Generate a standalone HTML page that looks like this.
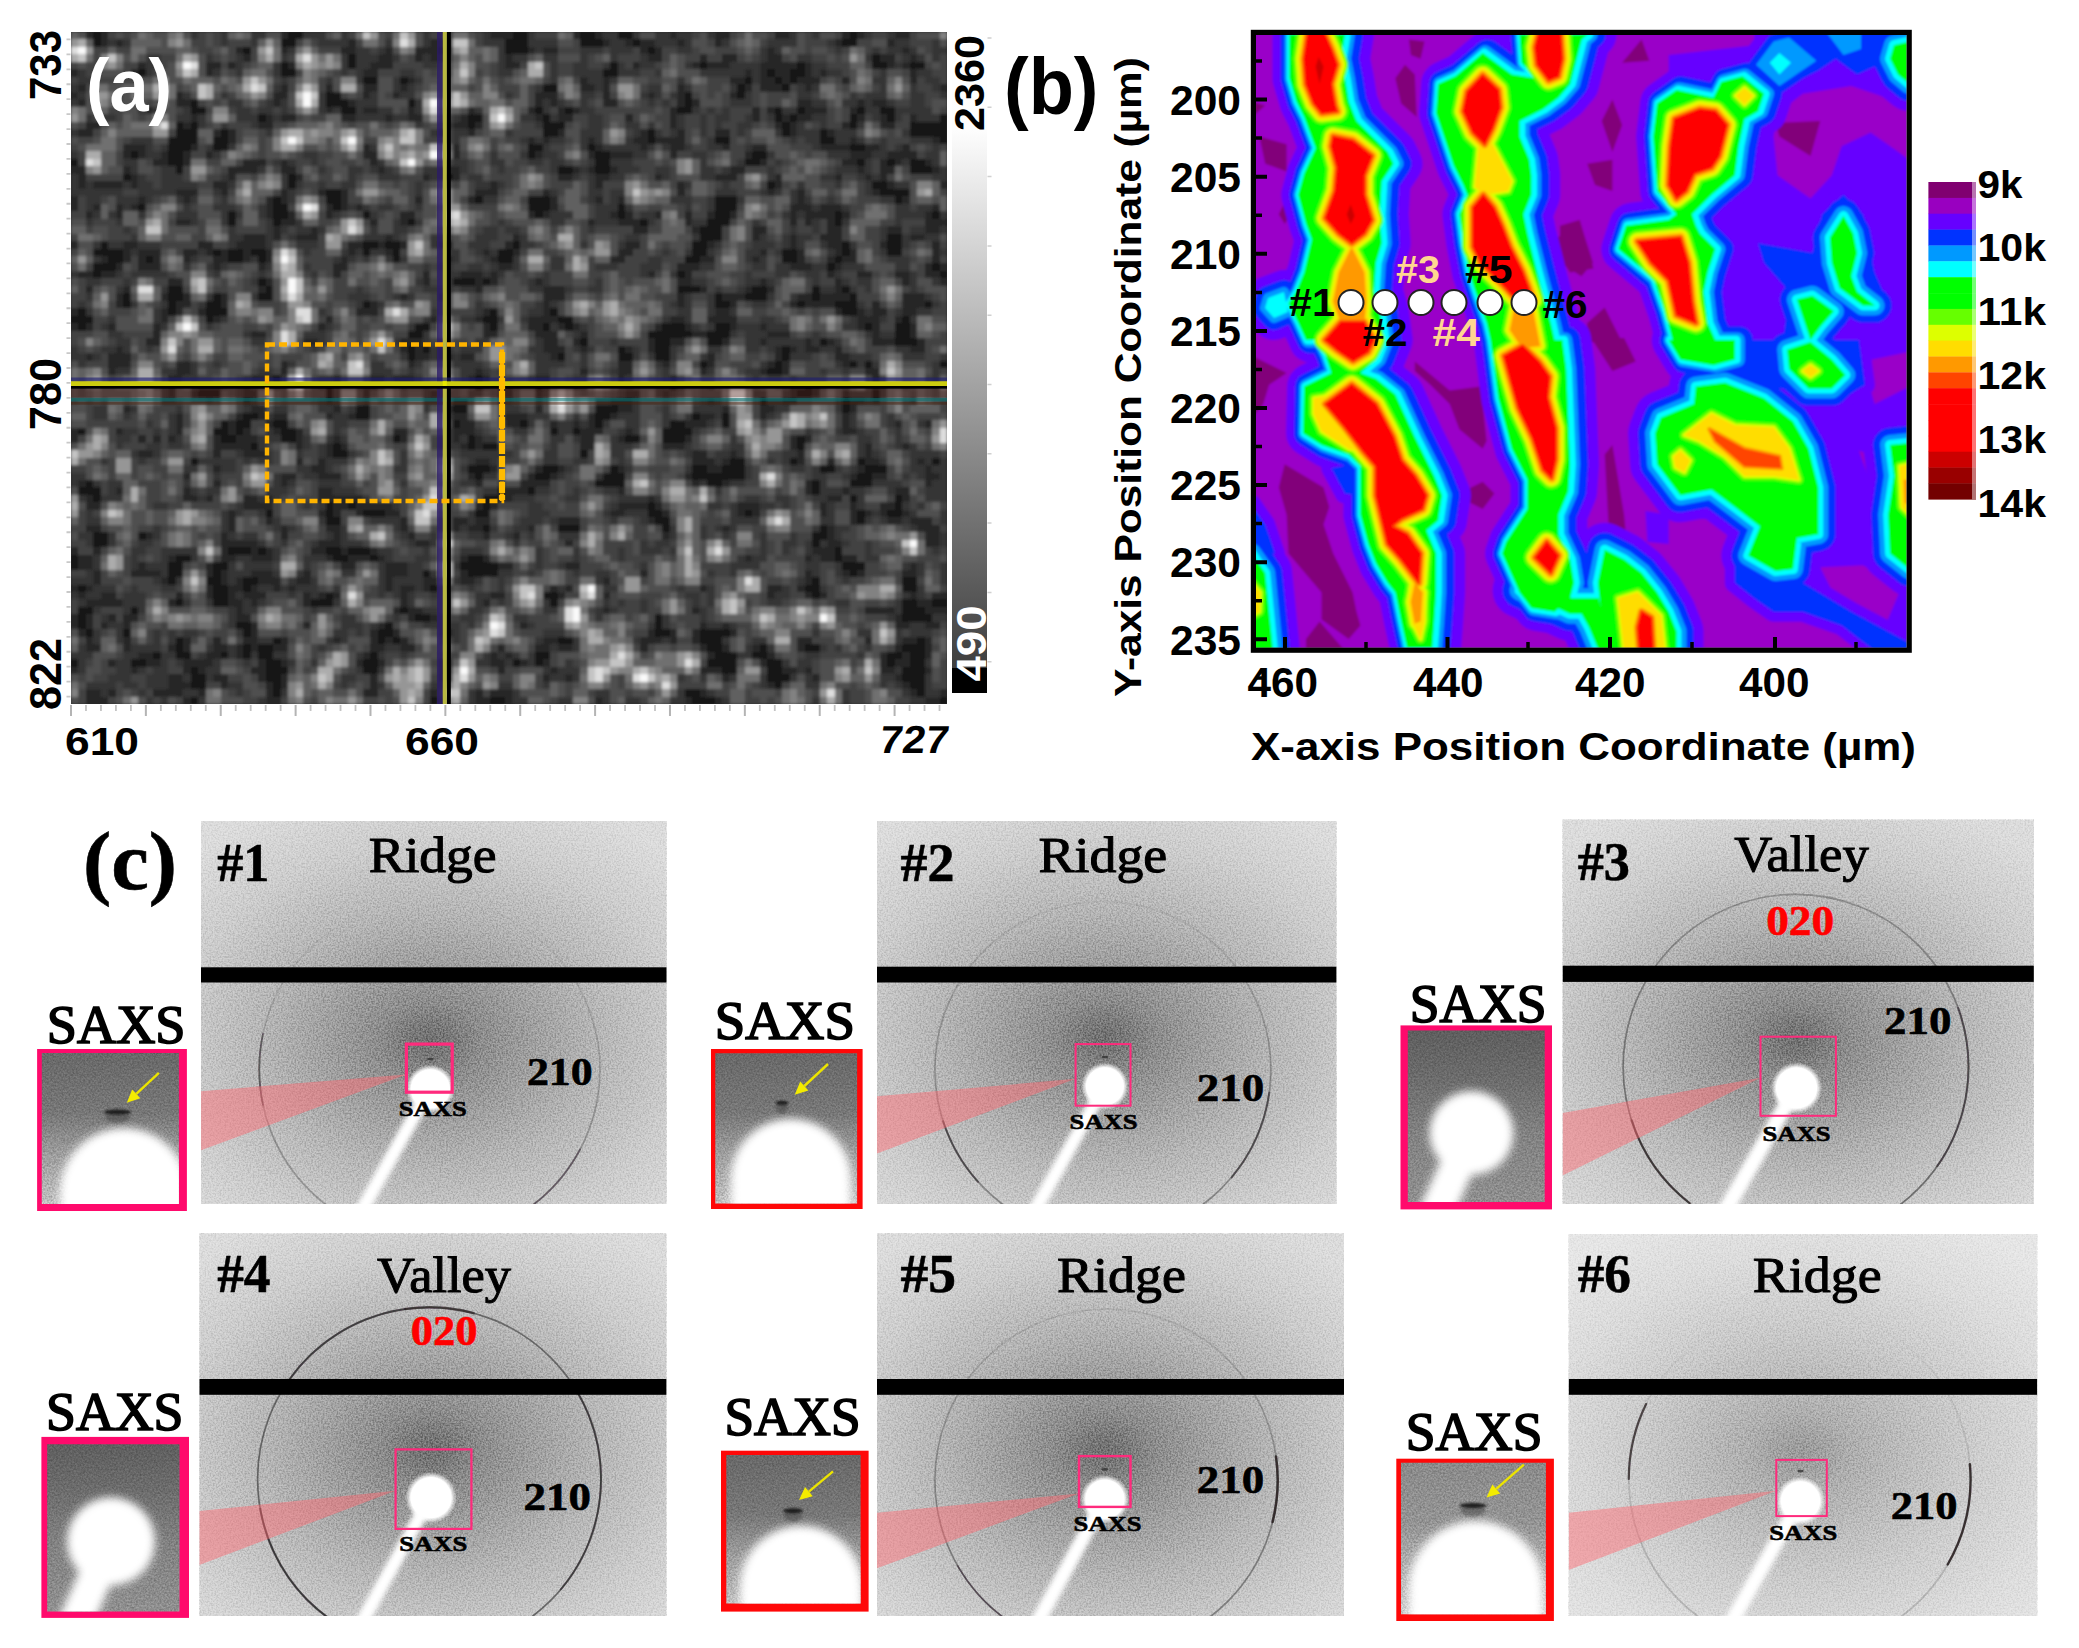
<!DOCTYPE html>
<html><head><meta charset="utf-8"><title>Figure</title>
<style>html,body{margin:0;padding:0;background:#fff;width:2079px;height:1648px}svg{display:block}</style>
</head><body>
<svg width="2079" height="1648" viewBox="0 0 2079 1648">
<defs>
<filter id="bl05" x="-20%" y="-20%" width="140%" height="140%"><feGaussianBlur stdDeviation="0.6"/></filter>
<filter id="bl1" x="-50%" y="-50%" width="200%" height="200%"><feGaussianBlur stdDeviation="1"/></filter>
<filter id="bl2" x="-50%" y="-50%" width="200%" height="200%"><feGaussianBlur stdDeviation="1.6"/></filter>
<filter id="bl3" x="-50%" y="-50%" width="200%" height="200%"><feGaussianBlur stdDeviation="2.6"/></filter>
<filter id="bl4" x="-50%" y="-50%" width="200%" height="200%"><feGaussianBlur stdDeviation="4"/></filter>
<filter id="bl6" x="-50%" y="-50%" width="200%" height="200%"><feGaussianBlur stdDeviation="6"/></filter>
<filter id="grain2" x="0" y="0" width="100%" height="100%" color-interpolation-filters="sRGB"><feTurbulence type="fractalNoise" baseFrequency="0.6" numOctaves="2" seed="3"/><feColorMatrix type="matrix" values="2.2 0 0 0 -0.6  2.2 0 0 0 -0.6  2.2 0 0 0 -0.6  0 0 0 0 1"/></filter>
<filter id="grain" x="0" y="0" width="100%" height="100%"><feTurbulence type="fractalNoise" baseFrequency="0.55" numOctaves="2" seed="7"/><feColorMatrix type="matrix" values="0 0 0 0 0  0 0 0 0 0  0 0 0 0 0  1.6 0 0 0 -0.45"/></filter>
<clipPath id="cpa"><rect x="71" y="32" width="876" height="672"/></clipPath>
<filter id="bla" x="-2%" y="-2%" width="104%" height="104%"><feGaussianBlur stdDeviation="0.23"/></filter>
<linearGradient id="cba" x1="0" y1="0" x2="0" y2="1"><stop offset="0" stop-color="#fff"/><stop offset="0.15" stop-color="#fdfdfd"/><stop offset="0.962" stop-color="#3e3e3e"/><stop offset="0.963" stop-color="#000"/><stop offset="1" stop-color="#000"/></linearGradient>
<clipPath id="cpb"><rect x="1256" y="34.6" width="650.6" height="613.2"/></clipPath>
<filter id="blb" x="-5%" y="-5%" width="110%" height="110%"><feGaussianBlur stdDeviation="0.9"/></filter>
<clipPath id="cp1"><rect x="201" y="820.9" width="465.7" height="383.2"/></clipPath>
<radialGradient id="hg1" gradientUnits="userSpaceOnUse" cx="430.3" cy="1040.9" r="260" gradientTransform="translate(430.3 1040.9) scale(1.3 1) translate(-430.3 -1040.9)"><stop offset="0" stop-color="#707070"/><stop offset="0.06" stop-color="#797979"/><stop offset="0.15" stop-color="#8d8d8d"/><stop offset="0.3" stop-color="#a0a0a0"/><stop offset="0.5" stop-color="#b7b7b7"/><stop offset="0.75" stop-color="#cdcdcd"/><stop offset="1" stop-color="#dcdcdc"/></radialGradient>
<radialGradient id="bg1" gradientUnits="userSpaceOnUse" cx="430.3" cy="1088.9" r="24.6"><stop offset="0" stop-color="#fff"/><stop offset="0.78" stop-color="#fff"/><stop offset="1" stop-color="#fff" stop-opacity="0"/></radialGradient>
<linearGradient id="rg1" gradientUnits="userSpaceOnUse" x1="0" y1="899" x2="0" y2="1137.5"><stop offset="0" stop-color="#333" stop-opacity="0.0"/><stop offset="0.45" stop-color="#333" stop-opacity="0.175"/><stop offset="1" stop-color="#333" stop-opacity="0.35"/></linearGradient>
<clipPath id="ci1"><rect x="41.8" y="1053" width="137.1" height="151"/></clipPath>
<linearGradient id="ig1" x1="0" y1="0" x2="0" y2="1"><stop offset="0" stop-color="#747474"/><stop offset="0.4" stop-color="#868686"/><stop offset="0.65" stop-color="#b0b0b0"/><stop offset="1" stop-color="#dcdcdc"/></linearGradient>
<clipPath id="cp2"><rect x="877" y="820.9" width="459.6" height="383.2"/></clipPath>
<radialGradient id="hg2" gradientUnits="userSpaceOnUse" cx="1104.9" cy="1038.2" r="260" gradientTransform="translate(1104.9 1038.2) scale(1.3 1) translate(-1104.9 -1038.2)"><stop offset="0" stop-color="#707070"/><stop offset="0.06" stop-color="#797979"/><stop offset="0.15" stop-color="#8d8d8d"/><stop offset="0.3" stop-color="#a0a0a0"/><stop offset="0.5" stop-color="#b7b7b7"/><stop offset="0.75" stop-color="#cdcdcd"/><stop offset="1" stop-color="#dcdcdc"/></radialGradient>
<radialGradient id="bg2" gradientUnits="userSpaceOnUse" cx="1104.9" cy="1086.2" r="23.8"><stop offset="0" stop-color="#fff"/><stop offset="0.78" stop-color="#fff"/><stop offset="1" stop-color="#fff" stop-opacity="0"/></radialGradient>
<linearGradient id="rg2" gradientUnits="userSpaceOnUse" x1="0" y1="901.3" x2="0" y2="1136.6"><stop offset="0" stop-color="#333" stop-opacity="0.08"/><stop offset="0.45" stop-color="#333" stop-opacity="0.265"/><stop offset="1" stop-color="#333" stop-opacity="0.45"/></linearGradient>
<clipPath id="ci2"><rect x="715.3" y="1053.3" width="141.8" height="150.2"/></clipPath>
<linearGradient id="ig2" x1="0" y1="0" x2="0" y2="1"><stop offset="0" stop-color="#747474"/><stop offset="0.4" stop-color="#868686"/><stop offset="0.65" stop-color="#b0b0b0"/><stop offset="1" stop-color="#dcdcdc"/></linearGradient>
<clipPath id="cp3"><rect x="1562.5" y="819.5" width="471.4" height="384.5"/></clipPath>
<radialGradient id="hg3" gradientUnits="userSpaceOnUse" cx="1796.5" cy="1039.9" r="260" gradientTransform="translate(1796.5 1039.9) scale(1.3 1) translate(-1796.5 -1039.9)"><stop offset="0" stop-color="#707070"/><stop offset="0.06" stop-color="#797979"/><stop offset="0.15" stop-color="#8d8d8d"/><stop offset="0.3" stop-color="#a0a0a0"/><stop offset="0.5" stop-color="#b7b7b7"/><stop offset="0.75" stop-color="#cdcdcd"/><stop offset="1" stop-color="#dcdcdc"/></radialGradient>
<radialGradient id="bg3" gradientUnits="userSpaceOnUse" cx="1796.5" cy="1087.9" r="25.8"><stop offset="0" stop-color="#fff"/><stop offset="0.78" stop-color="#fff"/><stop offset="1" stop-color="#fff" stop-opacity="0"/></radialGradient>
<linearGradient id="rg3" gradientUnits="userSpaceOnUse" x1="0" y1="894.3" x2="0" y2="1136.1"><stop offset="0" stop-color="#333" stop-opacity="0.35"/><stop offset="0.45" stop-color="#333" stop-opacity="0.475"/><stop offset="1" stop-color="#333" stop-opacity="0.6"/></linearGradient>
<clipPath id="ci3"><rect x="1407.8" y="1030.4" width="136.9" height="171.7"/></clipPath>
<linearGradient id="ig3" x1="0" y1="0" x2="0" y2="1"><stop offset="0" stop-color="#686868"/><stop offset="0.3" stop-color="#7a7a7a"/><stop offset="0.6" stop-color="#929292"/><stop offset="1" stop-color="#a2a2a2"/></linearGradient>
<clipPath id="cp4"><rect x="199.3" y="1233.3" width="467.3" height="382.8"/></clipPath>
<radialGradient id="hg4" gradientUnits="userSpaceOnUse" cx="431" cy="1449.6" r="260" gradientTransform="translate(431 1449.6) scale(1.3 1) translate(-431 -1449.6)"><stop offset="0" stop-color="#707070"/><stop offset="0.06" stop-color="#797979"/><stop offset="0.15" stop-color="#8d8d8d"/><stop offset="0.3" stop-color="#a0a0a0"/><stop offset="0.5" stop-color="#b7b7b7"/><stop offset="0.75" stop-color="#cdcdcd"/><stop offset="1" stop-color="#dcdcdc"/></radialGradient>
<radialGradient id="bg4" gradientUnits="userSpaceOnUse" cx="431" cy="1497.6" r="25.8"><stop offset="0" stop-color="#fff"/><stop offset="0.78" stop-color="#fff"/><stop offset="1" stop-color="#fff" stop-opacity="0"/></radialGradient>
<linearGradient id="rg4" gradientUnits="userSpaceOnUse" x1="0" y1="1307.3" x2="0" y2="1547.7"><stop offset="0" stop-color="#333" stop-opacity="0.6"/><stop offset="0.45" stop-color="#333" stop-opacity="0.625"/><stop offset="1" stop-color="#333" stop-opacity="0.65"/></linearGradient>
<clipPath id="ci4"><rect x="47.2" y="1444.2" width="132.3" height="167.2"/></clipPath>
<linearGradient id="ig4" x1="0" y1="0" x2="0" y2="1"><stop offset="0" stop-color="#686868"/><stop offset="0.3" stop-color="#7a7a7a"/><stop offset="0.6" stop-color="#929292"/><stop offset="1" stop-color="#a2a2a2"/></linearGradient>
<clipPath id="cp5"><rect x="877" y="1233.3" width="467" height="382.8"/></clipPath>
<radialGradient id="hg5" gradientUnits="userSpaceOnUse" cx="1104.9" cy="1451.2" r="260" gradientTransform="translate(1104.9 1451.2) scale(1.3 1) translate(-1104.9 -1451.2)"><stop offset="0" stop-color="#707070"/><stop offset="0.06" stop-color="#797979"/><stop offset="0.15" stop-color="#8d8d8d"/><stop offset="0.3" stop-color="#a0a0a0"/><stop offset="0.5" stop-color="#b7b7b7"/><stop offset="0.75" stop-color="#cdcdcd"/><stop offset="1" stop-color="#dcdcdc"/></radialGradient>
<radialGradient id="bg5" gradientUnits="userSpaceOnUse" cx="1104.9" cy="1499.2" r="24.6"><stop offset="0" stop-color="#fff"/><stop offset="0.78" stop-color="#fff"/><stop offset="1" stop-color="#fff" stop-opacity="0"/></radialGradient>
<linearGradient id="rg5" gradientUnits="userSpaceOnUse" x1="0" y1="1309" x2="0" y2="1548.9"><stop offset="0" stop-color="#333" stop-opacity="0.12"/><stop offset="0.45" stop-color="#333" stop-opacity="0.31"/><stop offset="1" stop-color="#333" stop-opacity="0.5"/></linearGradient>
<clipPath id="ci5"><rect x="726.3" y="1455" width="134.3" height="148.6"/></clipPath>
<linearGradient id="ig5" x1="0" y1="0" x2="0" y2="1"><stop offset="0" stop-color="#747474"/><stop offset="0.4" stop-color="#868686"/><stop offset="0.65" stop-color="#b0b0b0"/><stop offset="1" stop-color="#dcdcdc"/></linearGradient>
<clipPath id="cp6"><rect x="1568.6" y="1234.3" width="468.7" height="381.8"/></clipPath>
<radialGradient id="hg6" gradientUnits="userSpaceOnUse" cx="1800.5" cy="1452.9" r="260" gradientTransform="translate(1800.5 1452.9) scale(1.3 1) translate(-1800.5 -1452.9)"><stop offset="0" stop-color="#707070"/><stop offset="0.06" stop-color="#797979"/><stop offset="0.15" stop-color="#8d8d8d"/><stop offset="0.3" stop-color="#a0a0a0"/><stop offset="0.5" stop-color="#b7b7b7"/><stop offset="0.75" stop-color="#cdcdcd"/><stop offset="1" stop-color="#dcdcdc"/></radialGradient>
<radialGradient id="bg6" gradientUnits="userSpaceOnUse" cx="1800.5" cy="1500.9" r="24.6"><stop offset="0" stop-color="#fff"/><stop offset="0.78" stop-color="#fff"/><stop offset="1" stop-color="#fff" stop-opacity="0"/></radialGradient>
<linearGradient id="rg6" gradientUnits="userSpaceOnUse" x1="0" y1="1308.2" x2="0" y2="1547.4"><stop offset="0" stop-color="#333" stop-opacity="0.0"/><stop offset="0.45" stop-color="#333" stop-opacity="0.11"/><stop offset="1" stop-color="#333" stop-opacity="0.22"/></linearGradient>
<clipPath id="ci6"><rect x="1401" y="1462.7" width="144.9" height="151.6"/></clipPath>
<linearGradient id="ig6" x1="0" y1="0" x2="0" y2="1"><stop offset="0" stop-color="#9a9a9a"/><stop offset="0.4" stop-color="#a6a6a6"/><stop offset="0.65" stop-color="#c4c4c4"/><stop offset="1" stop-color="#e6e6e6"/></linearGradient></defs>
<rect width="2079" height="1648" fill="#fff"/>
<g clip-path="url(#cpa)"><g transform="translate(71 32) scale(7.4872 7.4667)" filter="url(#bla)" shape-rendering="crispEdges">
<rect x="-1" y="-1" width="119" height="92" fill="rgb(38,38,38)"/>
<path fill="rgb(24,24,24)" d="M3 0h1v1h-1zM29 0h2v1h-2zM59 0h2v1h-2zM68 0h2v1h-2zM73 0h2v1h-2zM104 0h1v1h-1zM3 1h1v1h-1zM28 1h2v1h-2zM58 1h3v1h-3zM68 1h3v1h-3zM75 1h1v1h-1zM103 1h2v1h-2zM23 2h1v1h-1zM49 2h1v1h-1zM58 2h3v1h-3zM77 2h1v1h-1zM37 3h1v1h-1zM107 3h1v1h-1zM28 4h1v1h-1zM37 4h1v1h-1zM72 4h1v1h-1zM84 4h1v1h-1zM97 4h1v1h-1zM107 4h2v1h-2zM112 4h2v1h-2zM9 5h1v1h-1zM28 5h2v1h-2zM71 5h2v1h-2zM93 5h1v1h-1zM96 5h2v1h-2zM39 6h2v1h-2zM44 6h1v1h-1zM90 6h1v1h-1zM94 6h1v1h-1zM96 6h1v1h-1zM63 7h2v1h-2zM89 7h1v1h-1zM95 7h1v1h-1zM34 8h2v1h-2zM82 8h1v1h-1zM89 8h1v1h-1zM16 9h1v1h-1zM34 9h3v1h-3zM45 9h1v1h-1zM82 9h1v1h-1zM16 10h2v1h-2zM36 10h2v1h-2zM62 10h1v1h-1zM66 10h1v1h-1zM81 10h2v1h-2zM94 10h1v1h-1zM97 10h1v1h-1zM105 10h1v1h-1zM108 10h2v1h-2zM25 11h1v1h-1zM53 11h2v1h-2zM63 11h1v1h-1zM94 11h1v1h-1zM96 11h1v1h-1zM104 11h1v1h-1zM109 11h1v1h-1zM116 11h1v1h-1zM14 12h1v1h-1zM16 12h1v1h-1zM53 12h1v1h-1zM63 12h3v1h-3zM95 12h1v1h-1zM104 12h1v1h-1zM112 12h5v1h-5zM14 13h3v1h-3zM20 13h1v1h-1zM63 13h2v1h-2zM77 13h1v1h-1zM95 13h1v1h-1zM100 13h1v1h-1zM112 13h5v1h-5zM13 14h4v1h-4zM19 14h2v1h-2zM77 14h1v1h-1zM86 14h2v1h-2zM100 14h2v1h-2zM116 14h1v1h-1zM13 15h3v1h-3zM19 15h2v1h-2zM61 15h2v1h-2zM69 15h1v1h-1zM104 15h2v1h-2zM8 16h1v1h-1zM13 16h2v1h-2zM61 16h1v1h-1zM70 16h2v1h-2zM91 16h2v1h-2zM0 17h1v1h-1zM13 17h2v1h-2zM70 17h2v1h-2zM90 17h2v1h-2zM105 17h1v1h-1zM109 17h1v1h-1zM112 17h2v1h-2zM14 18h1v1h-1zM65 18h2v1h-2zM70 18h2v1h-2zM112 18h3v1h-3zM7 19h1v1h-1zM29 19h1v1h-1zM50 19h1v1h-1zM29 20h1v1h-1zM93 20h1v1h-1zM107 20h2v1h-2zM34 21h2v1h-2zM108 21h4v1h-4zM27 22h1v1h-1zM34 22h2v1h-2zM54 22h1v1h-1zM61 22h3v1h-3zM86 22h3v1h-3zM110 22h1v1h-1zM9 23h1v1h-1zM27 23h2v1h-2zM35 23h1v1h-1zM61 23h3v1h-3zM73 23h1v1h-1zM86 23h3v1h-3zM21 24h1v1h-1zM27 24h2v1h-2zM39 24h1v1h-1zM62 24h1v1h-1zM73 24h1v1h-1zM86 24h2v1h-2zM102 24h1v1h-1zM115 24h1v1h-1zM21 25h1v1h-1zM27 25h1v1h-1zM45 25h1v1h-1zM76 25h1v1h-1zM85 25h3v1h-3zM102 25h1v1h-1zM84 26h3v1h-3zM84 27h3v1h-3zM109 27h2v1h-2zM4 28h1v1h-1zM39 28h2v1h-2zM42 28h2v1h-2zM59 28h1v1h-1zM83 28h2v1h-2zM103 28h1v1h-1zM109 28h2v1h-2zM3 29h4v1h-4zM19 29h1v1h-1zM21 29h2v1h-2zM24 29h2v1h-2zM39 29h1v1h-1zM43 29h1v1h-1zM57 29h2v1h-2zM83 29h2v1h-2zM95 29h2v1h-2zM103 29h1v1h-1zM109 29h2v1h-2zM5 30h2v1h-2zM10 30h1v1h-1zM21 30h2v1h-2zM25 30h1v1h-1zM43 30h1v1h-1zM57 30h2v1h-2zM82 30h2v1h-2zM95 30h2v1h-2zM102 30h1v1h-1zM3 31h3v1h-3zM101 31h1v1h-1zM115 31h1v1h-1zM3 32h1v1h-1zM81 32h1v1h-1zM116 32h1v1h-1zM25 33h1v1h-1zM51 33h3v1h-3zM55 33h1v1h-1zM13 34h2v1h-2zM26 34h1v1h-1zM81 34h3v1h-3zM91 34h2v1h-2zM99 34h1v1h-1zM103 34h1v1h-1zM7 35h1v1h-1zM13 35h2v1h-2zM19 35h1v1h-1zM25 35h2v1h-2zM86 35h1v1h-1zM90 35h3v1h-3zM99 35h1v1h-1zM104 35h1v1h-1zM7 36h1v1h-1zM13 36h1v1h-1zM18 36h2v1h-2zM39 36h1v1h-1zM86 36h2v1h-2zM97 36h1v1h-1zM102 36h3v1h-3zM114 36h1v1h-1zM1 37h1v1h-1zM13 37h1v1h-1zM18 37h3v1h-3zM56 37h1v1h-1zM64 37h1v1h-1zM103 37h2v1h-2zM0 38h3v1h-3zM18 38h1v1h-1zM55 38h2v1h-2zM65 38h2v1h-2zM111 38h1v1h-1zM1 39h1v1h-1zM46 39h2v1h-2zM56 39h1v1h-1zM63 39h1v1h-1zM66 39h1v1h-1zM79 39h3v1h-3zM86 39h2v1h-2zM106 39h1v1h-1zM110 39h2v1h-2zM45 40h2v1h-2zM77 40h6v1h-6zM85 40h3v1h-3zM110 40h2v1h-2zM68 41h1v1h-1zM78 41h2v1h-2zM85 41h2v1h-2zM100 41h1v1h-1zM110 41h3v1h-3zM45 42h1v1h-1zM47 42h1v1h-1zM73 42h1v1h-1zM78 42h2v1h-2zM95 42h1v1h-1zM45 43h1v1h-1zM65 43h1v1h-1zM73 43h2v1h-2zM78 43h2v1h-2zM95 43h1v1h-1zM84 44h1v1h-1zM94 44h1v1h-1zM104 44h1v1h-1zM106 44h1v1h-1zM116 44h1v1h-1zM93 45h2v1h-2zM27 46h1v1h-1zM54 46h1v1h-1zM34 47h1v1h-1zM54 47h1v1h-1zM62 47h1v1h-1zM80 47h1v1h-1zM98 47h1v1h-1zM17 48h3v1h-3zM34 48h1v1h-1zM97 48h2v1h-2zM107 48h1v1h-1zM92 49h1v1h-1zM103 49h1v1h-1zM38 50h2v1h-2zM51 50h2v1h-2zM70 50h3v1h-3zM103 50h1v1h-1zM23 51h2v1h-2zM38 51h2v1h-2zM70 51h2v1h-2zM83 51h1v1h-1zM87 51h1v1h-1zM20 52h1v1h-1zM22 52h2v1h-2zM27 52h2v1h-2zM51 52h1v1h-1zM60 52h1v1h-1zM70 52h1v1h-1zM80 52h2v1h-2zM87 52h1v1h-1zM1 53h1v1h-1zM19 53h2v1h-2zM22 53h1v1h-1zM28 53h2v1h-2zM64 53h1v1h-1zM67 53h1v1h-1zM79 53h4v1h-4zM20 54h2v1h-2zM28 54h2v1h-2zM43 54h1v1h-1zM53 54h1v1h-1zM74 54h2v1h-2zM79 54h3v1h-3zM97 54h1v1h-1zM24 55h1v1h-1zM35 55h1v1h-1zM53 55h1v1h-1zM55 55h2v1h-2zM97 55h1v1h-1zM35 56h2v1h-2zM68 56h1v1h-1zM16 57h1v1h-1zM88 57h2v1h-2zM96 57h1v1h-1zM105 57h1v1h-1zM115 57h1v1h-1zM53 58h3v1h-3zM63 58h2v1h-2zM72 58h1v1h-1zM83 58h2v1h-2zM87 58h3v1h-3zM100 58h2v1h-2zM106 58h3v1h-3zM54 59h1v1h-1zM62 59h2v1h-2zM71 59h3v1h-3zM83 59h7v1h-7zM105 59h2v1h-2zM2 60h1v1h-1zM70 60h4v1h-4zM85 60h2v1h-2zM99 60h1v1h-1zM104 60h3v1h-3zM1 61h3v1h-3zM57 61h1v1h-1zM61 61h1v1h-1zM99 61h1v1h-1zM3 62h1v1h-1zM55 62h2v1h-2zM104 62h1v1h-1zM110 62h1v1h-1zM34 63h1v1h-1zM37 63h1v1h-1zM55 63h1v1h-1zM77 63h1v1h-1zM110 63h1v1h-1zM26 64h1v1h-1zM34 64h1v1h-1zM39 64h3v1h-3zM54 64h2v1h-2zM77 64h2v1h-2zM90 64h1v1h-1zM105 64h1v1h-1zM109 64h2v1h-2zM34 65h2v1h-2zM78 65h2v1h-2zM105 65h1v1h-1zM55 66h1v1h-1zM65 66h3v1h-3zM79 66h1v1h-1zM100 66h1v1h-1zM3 67h2v1h-2zM9 67h1v1h-1zM99 67h2v1h-2zM3 68h2v1h-2zM99 68h1v1h-1zM21 69h3v1h-3zM25 69h1v1h-1zM34 69h2v1h-2zM37 69h3v1h-3zM102 69h1v1h-1zM0 70h1v1h-1zM14 70h2v1h-2zM35 70h2v1h-2zM40 70h1v1h-1zM53 70h2v1h-2zM102 70h1v1h-1zM0 71h1v1h-1zM13 71h2v1h-2zM19 71h2v1h-2zM52 71h5v1h-5zM103 71h3v1h-3zM13 72h2v1h-2zM19 72h1v1h-1zM47 72h1v1h-1zM53 72h4v1h-4zM104 72h1v1h-1zM13 73h1v1h-1zM18 73h2v1h-2zM23 73h2v1h-2zM99 73h1v1h-1zM111 73h2v1h-2zM1 74h1v1h-1zM19 74h2v1h-2zM23 74h1v1h-1zM48 74h1v1h-1zM98 74h2v1h-2zM111 74h2v1h-2zM19 75h2v1h-2zM34 75h1v1h-1zM63 75h2v1h-2zM99 75h1v1h-1zM14 76h1v1h-1zM19 76h2v1h-2zM32 76h3v1h-3zM64 76h1v1h-1zM111 76h2v1h-2zM115 76h2v1h-2zM1 77h2v1h-2zM8 77h1v1h-1zM44 77h1v1h-1zM111 77h3v1h-3zM1 78h1v1h-1zM46 78h2v1h-2zM78 78h1v1h-1zM111 78h4v1h-4zM1 79h1v1h-1zM22 79h2v1h-2zM42 79h1v1h-1zM78 79h1v1h-1zM2 80h1v1h-1zM7 80h1v1h-1zM23 80h1v1h-1zM41 80h2v1h-2zM78 80h2v1h-2zM84 80h4v1h-4zM14 81h1v1h-1zM27 81h1v1h-1zM41 81h1v1h-1zM43 81h1v1h-1zM65 81h2v1h-2zM84 81h3v1h-3zM113 81h1v1h-1zM14 82h1v1h-1zM23 82h1v1h-1zM25 82h2v1h-2zM85 82h2v1h-2zM92 82h1v1h-1zM98 82h2v1h-2zM111 82h3v1h-3zM11 83h1v1h-1zM14 83h2v1h-2zM20 83h1v1h-1zM23 83h1v1h-1zM25 83h2v1h-2zM40 83h1v1h-1zM62 83h2v1h-2zM86 83h3v1h-3zM91 83h2v1h-2zM109 83h2v1h-2zM112 83h2v1h-2zM0 84h1v1h-1zM8 84h2v1h-2zM26 84h2v1h-2zM39 84h2v1h-2zM59 84h1v1h-1zM62 84h1v1h-1zM85 84h4v1h-4zM93 84h2v1h-2zM109 84h1v1h-1zM112 84h2v1h-2zM16 85h1v1h-1zM26 85h3v1h-3zM39 85h2v1h-2zM87 85h2v1h-2zM93 85h2v1h-2zM111 85h3v1h-3zM16 86h2v1h-2zM26 86h2v1h-2zM93 86h3v1h-3zM111 86h3v1h-3zM16 87h2v1h-2zM27 87h1v1h-1zM94 87h1v1h-1zM112 87h2v1h-2zM27 88h1v1h-1zM82 88h2v1h-2zM113 88h1v1h-1zM16 89h1v1h-1zM48 89h1v1h-1zM56 89h2v1h-2zM83 89h3v1h-3zM116 89h1v1h-1z"/>
<path fill="rgb(52,52,52)" d="M16 0h1v1h-1zM20 0h1v1h-1zM24 0h2v1h-2zM31 0h3v1h-3zM36 0h1v1h-1zM47 0h1v1h-1zM55 0h1v1h-1zM61 0h1v1h-1zM71 0h2v1h-2zM75 0h1v1h-1zM78 0h2v1h-2zM81 0h2v1h-2zM85 0h1v1h-1zM96 0h1v1h-1zM99 0h1v1h-1zM106 0h1v1h-1zM109 0h1v1h-1zM5 1h1v1h-1zM7 1h1v1h-1zM20 1h1v1h-1zM24 1h1v1h-1zM33 1h4v1h-4zM42 1h1v1h-1zM47 1h1v1h-1zM55 1h3v1h-3zM61 1h4v1h-4zM72 1h2v1h-2zM78 1h3v1h-3zM82 1h1v1h-1zM87 1h1v1h-1zM93 1h4v1h-4zM101 1h1v1h-1zM110 1h2v1h-2zM115 1h1v1h-1zM29 2h1v1h-1zM38 2h2v1h-2zM41 2h1v1h-1zM50 2h1v1h-1zM57 2h1v1h-1zM62 2h1v1h-1zM68 2h3v1h-3zM72 2h3v1h-3zM81 2h2v1h-2zM92 2h1v1h-1zM94 2h1v1h-1zM102 2h1v1h-1zM107 2h1v1h-1zM109 2h2v1h-2zM112 2h1v1h-1zM115 2h2v1h-2zM10 3h2v1h-2zM18 3h1v1h-1zM22 3h1v1h-1zM28 3h1v1h-1zM36 3h1v1h-1zM38 3h3v1h-3zM43 3h1v1h-1zM47 3h1v1h-1zM57 3h1v1h-1zM59 3h2v1h-2zM63 3h2v1h-2zM68 3h1v1h-1zM72 3h1v1h-1zM76 3h1v1h-1zM92 3h1v1h-1zM97 3h2v1h-2zM106 3h1v1h-1zM111 3h1v1h-1zM113 3h1v1h-1zM115 3h1v1h-1zM10 4h2v1h-2zM22 4h1v1h-1zM27 4h1v1h-1zM36 4h1v1h-1zM38 4h2v1h-2zM47 4h2v1h-2zM57 4h1v1h-1zM64 4h1v1h-1zM67 4h2v1h-2zM71 4h1v1h-1zM73 4h1v1h-1zM76 4h2v1h-2zM82 4h1v1h-1zM88 4h4v1h-4zM99 4h2v1h-2zM110 4h1v1h-1zM1 5h1v1h-1zM3 5h1v1h-1zM10 5h1v1h-1zM19 5h1v1h-1zM22 5h1v1h-1zM27 5h1v1h-1zM36 5h1v1h-1zM38 5h1v1h-1zM44 5h2v1h-2zM57 5h2v1h-2zM64 5h1v1h-1zM67 5h4v1h-4zM73 5h3v1h-3zM78 5h1v1h-1zM84 5h6v1h-6zM91 5h1v1h-1zM99 5h1v1h-1zM101 5h2v1h-2zM108 5h1v1h-1zM113 5h2v1h-2zM1 6h2v1h-2zM28 6h1v1h-1zM34 6h1v1h-1zM38 6h1v1h-1zM43 6h1v1h-1zM46 6h1v1h-1zM64 6h1v1h-1zM69 6h2v1h-2zM72 6h1v1h-1zM81 6h1v1h-1zM91 6h1v1h-1zM107 6h2v1h-2zM114 6h2v1h-2zM0 7h1v1h-1zM27 7h1v1h-1zM43 7h1v1h-1zM45 7h1v1h-1zM62 7h1v1h-1zM70 7h1v1h-1zM77 7h2v1h-2zM82 7h1v1h-1zM88 7h1v1h-1zM97 7h1v1h-1zM99 7h1v1h-1zM108 7h1v1h-1zM112 7h1v1h-1zM115 7h1v1h-1zM1 8h1v1h-1zM15 8h1v1h-1zM20 8h1v1h-1zM33 8h1v1h-1zM40 8h1v1h-1zM44 8h2v1h-2zM58 8h1v1h-1zM68 8h2v1h-2zM76 8h1v1h-1zM78 8h1v1h-1zM80 8h1v1h-1zM90 8h1v1h-1zM97 8h2v1h-2zM104 8h1v1h-1zM106 8h3v1h-3zM112 8h2v1h-2zM116 8h1v1h-1zM0 9h1v1h-1zM21 9h2v1h-2zM26 9h1v1h-1zM28 9h1v1h-1zM33 9h1v1h-1zM38 9h3v1h-3zM46 9h1v1h-1zM63 9h1v1h-1zM65 9h1v1h-1zM68 9h1v1h-1zM77 9h1v1h-1zM79 9h1v1h-1zM88 9h3v1h-3zM99 9h2v1h-2zM103 9h2v1h-2zM106 9h1v1h-1zM109 9h1v1h-1zM112 9h2v1h-2zM9 10h1v1h-1zM11 10h1v1h-1zM15 10h1v1h-1zM22 10h2v1h-2zM25 10h2v1h-2zM28 10h1v1h-1zM33 10h1v1h-1zM35 10h1v1h-1zM38 10h1v1h-1zM41 10h2v1h-2zM46 10h1v1h-1zM54 10h1v1h-1zM63 10h1v1h-1zM68 10h2v1h-2zM83 10h1v1h-1zM85 10h1v1h-1zM87 10h1v1h-1zM95 10h2v1h-2zM106 10h2v1h-2zM110 10h5v1h-5zM2 11h1v1h-1zM4 11h2v1h-2zM14 11h2v1h-2zM17 11h1v1h-1zM22 11h3v1h-3zM27 11h1v1h-1zM38 11h4v1h-4zM43 11h2v1h-2zM51 11h1v1h-1zM60 11h2v1h-2zM64 11h1v1h-1zM69 11h2v1h-2zM81 11h1v1h-1zM84 11h1v1h-1zM86 11h2v1h-2zM90 11h1v1h-1zM93 11h1v1h-1zM99 11h2v1h-2zM107 11h1v1h-1zM110 11h1v1h-1zM113 11h3v1h-3zM17 12h1v1h-1zM20 12h1v1h-1zM24 12h1v1h-1zM46 12h1v1h-1zM50 12h1v1h-1zM62 12h1v1h-1zM69 12h2v1h-2zM74 12h2v1h-2zM77 12h1v1h-1zM81 12h1v1h-1zM84 12h1v1h-1zM86 12h1v1h-1zM89 12h2v1h-2zM97 12h1v1h-1zM100 12h1v1h-1zM105 12h1v1h-1zM0 13h1v1h-1zM26 13h1v1h-1zM48 13h1v1h-1zM51 13h2v1h-2zM58 13h1v1h-1zM68 13h3v1h-3zM75 13h1v1h-1zM78 13h1v1h-1zM80 13h1v1h-1zM84 13h1v1h-1zM89 13h1v1h-1zM94 13h1v1h-1zM97 13h3v1h-3zM102 13h3v1h-3zM111 13h1v1h-1zM8 14h3v1h-3zM51 14h1v1h-1zM60 14h1v1h-1zM62 14h1v1h-1zM64 14h2v1h-2zM68 14h1v1h-1zM70 14h1v1h-1zM74 14h1v1h-1zM85 14h1v1h-1zM96 14h1v1h-1zM98 14h2v1h-2zM102 14h2v1h-2zM105 14h1v1h-1zM108 14h1v1h-1zM112 14h3v1h-3zM10 15h1v1h-1zM12 15h1v1h-1zM18 15h1v1h-1zM21 15h1v1h-1zM40 15h1v1h-1zM63 15h1v1h-1zM68 15h1v1h-1zM71 15h5v1h-5zM77 15h1v1h-1zM79 15h1v1h-1zM82 15h1v1h-1zM85 15h2v1h-2zM90 15h1v1h-1zM99 15h1v1h-1zM108 15h1v1h-1zM110 15h1v1h-1zM115 15h1v1h-1zM0 16h1v1h-1zM10 16h2v1h-2zM19 16h1v1h-1zM31 16h2v1h-2zM56 16h1v1h-1zM60 16h1v1h-1zM63 16h2v1h-2zM75 16h2v1h-2zM83 16h2v1h-2zM93 16h1v1h-1zM101 16h3v1h-3zM107 16h2v1h-2zM114 16h2v1h-2zM7 17h2v1h-2zM27 17h1v1h-1zM29 17h1v1h-1zM32 17h1v1h-1zM41 17h1v1h-1zM51 17h2v1h-2zM56 17h2v1h-2zM61 17h2v1h-2zM64 17h2v1h-2zM69 17h1v1h-1zM72 17h3v1h-3zM84 17h1v1h-1zM89 17h1v1h-1zM94 17h1v1h-1zM106 17h1v1h-1zM111 17h1v1h-1zM115 17h1v1h-1zM8 18h1v1h-1zM12 18h2v1h-2zM25 18h1v1h-1zM33 18h1v1h-1zM37 18h2v1h-2zM40 18h1v1h-1zM42 18h1v1h-1zM47 18h3v1h-3zM52 18h1v1h-1zM57 18h1v1h-1zM64 18h1v1h-1zM68 18h1v1h-1zM73 18h3v1h-3zM78 18h2v1h-2zM84 18h2v1h-2zM87 18h1v1h-1zM93 18h1v1h-1zM102 18h3v1h-3zM106 18h1v1h-1zM116 18h1v1h-1zM0 19h1v1h-1zM9 19h1v1h-1zM12 19h3v1h-3zM20 19h1v1h-1zM28 19h1v1h-1zM37 19h1v1h-1zM41 19h3v1h-3zM48 19h2v1h-2zM53 19h2v1h-2zM67 19h1v1h-1zM69 19h1v1h-1zM72 19h2v1h-2zM79 19h1v1h-1zM84 19h2v1h-2zM93 19h1v1h-1zM100 19h2v1h-2zM105 19h1v1h-1zM107 19h1v1h-1zM115 19h2v1h-2zM0 20h1v1h-1zM2 20h1v1h-1zM7 20h1v1h-1zM9 20h2v1h-2zM12 20h5v1h-5zM21 20h1v1h-1zM28 20h1v1h-1zM30 20h1v1h-1zM33 20h1v1h-1zM36 20h2v1h-2zM46 20h1v1h-1zM54 20h2v1h-2zM57 20h1v1h-1zM69 20h1v1h-1zM82 20h1v1h-1zM87 20h1v1h-1zM97 20h1v1h-1zM102 20h1v1h-1zM106 20h1v1h-1zM110 20h2v1h-2zM0 21h7v1h-7zM9 21h5v1h-5zM19 21h1v1h-1zM29 21h1v1h-1zM46 21h1v1h-1zM64 21h1v1h-1zM69 21h2v1h-2zM72 21h2v1h-2zM86 21h3v1h-3zM92 21h1v1h-1zM94 21h1v1h-1zM96 21h1v1h-1zM106 21h1v1h-1zM2 22h2v1h-2zM6 22h3v1h-3zM10 22h1v1h-1zM14 22h1v1h-1zM16 22h1v1h-1zM20 22h1v1h-1zM29 22h1v1h-1zM55 22h2v1h-2zM69 22h1v1h-1zM72 22h1v1h-1zM80 22h3v1h-3zM85 22h1v1h-1zM89 22h1v1h-1zM96 22h1v1h-1zM98 22h1v1h-1zM101 22h1v1h-1zM108 22h2v1h-2zM2 23h1v1h-1zM7 23h1v1h-1zM15 23h1v1h-1zM19 23h3v1h-3zM25 23h1v1h-1zM37 23h1v1h-1zM39 23h1v1h-1zM41 23h2v1h-2zM46 23h1v1h-1zM70 23h3v1h-3zM74 23h1v1h-1zM82 23h1v1h-1zM85 23h1v1h-1zM99 23h1v1h-1zM103 23h1v1h-1zM110 23h2v1h-2zM113 23h2v1h-2zM3 24h1v1h-1zM5 24h1v1h-1zM9 24h1v1h-1zM14 24h3v1h-3zM20 24h1v1h-1zM22 24h1v1h-1zM25 24h1v1h-1zM35 24h1v1h-1zM40 24h1v1h-1zM64 24h3v1h-3zM70 24h2v1h-2zM76 24h2v1h-2zM95 24h1v1h-1zM97 24h1v1h-1zM110 24h4v1h-4zM116 24h1v1h-1zM2 25h1v1h-1zM6 25h1v1h-1zM16 25h1v1h-1zM20 25h1v1h-1zM26 25h1v1h-1zM30 25h1v1h-1zM43 25h1v1h-1zM46 25h1v1h-1zM57 25h1v1h-1zM64 25h2v1h-2zM70 25h3v1h-3zM77 25h1v1h-1zM83 25h2v1h-2zM91 25h1v1h-1zM99 25h1v1h-1zM103 25h1v1h-1zM110 25h1v1h-1zM7 26h1v1h-1zM21 26h1v1h-1zM26 26h1v1h-1zM28 26h1v1h-1zM30 26h2v1h-2zM33 26h1v1h-1zM40 26h1v1h-1zM43 26h2v1h-2zM55 26h2v1h-2zM58 26h2v1h-2zM69 26h1v1h-1zM96 26h1v1h-1zM99 26h1v1h-1zM108 26h1v1h-1zM112 26h2v1h-2zM116 26h1v1h-1zM8 27h1v1h-1zM21 27h2v1h-2zM26 27h1v1h-1zM29 27h1v1h-1zM39 27h3v1h-3zM43 27h1v1h-1zM48 27h2v1h-2zM54 27h3v1h-3zM60 27h1v1h-1zM74 27h2v1h-2zM83 27h1v1h-1zM92 27h1v1h-1zM95 27h1v1h-1zM97 27h2v1h-2zM108 27h1v1h-1zM111 27h1v1h-1zM114 27h2v1h-2zM3 28h1v1h-1zM5 28h2v1h-2zM9 28h3v1h-3zM21 28h1v1h-1zM26 28h1v1h-1zM30 28h3v1h-3zM48 28h1v1h-1zM53 28h3v1h-3zM60 28h2v1h-2zM68 28h1v1h-1zM73 28h1v1h-1zM86 28h1v1h-1zM91 28h3v1h-3zM95 28h1v1h-1zM97 28h1v1h-1zM100 28h1v1h-1zM104 28h1v1h-1zM111 28h1v1h-1zM8 29h1v1h-1zM17 29h1v1h-1zM31 29h1v1h-1zM36 29h1v1h-1zM38 29h1v1h-1zM40 29h2v1h-2zM50 29h2v1h-2zM54 29h1v1h-1zM56 29h1v1h-1zM79 29h1v1h-1zM82 29h1v1h-1zM85 29h1v1h-1zM90 29h2v1h-2zM94 29h1v1h-1zM101 29h1v1h-1zM108 29h1v1h-1zM116 29h1v1h-1zM3 30h1v1h-1zM16 30h1v1h-1zM24 30h1v1h-1zM35 30h1v1h-1zM37 30h1v1h-1zM39 30h1v1h-1zM42 30h1v1h-1zM44 30h1v1h-1zM51 30h1v1h-1zM55 30h1v1h-1zM59 30h1v1h-1zM64 30h2v1h-2zM77 30h2v1h-2zM90 30h1v1h-1zM92 30h1v1h-1zM109 30h3v1h-3zM15 31h1v1h-1zM18 31h1v1h-1zM20 31h1v1h-1zM26 31h1v1h-1zM31 31h1v1h-1zM47 31h1v1h-1zM49 31h2v1h-2zM53 31h2v1h-2zM56 31h1v1h-1zM59 31h1v1h-1zM64 31h2v1h-2zM70 31h3v1h-3zM76 31h3v1h-3zM84 31h2v1h-2zM91 31h2v1h-2zM94 31h2v1h-2zM99 31h2v1h-2zM103 31h3v1h-3zM110 31h2v1h-2zM0 32h1v1h-1zM6 32h1v1h-1zM8 32h5v1h-5zM19 32h1v1h-1zM25 32h1v1h-1zM32 32h1v1h-1zM50 32h2v1h-2zM55 32h1v1h-1zM57 32h1v1h-1zM63 32h1v1h-1zM76 32h1v1h-1zM80 32h1v1h-1zM90 32h1v1h-1zM94 32h2v1h-2zM98 32h2v1h-2zM102 32h1v1h-1zM112 32h1v1h-1zM2 33h2v1h-2zM7 33h1v1h-1zM24 33h1v1h-1zM46 33h1v1h-1zM50 33h1v1h-1zM61 33h1v1h-1zM63 33h1v1h-1zM70 33h1v1h-1zM83 33h2v1h-2zM90 33h2v1h-2zM93 33h1v1h-1zM99 33h1v1h-1zM103 33h1v1h-1zM105 33h2v1h-2zM112 33h1v1h-1zM115 33h1v1h-1zM6 34h1v1h-1zM12 34h1v1h-1zM38 34h1v1h-1zM47 34h4v1h-4zM52 34h2v1h-2zM61 34h2v1h-2zM66 34h1v1h-1zM69 34h2v1h-2zM86 34h1v1h-1zM89 34h1v1h-1zM100 34h2v1h-2zM104 34h1v1h-1zM106 34h1v1h-1zM112 34h1v1h-1zM2 35h1v1h-1zM18 35h1v1h-1zM24 35h1v1h-1zM37 35h3v1h-3zM43 35h1v1h-1zM45 35h1v1h-1zM82 35h1v1h-1zM85 35h1v1h-1zM93 35h1v1h-1zM96 35h1v1h-1zM114 35h1v1h-1zM1 36h1v1h-1zM8 36h1v1h-1zM12 36h1v1h-1zM17 36h1v1h-1zM38 36h1v1h-1zM41 36h1v1h-1zM54 36h1v1h-1zM62 36h1v1h-1zM64 36h1v1h-1zM80 36h1v1h-1zM82 36h1v1h-1zM85 36h1v1h-1zM91 36h2v1h-2zM105 36h1v1h-1zM115 36h1v1h-1zM2 37h1v1h-1zM11 37h1v1h-1zM33 37h1v1h-1zM48 37h1v1h-1zM54 37h1v1h-1zM61 37h2v1h-2zM81 37h2v1h-2zM85 37h1v1h-1zM88 37h1v1h-1zM106 37h1v1h-1zM110 37h1v1h-1zM113 37h2v1h-2zM5 38h1v1h-1zM11 38h1v1h-1zM20 38h1v1h-1zM47 38h1v1h-1zM52 38h2v1h-2zM57 38h1v1h-1zM60 38h1v1h-1zM79 38h1v1h-1zM82 38h1v1h-1zM92 38h2v1h-2zM104 38h1v1h-1zM108 38h1v1h-1zM112 38h1v1h-1zM4 39h1v1h-1zM12 39h1v1h-1zM18 39h1v1h-1zM34 39h1v1h-1zM45 39h1v1h-1zM64 39h1v1h-1zM68 39h1v1h-1zM83 39h1v1h-1zM85 39h1v1h-1zM89 39h3v1h-3zM93 39h3v1h-3zM103 39h2v1h-2zM5 40h2v1h-2zM23 40h1v1h-1zM31 40h3v1h-3zM47 40h1v1h-1zM67 40h1v1h-1zM88 40h1v1h-1zM90 40h3v1h-3zM99 40h1v1h-1zM106 40h1v1h-1zM108 40h2v1h-2zM6 41h2v1h-2zM24 41h2v1h-2zM33 41h1v1h-1zM43 41h1v1h-1zM47 41h1v1h-1zM54 41h2v1h-2zM62 41h1v1h-1zM72 41h1v1h-1zM90 41h2v1h-2zM93 41h5v1h-5zM99 41h1v1h-1zM102 41h1v1h-1zM0 42h1v1h-1zM4 42h2v1h-2zM7 42h1v1h-1zM10 42h1v1h-1zM32 42h1v1h-1zM48 42h1v1h-1zM50 42h1v1h-1zM52 42h3v1h-3zM61 42h2v1h-2zM67 42h1v1h-1zM69 42h1v1h-1zM75 42h1v1h-1zM80 42h1v1h-1zM85 42h2v1h-2zM90 42h2v1h-2zM93 42h1v1h-1zM97 42h1v1h-1zM100 42h2v1h-2zM110 42h2v1h-2zM0 43h2v1h-2zM3 43h1v1h-1zM44 43h1v1h-1zM48 43h1v1h-1zM51 43h1v1h-1zM62 43h2v1h-2zM68 43h1v1h-1zM75 43h1v1h-1zM77 43h1v1h-1zM80 43h1v1h-1zM84 43h1v1h-1zM96 43h3v1h-3zM104 43h3v1h-3zM111 43h3v1h-3zM116 43h1v1h-1zM1 44h1v1h-1zM16 44h1v1h-1zM19 44h1v1h-1zM29 44h1v1h-1zM40 44h2v1h-2zM46 44h1v1h-1zM51 44h4v1h-4zM62 44h4v1h-4zM68 44h1v1h-1zM78 44h1v1h-1zM92 44h1v1h-1zM102 44h1v1h-1zM105 44h1v1h-1zM107 44h1v1h-1zM115 44h1v1h-1zM6 45h2v1h-2zM12 45h2v1h-2zM16 45h1v1h-1zM25 45h2v1h-2zM40 45h3v1h-3zM45 45h1v1h-1zM52 45h2v1h-2zM55 45h1v1h-1zM57 45h1v1h-1zM62 45h2v1h-2zM72 45h1v1h-1zM79 45h1v1h-1zM85 45h1v1h-1zM90 45h2v1h-2zM100 45h1v1h-1zM103 45h1v1h-1zM115 45h1v1h-1zM15 46h2v1h-2zM23 46h1v1h-1zM28 46h1v1h-1zM33 46h2v1h-2zM42 46h1v1h-1zM46 46h1v1h-1zM52 46h1v1h-1zM61 46h1v1h-1zM67 46h2v1h-2zM74 46h1v1h-1zM79 46h1v1h-1zM91 46h1v1h-1zM93 46h2v1h-2zM96 46h1v1h-1zM115 46h1v1h-1zM12 47h1v1h-1zM16 47h1v1h-1zM20 47h1v1h-1zM22 47h1v1h-1zM24 47h1v1h-1zM27 47h1v1h-1zM33 47h1v1h-1zM35 47h1v1h-1zM38 47h1v1h-1zM44 47h1v1h-1zM47 47h1v1h-1zM49 47h1v1h-1zM55 47h1v1h-1zM59 47h1v1h-1zM68 47h1v1h-1zM74 47h1v1h-1zM78 47h2v1h-2zM81 47h1v1h-1zM85 47h1v1h-1zM108 47h1v1h-1zM12 48h1v1h-1zM22 48h1v1h-1zM35 48h1v1h-1zM47 48h1v1h-1zM49 48h1v1h-1zM53 48h2v1h-2zM63 48h1v1h-1zM73 48h1v1h-1zM78 48h1v1h-1zM80 48h1v1h-1zM91 48h2v1h-2zM95 48h1v1h-1zM104 48h3v1h-3zM108 48h1v1h-1zM12 49h2v1h-2zM18 49h1v1h-1zM24 49h1v1h-1zM33 49h1v1h-1zM35 49h1v1h-1zM39 49h1v1h-1zM47 49h2v1h-2zM57 49h2v1h-2zM62 49h1v1h-1zM70 49h2v1h-2zM75 49h1v1h-1zM84 49h1v1h-1zM86 49h1v1h-1zM93 49h2v1h-2zM102 49h1v1h-1zM106 49h1v1h-1zM112 49h1v1h-1zM3 50h2v1h-2zM8 50h1v1h-1zM14 50h1v1h-1zM23 50h1v1h-1zM27 50h2v1h-2zM33 50h2v1h-2zM37 50h1v1h-1zM47 50h1v1h-1zM58 50h2v1h-2zM75 50h1v1h-1zM79 50h1v1h-1zM83 50h4v1h-4zM94 50h2v1h-2zM102 50h1v1h-1zM3 51h2v1h-2zM7 51h1v1h-1zM13 51h1v1h-1zM26 51h1v1h-1zM35 51h2v1h-2zM50 51h1v1h-1zM61 51h3v1h-3zM67 51h1v1h-1zM73 51h3v1h-3zM79 51h1v1h-1zM82 51h1v1h-1zM86 51h1v1h-1zM93 51h1v1h-1zM104 51h1v1h-1zM109 51h1v1h-1zM10 52h1v1h-1zM13 52h1v1h-1zM35 52h2v1h-2zM61 52h1v1h-1zM65 52h2v1h-2zM68 52h1v1h-1zM71 52h1v1h-1zM74 52h2v1h-2zM79 52h1v1h-1zM85 52h1v1h-1zM104 52h1v1h-1zM109 52h1v1h-1zM113 52h1v1h-1zM7 53h2v1h-2zM11 53h1v1h-1zM13 53h1v1h-1zM26 53h1v1h-1zM35 53h1v1h-1zM50 53h1v1h-1zM54 53h1v1h-1zM59 53h2v1h-2zM65 53h2v1h-2zM73 53h1v1h-1zM75 53h1v1h-1zM83 53h1v1h-1zM98 53h1v1h-1zM102 53h1v1h-1zM105 53h1v1h-1zM110 53h1v1h-1zM6 54h2v1h-2zM14 54h1v1h-1zM25 54h3v1h-3zM31 54h1v1h-1zM34 54h1v1h-1zM36 54h1v1h-1zM49 54h2v1h-2zM52 54h1v1h-1zM55 54h2v1h-2zM64 54h2v1h-2zM67 54h1v1h-1zM72 54h1v1h-1zM88 54h1v1h-1zM105 54h2v1h-2zM110 54h1v1h-1zM6 55h1v1h-1zM10 55h2v1h-2zM13 55h2v1h-2zM25 55h1v1h-1zM31 55h1v1h-1zM33 55h1v1h-1zM49 55h3v1h-3zM64 55h1v1h-1zM72 55h3v1h-3zM82 55h1v1h-1zM88 55h2v1h-2zM105 55h1v1h-1zM110 55h1v1h-1zM112 55h1v1h-1zM8 56h1v1h-1zM11 56h1v1h-1zM22 56h1v1h-1zM26 56h1v1h-1zM30 56h1v1h-1zM33 56h1v1h-1zM37 56h1v1h-1zM44 56h1v1h-1zM52 56h7v1h-7zM63 56h2v1h-2zM72 56h2v1h-2zM82 56h1v1h-1zM86 56h2v1h-2zM89 56h1v1h-1zM95 56h2v1h-2zM105 56h1v1h-1zM107 56h1v1h-1zM112 56h4v1h-4zM4 57h1v1h-1zM9 57h1v1h-1zM17 57h5v1h-5zM23 57h1v1h-1zM25 57h2v1h-2zM34 57h3v1h-3zM44 57h1v1h-1zM53 57h1v1h-1zM56 57h1v1h-1zM63 57h2v1h-2zM67 57h2v1h-2zM73 57h1v1h-1zM86 57h1v1h-1zM93 57h1v1h-1zM95 57h1v1h-1zM108 57h1v1h-1zM112 57h1v1h-1zM114 57h1v1h-1zM116 57h1v1h-1zM15 58h2v1h-2zM20 58h2v1h-2zM30 58h2v1h-2zM34 58h1v1h-1zM43 58h2v1h-2zM52 58h1v1h-1zM66 58h1v1h-1zM74 58h1v1h-1zM82 58h1v1h-1zM90 58h1v1h-1zM96 58h2v1h-2zM99 58h1v1h-1zM102 58h1v1h-1zM104 58h1v1h-1zM112 58h2v1h-2zM115 58h2v1h-2zM0 59h2v1h-2zM19 59h1v1h-1zM27 59h1v1h-1zM31 59h2v1h-2zM55 59h2v1h-2zM65 59h1v1h-1zM70 59h1v1h-1zM90 59h1v1h-1zM99 59h2v1h-2zM103 59h1v1h-1zM111 59h1v1h-1zM113 59h1v1h-1zM116 59h1v1h-1zM0 60h1v1h-1zM3 60h1v1h-1zM5 60h2v1h-2zM15 60h1v1h-1zM27 60h1v1h-1zM29 60h1v1h-1zM33 60h3v1h-3zM44 60h1v1h-1zM52 60h2v1h-2zM57 60h1v1h-1zM84 60h1v1h-1zM88 60h2v1h-2zM100 60h1v1h-1zM107 60h4v1h-4zM115 60h2v1h-2zM5 61h1v1h-1zM16 61h1v1h-1zM18 61h2v1h-2zM26 61h3v1h-3zM35 61h3v1h-3zM55 61h2v1h-2zM62 61h2v1h-2zM67 61h1v1h-1zM71 61h2v1h-2zM86 61h1v1h-1zM100 61h3v1h-3zM104 61h2v1h-2zM109 61h1v1h-1zM114 61h3v1h-3zM1 62h1v1h-1zM4 62h3v1h-3zM17 62h1v1h-1zM25 62h1v1h-1zM27 62h1v1h-1zM39 62h1v1h-1zM59 62h3v1h-3zM66 62h2v1h-2zM73 62h4v1h-4zM78 62h1v1h-1zM90 62h2v1h-2zM94 62h2v1h-2zM99 62h2v1h-2zM105 62h1v1h-1zM114 62h3v1h-3zM11 63h2v1h-2zM22 63h1v1h-1zM31 63h1v1h-1zM33 63h1v1h-1zM43 63h1v1h-1zM61 63h2v1h-2zM72 63h1v1h-1zM85 63h2v1h-2zM88 63h1v1h-1zM92 63h2v1h-2zM95 63h1v1h-1zM101 63h1v1h-1zM105 63h1v1h-1zM111 63h1v1h-1zM113 63h1v1h-1zM2 64h1v1h-1zM20 64h1v1h-1zM22 64h1v1h-1zM25 64h1v1h-1zM53 64h1v1h-1zM61 64h3v1h-3zM71 64h1v1h-1zM74 64h3v1h-3zM88 64h1v1h-1zM101 64h1v1h-1zM107 64h1v1h-1zM112 64h1v1h-1zM116 64h1v1h-1zM2 65h2v1h-2zM20 65h1v1h-1zM27 65h1v1h-1zM33 65h1v1h-1zM40 65h4v1h-4zM53 65h1v1h-1zM60 65h3v1h-3zM64 65h1v1h-1zM72 65h1v1h-1zM76 65h1v1h-1zM88 65h4v1h-4zM100 65h2v1h-2zM106 65h1v1h-1zM108 65h1v1h-1zM111 65h1v1h-1zM116 65h1v1h-1zM11 66h1v1h-1zM20 66h1v1h-1zM27 66h1v1h-1zM29 66h1v1h-1zM36 66h1v1h-1zM43 66h1v1h-1zM52 66h1v1h-1zM56 66h1v1h-1zM59 66h2v1h-2zM80 66h1v1h-1zM84 66h1v1h-1zM86 66h1v1h-1zM88 66h1v1h-1zM99 66h1v1h-1zM102 66h2v1h-2zM112 66h1v1h-1zM1 67h2v1h-2zM5 67h1v1h-1zM11 67h1v1h-1zM21 67h1v1h-1zM23 67h2v1h-2zM34 67h1v1h-1zM36 67h1v1h-1zM44 67h1v1h-1zM48 67h1v1h-1zM53 67h2v1h-2zM58 67h1v1h-1zM61 67h1v1h-1zM65 67h3v1h-3zM80 67h1v1h-1zM84 67h1v1h-1zM87 67h1v1h-1zM92 67h1v1h-1zM96 67h1v1h-1zM102 67h1v1h-1zM116 67h1v1h-1zM2 68h1v1h-1zM5 68h1v1h-1zM9 68h2v1h-2zM25 68h1v1h-1zM28 68h1v1h-1zM32 68h1v1h-1zM36 68h3v1h-3zM45 68h1v1h-1zM48 68h1v1h-1zM59 68h1v1h-1zM76 68h1v1h-1zM78 68h2v1h-2zM92 68h1v1h-1zM95 68h2v1h-2zM98 68h1v1h-1zM100 68h1v1h-1zM103 68h1v1h-1zM106 68h1v1h-1zM116 68h1v1h-1zM8 69h2v1h-2zM12 69h5v1h-5zM27 69h1v1h-1zM41 69h2v1h-2zM47 69h1v1h-1zM52 69h3v1h-3zM62 69h1v1h-1zM67 69h1v1h-1zM73 69h1v1h-1zM76 69h3v1h-3zM80 69h1v1h-1zM92 69h1v1h-1zM95 69h1v1h-1zM98 69h1v1h-1zM106 69h1v1h-1zM115 69h1v1h-1zM3 70h1v1h-1zM8 70h1v1h-1zM12 70h1v1h-1zM16 70h1v1h-1zM22 70h2v1h-2zM27 70h1v1h-1zM31 70h3v1h-3zM42 70h1v1h-1zM46 70h2v1h-2zM62 70h1v1h-1zM67 70h1v1h-1zM73 70h1v1h-1zM89 70h1v1h-1zM91 70h2v1h-2zM99 70h1v1h-1zM106 70h2v1h-2zM3 71h1v1h-1zM8 71h1v1h-1zM10 71h3v1h-3zM21 71h1v1h-1zM23 71h4v1h-4zM31 71h1v1h-1zM41 71h1v1h-1zM45 71h2v1h-2zM51 71h1v1h-1zM62 71h1v1h-1zM65 71h1v1h-1zM76 71h1v1h-1zM88 71h4v1h-4zM98 71h2v1h-2zM102 71h1v1h-1zM111 71h1v1h-1zM113 71h1v1h-1zM116 71h1v1h-1zM2 72h1v1h-1zM12 72h1v1h-1zM21 72h3v1h-3zM27 72h1v1h-1zM30 72h1v1h-1zM36 72h2v1h-2zM41 72h1v1h-1zM45 72h2v1h-2zM48 72h1v1h-1zM57 72h2v1h-2zM61 72h1v1h-1zM67 72h1v1h-1zM70 72h2v1h-2zM85 72h1v1h-1zM88 72h1v1h-1zM99 72h1v1h-1zM102 72h1v1h-1zM113 72h1v1h-1zM116 72h1v1h-1zM0 73h3v1h-3zM11 73h1v1h-1zM14 73h1v1h-1zM21 73h1v1h-1zM29 73h1v1h-1zM32 73h1v1h-1zM41 73h1v1h-1zM43 73h4v1h-4zM51 73h1v1h-1zM54 73h1v1h-1zM57 73h1v1h-1zM70 73h1v1h-1zM97 73h1v1h-1zM103 73h1v1h-1zM116 73h1v1h-1zM3 74h3v1h-3zM8 74h1v1h-1zM12 74h2v1h-2zM25 74h2v1h-2zM28 74h1v1h-1zM30 74h3v1h-3zM35 74h1v1h-1zM41 74h1v1h-1zM43 74h1v1h-1zM46 74h1v1h-1zM53 74h1v1h-1zM57 74h1v1h-1zM65 74h1v1h-1zM71 74h2v1h-2zM81 74h1v1h-1zM85 74h1v1h-1zM95 74h1v1h-1zM100 74h1v1h-1zM113 74h1v1h-1zM0 75h1v1h-1zM2 75h2v1h-2zM7 75h3v1h-3zM22 75h1v1h-1zM29 75h1v1h-1zM32 75h1v1h-1zM41 75h1v1h-1zM43 75h1v1h-1zM45 75h1v1h-1zM48 75h1v1h-1zM54 75h2v1h-2zM82 75h2v1h-2zM85 75h1v1h-1zM94 75h2v1h-2zM111 75h1v1h-1zM113 75h1v1h-1zM1 76h1v1h-1zM7 76h3v1h-3zM15 76h1v1h-1zM18 76h1v1h-1zM23 76h1v1h-1zM25 76h1v1h-1zM35 76h1v1h-1zM45 76h1v1h-1zM54 76h1v1h-1zM57 76h1v1h-1zM63 76h1v1h-1zM71 76h1v1h-1zM73 76h1v1h-1zM76 76h1v1h-1zM83 76h1v1h-1zM85 76h1v1h-1zM93 76h2v1h-2zM102 76h2v1h-2zM110 76h1v1h-1zM3 77h1v1h-1zM7 77h1v1h-1zM9 77h1v1h-1zM21 77h1v1h-1zM23 77h2v1h-2zM32 77h1v1h-1zM47 77h2v1h-2zM53 77h2v1h-2zM63 77h2v1h-2zM70 77h1v1h-1zM72 77h1v1h-1zM76 77h1v1h-1zM84 77h1v1h-1zM110 77h1v1h-1zM4 78h1v1h-1zM21 78h1v1h-1zM36 78h2v1h-2zM43 78h1v1h-1zM49 78h1v1h-1zM52 78h2v1h-2zM59 78h2v1h-2zM70 78h1v1h-1zM79 78h1v1h-1zM84 78h1v1h-1zM109 78h1v1h-1zM115 78h2v1h-2zM5 79h2v1h-2zM21 79h1v1h-1zM36 79h3v1h-3zM40 79h1v1h-1zM47 79h5v1h-5zM53 79h1v1h-1zM61 79h1v1h-1zM77 79h1v1h-1zM79 79h1v1h-1zM85 79h2v1h-2zM88 79h1v1h-1zM112 79h2v1h-2zM3 80h1v1h-1zM6 80h1v1h-1zM11 80h1v1h-1zM13 80h1v1h-1zM15 80h2v1h-2zM22 80h1v1h-1zM35 80h2v1h-2zM38 80h1v1h-1zM49 80h1v1h-1zM51 80h1v1h-1zM63 80h3v1h-3zM99 80h1v1h-1zM105 80h2v1h-2zM110 80h1v1h-1zM112 80h3v1h-3zM3 81h1v1h-1zM6 81h1v1h-1zM11 81h1v1h-1zM13 81h1v1h-1zM25 81h2v1h-2zM34 81h1v1h-1zM36 81h1v1h-1zM51 81h1v1h-1zM62 81h1v1h-1zM67 81h1v1h-1zM75 81h1v1h-1zM79 81h1v1h-1zM87 81h1v1h-1zM91 81h2v1h-2zM110 81h1v1h-1zM1 82h1v1h-1zM8 82h4v1h-4zM18 82h1v1h-1zM21 82h1v1h-1zM33 82h1v1h-1zM42 82h2v1h-2zM64 82h1v1h-1zM67 82h1v1h-1zM90 82h1v1h-1zM93 82h1v1h-1zM100 82h1v1h-1zM102 82h1v1h-1zM106 82h1v1h-1zM0 83h3v1h-3zM7 83h2v1h-2zM12 83h2v1h-2zM17 83h1v1h-1zM21 83h1v1h-1zM24 83h1v1h-1zM27 83h2v1h-2zM38 83h1v1h-1zM41 83h1v1h-1zM44 83h1v1h-1zM55 83h1v1h-1zM57 83h1v1h-1zM59 83h1v1h-1zM61 83h1v1h-1zM89 83h2v1h-2zM98 83h2v1h-2zM105 83h1v1h-1zM1 84h1v1h-1zM6 84h2v1h-2zM12 84h1v1h-1zM14 84h1v1h-1zM19 84h1v1h-1zM23 84h1v1h-1zM29 84h1v1h-1zM32 84h1v1h-1zM50 84h1v1h-1zM54 84h2v1h-2zM58 84h1v1h-1zM61 84h1v1h-1zM66 84h1v1h-1zM95 84h1v1h-1zM97 84h2v1h-2zM114 84h1v1h-1zM1 85h1v1h-1zM6 85h2v1h-2zM9 85h1v1h-1zM11 85h2v1h-2zM18 85h2v1h-2zM38 85h1v1h-1zM41 85h1v1h-1zM63 85h1v1h-1zM65 85h3v1h-3zM97 85h1v1h-1zM110 85h1v1h-1zM5 86h3v1h-3zM10 86h3v1h-3zM15 86h1v1h-1zM18 86h1v1h-1zM36 86h2v1h-2zM64 86h2v1h-2zM67 86h1v1h-1zM81 86h1v1h-1zM84 86h1v1h-1zM88 86h1v1h-1zM92 86h1v1h-1zM96 86h1v1h-1zM98 86h1v1h-1zM108 86h2v1h-2zM114 86h1v1h-1zM2 87h4v1h-4zM7 87h2v1h-2zM10 87h3v1h-3zM21 87h2v1h-2zM36 87h1v1h-1zM41 87h1v1h-1zM48 87h2v1h-2zM57 87h2v1h-2zM63 87h1v1h-1zM92 87h1v1h-1zM98 87h2v1h-2zM108 87h1v1h-1zM110 87h1v1h-1zM114 87h1v1h-1zM4 88h1v1h-1zM9 88h1v1h-1zM15 88h2v1h-2zM22 88h1v1h-1zM28 88h1v1h-1zM53 88h1v1h-1zM59 88h1v1h-1zM70 88h2v1h-2zM81 88h1v1h-1zM85 88h1v1h-1zM103 88h1v1h-1zM111 88h1v1h-1zM114 88h2v1h-2zM10 89h1v1h-1zM12 89h1v1h-1zM17 89h1v1h-1zM25 89h1v1h-1zM49 89h1v1h-1zM53 89h1v1h-1zM59 89h2v1h-2zM65 89h2v1h-2zM71 89h1v1h-1zM74 89h2v1h-2zM80 89h2v1h-2zM87 89h1v1h-1zM99 89h1v1h-1zM103 89h1v1h-1zM112 89h2v1h-2z"/>
<path fill="rgb(66,66,66)" d="M5 0h1v1h-1zM7 0h1v1h-1zM17 0h1v1h-1zM19 0h1v1h-1zM37 0h1v1h-1zM42 0h1v1h-1zM48 0h3v1h-3zM54 0h1v1h-1zM62 0h3v1h-3zM83 0h1v1h-1zM88 0h1v1h-1zM93 0h1v1h-1zM98 0h1v1h-1zM102 0h1v1h-1zM107 0h2v1h-2zM112 0h1v1h-1zM16 1h2v1h-2zM19 1h1v1h-1zM21 1h3v1h-3zM30 1h1v1h-1zM32 1h1v1h-1zM38 1h1v1h-1zM50 1h1v1h-1zM54 1h1v1h-1zM67 1h1v1h-1zM85 1h1v1h-1zM92 1h1v1h-1zM98 1h3v1h-3zM105 1h2v1h-2zM112 1h3v1h-3zM3 2h2v1h-2zM6 2h2v1h-2zM17 2h2v1h-2zM21 2h1v1h-1zM24 2h1v1h-1zM33 2h3v1h-3zM40 2h1v1h-1zM65 2h3v1h-3zM71 2h1v1h-1zM75 2h1v1h-1zM79 2h2v1h-2zM83 2h1v1h-1zM86 2h3v1h-3zM98 2h1v1h-1zM101 2h1v1h-1zM103 2h1v1h-1zM106 2h1v1h-1zM108 2h1v1h-1zM114 2h1v1h-1zM3 3h1v1h-1zM12 3h2v1h-2zM19 3h1v1h-1zM21 3h1v1h-1zM24 3h1v1h-1zM29 3h1v1h-1zM45 3h1v1h-1zM50 3h1v1h-1zM69 3h1v1h-1zM73 3h3v1h-3zM79 3h1v1h-1zM82 3h2v1h-2zM85 3h2v1h-2zM89 3h1v1h-1zM91 3h1v1h-1zM95 3h1v1h-1zM99 3h2v1h-2zM102 3h1v1h-1zM110 3h1v1h-1zM116 3h1v1h-1zM0 4h1v1h-1zM2 4h2v1h-2zM7 4h2v1h-2zM12 4h1v1h-1zM20 4h1v1h-1zM23 4h1v1h-1zM43 4h4v1h-4zM49 4h1v1h-1zM56 4h1v1h-1zM60 4h1v1h-1zM65 4h2v1h-2zM69 4h2v1h-2zM74 4h1v1h-1zM78 4h1v1h-1zM101 4h3v1h-3zM106 4h1v1h-1zM114 4h1v1h-1zM116 4h1v1h-1zM2 5h1v1h-1zM7 5h1v1h-1zM11 5h1v1h-1zM21 5h1v1h-1zM30 5h1v1h-1zM35 5h1v1h-1zM37 5h1v1h-1zM41 5h3v1h-3zM46 5h1v1h-1zM48 5h1v1h-1zM54 5h1v1h-1zM56 5h1v1h-1zM65 5h2v1h-2zM76 5h2v1h-2zM103 5h1v1h-1zM107 5h1v1h-1zM111 5h1v1h-1zM115 5h2v1h-2zM0 6h1v1h-1zM3 6h3v1h-3zM7 6h2v1h-2zM27 6h1v1h-1zM29 6h1v1h-1zM33 6h1v1h-1zM57 6h1v1h-1zM63 6h1v1h-1zM67 6h1v1h-1zM77 6h2v1h-2zM85 6h3v1h-3zM100 6h1v1h-1zM102 6h1v1h-1zM113 6h1v1h-1zM116 6h1v1h-1zM2 7h1v1h-1zM14 7h1v1h-1zM29 7h1v1h-1zM33 7h1v1h-1zM46 7h1v1h-1zM53 7h1v1h-1zM57 7h3v1h-3zM61 7h1v1h-1zM76 7h1v1h-1zM85 7h2v1h-2zM91 7h1v1h-1zM96 7h1v1h-1zM103 7h1v1h-1zM107 7h1v1h-1zM113 7h2v1h-2zM6 8h1v1h-1zM21 8h1v1h-1zM36 8h1v1h-1zM38 8h1v1h-1zM42 8h1v1h-1zM59 8h1v1h-1zM61 8h1v1h-1zM70 8h1v1h-1zM72 8h1v1h-1zM83 8h1v1h-1zM85 8h1v1h-1zM87 8h1v1h-1zM91 8h1v1h-1zM93 8h3v1h-3zM99 8h1v1h-1zM105 8h1v1h-1zM114 8h2v1h-2zM6 9h1v1h-1zM10 9h1v1h-1zM17 9h1v1h-1zM19 9h1v1h-1zM25 9h1v1h-1zM61 9h1v1h-1zM66 9h1v1h-1zM69 9h1v1h-1zM76 9h1v1h-1zM78 9h1v1h-1zM80 9h1v1h-1zM87 9h1v1h-1zM91 9h1v1h-1zM93 9h2v1h-2zM110 9h2v1h-2zM114 9h1v1h-1zM5 10h2v1h-2zM14 10h1v1h-1zM18 10h1v1h-1zM21 10h1v1h-1zM24 10h1v1h-1zM27 10h1v1h-1zM29 10h1v1h-1zM44 10h1v1h-1zM64 10h1v1h-1zM70 10h8v1h-8zM79 10h1v1h-1zM84 10h1v1h-1zM86 10h1v1h-1zM88 10h3v1h-3zM92 10h1v1h-1zM101 10h1v1h-1zM103 10h1v1h-1zM116 10h1v1h-1zM3 11h1v1h-1zM6 11h1v1h-1zM9 11h1v1h-1zM30 11h1v1h-1zM32 11h2v1h-2zM50 11h1v1h-1zM67 11h2v1h-2zM71 11h1v1h-1zM75 11h1v1h-1zM78 11h2v1h-2zM82 11h2v1h-2zM85 11h1v1h-1zM88 11h2v1h-2zM92 11h1v1h-1zM101 11h1v1h-1zM103 11h1v1h-1zM106 11h1v1h-1zM111 11h1v1h-1zM1 12h1v1h-1zM18 12h1v1h-1zM21 12h3v1h-3zM27 12h2v1h-2zM37 12h1v1h-1zM42 12h1v1h-1zM47 12h1v1h-1zM49 12h1v1h-1zM60 12h2v1h-2zM66 12h1v1h-1zM68 12h1v1h-1zM71 12h1v1h-1zM79 12h1v1h-1zM82 12h2v1h-2zM85 12h1v1h-1zM87 12h2v1h-2zM91 12h1v1h-1zM93 12h1v1h-1zM99 12h1v1h-1zM101 12h2v1h-2zM110 12h2v1h-2zM3 13h1v1h-1zM13 13h1v1h-1zM22 13h1v1h-1zM25 13h1v1h-1zM50 13h1v1h-1zM54 13h1v1h-1zM59 13h4v1h-4zM74 13h1v1h-1zM79 13h1v1h-1zM82 13h1v1h-1zM85 13h1v1h-1zM88 13h1v1h-1zM90 13h1v1h-1zM109 13h1v1h-1zM1 14h2v1h-2zM7 14h1v1h-1zM22 14h1v1h-1zM25 14h1v1h-1zM39 14h2v1h-2zM47 14h4v1h-4zM56 14h1v1h-1zM58 14h2v1h-2zM66 14h1v1h-1zM82 14h1v1h-1zM84 14h1v1h-1zM88 14h1v1h-1zM90 14h1v1h-1zM95 14h1v1h-1zM97 14h1v1h-1zM107 14h1v1h-1zM109 14h3v1h-3zM0 15h1v1h-1zM11 15h1v1h-1zM17 15h1v1h-1zM25 15h1v1h-1zM56 15h1v1h-1zM60 15h1v1h-1zM64 15h2v1h-2zM83 15h2v1h-2zM88 15h2v1h-2zM96 15h3v1h-3zM109 15h1v1h-1zM112 15h1v1h-1zM114 15h1v1h-1zM116 15h1v1h-1zM1 16h1v1h-1zM6 16h1v1h-1zM16 16h2v1h-2zM25 16h1v1h-1zM30 16h1v1h-1zM33 16h2v1h-2zM52 16h1v1h-1zM65 16h1v1h-1zM81 16h2v1h-2zM85 16h1v1h-1zM88 16h2v1h-2zM98 16h1v1h-1zM113 16h1v1h-1zM1 17h1v1h-1zM6 17h1v1h-1zM10 17h1v1h-1zM18 17h2v1h-2zM22 17h1v1h-1zM26 17h1v1h-1zM30 17h2v1h-2zM33 17h1v1h-1zM36 17h2v1h-2zM39 17h1v1h-1zM50 17h1v1h-1zM53 17h1v1h-1zM59 17h2v1h-2zM63 17h1v1h-1zM66 17h1v1h-1zM68 17h1v1h-1zM75 17h3v1h-3zM79 17h1v1h-1zM88 17h1v1h-1zM93 17h1v1h-1zM95 17h1v1h-1zM102 17h1v1h-1zM107 17h1v1h-1zM11 18h1v1h-1zM15 18h1v1h-1zM20 18h1v1h-1zM27 18h1v1h-1zM30 18h1v1h-1zM34 18h1v1h-1zM39 18h1v1h-1zM43 18h1v1h-1zM53 18h1v1h-1zM56 18h1v1h-1zM58 18h2v1h-2zM62 18h2v1h-2zM76 18h2v1h-2zM80 18h1v1h-1zM86 18h1v1h-1zM90 18h3v1h-3zM94 18h1v1h-1zM101 18h1v1h-1zM107 18h1v1h-1zM111 18h1v1h-1zM2 19h5v1h-5zM10 19h2v1h-2zM15 19h1v1h-1zM18 19h2v1h-2zM24 19h1v1h-1zM33 19h2v1h-2zM38 19h1v1h-1zM44 19h3v1h-3zM52 19h1v1h-1zM56 19h3v1h-3zM64 19h1v1h-1zM68 19h1v1h-1zM77 19h1v1h-1zM80 19h1v1h-1zM89 19h1v1h-1zM103 19h2v1h-2zM109 19h1v1h-1zM112 19h3v1h-3zM11 20h1v1h-1zM17 20h2v1h-2zM31 20h2v1h-2zM34 20h2v1h-2zM43 20h1v1h-1zM45 20h1v1h-1zM47 20h1v1h-1zM51 20h1v1h-1zM53 20h1v1h-1zM58 20h1v1h-1zM64 20h3v1h-3zM71 20h3v1h-3zM80 20h1v1h-1zM86 20h1v1h-1zM88 20h2v1h-2zM92 20h1v1h-1zM95 20h1v1h-1zM100 20h2v1h-2zM105 20h1v1h-1zM7 21h2v1h-2zM21 21h1v1h-1zM27 21h1v1h-1zM30 21h1v1h-1zM32 21h1v1h-1zM37 21h1v1h-1zM45 21h1v1h-1zM53 21h1v1h-1zM57 21h1v1h-1zM61 21h2v1h-2zM65 21h1v1h-1zM71 21h1v1h-1zM82 21h1v1h-1zM89 21h3v1h-3zM98 21h1v1h-1zM101 21h1v1h-1zM105 21h1v1h-1zM116 21h1v1h-1zM1 22h1v1h-1zM4 22h1v1h-1zM11 22h1v1h-1zM19 22h1v1h-1zM33 22h1v1h-1zM37 22h2v1h-2zM42 22h1v1h-1zM45 22h1v1h-1zM52 22h1v1h-1zM60 22h1v1h-1zM68 22h1v1h-1zM71 22h1v1h-1zM83 22h2v1h-2zM100 22h1v1h-1zM102 22h1v1h-1zM105 22h3v1h-3zM1 23h1v1h-1zM16 23h1v1h-1zM22 23h1v1h-1zM29 23h1v1h-1zM40 23h1v1h-1zM43 23h1v1h-1zM45 23h1v1h-1zM53 23h4v1h-4zM65 23h1v1h-1zM69 23h1v1h-1zM77 23h2v1h-2zM81 23h1v1h-1zM84 23h1v1h-1zM89 23h1v1h-1zM104 23h2v1h-2zM112 23h1v1h-1zM0 24h2v1h-2zM33 24h1v1h-1zM36 24h1v1h-1zM38 24h1v1h-1zM41 24h1v1h-1zM43 24h1v1h-1zM46 24h1v1h-1zM56 24h1v1h-1zM69 24h1v1h-1zM75 24h1v1h-1zM81 24h1v1h-1zM83 24h2v1h-2zM93 24h1v1h-1zM104 24h1v1h-1zM3 25h3v1h-3zM13 25h1v1h-1zM17 25h1v1h-1zM22 25h1v1h-1zM25 25h1v1h-1zM33 25h2v1h-2zM39 25h1v1h-1zM56 25h1v1h-1zM58 25h1v1h-1zM68 25h1v1h-1zM78 25h1v1h-1zM88 25h1v1h-1zM92 25h1v1h-1zM95 25h1v1h-1zM97 25h1v1h-1zM100 25h1v1h-1zM108 25h2v1h-2zM111 25h3v1h-3zM2 26h1v1h-1zM5 26h2v1h-2zM8 26h1v1h-1zM17 26h1v1h-1zM22 26h4v1h-4zM29 26h1v1h-1zM45 26h1v1h-1zM54 26h1v1h-1zM57 26h1v1h-1zM60 26h1v1h-1zM64 26h1v1h-1zM68 26h1v1h-1zM70 26h5v1h-5zM77 26h2v1h-2zM82 26h1v1h-1zM87 26h1v1h-1zM95 26h1v1h-1zM97 26h2v1h-2zM100 26h1v1h-1zM103 26h1v1h-1zM106 26h2v1h-2zM111 26h1v1h-1zM0 27h1v1h-1zM5 27h3v1h-3zM16 27h2v1h-2zM28 27h1v1h-1zM33 27h1v1h-1zM44 27h1v1h-1zM50 27h1v1h-1zM57 27h2v1h-2zM68 27h1v1h-1zM73 27h1v1h-1zM76 27h1v1h-1zM87 27h1v1h-1zM93 27h1v1h-1zM99 27h1v1h-1zM103 27h1v1h-1zM106 27h2v1h-2zM12 28h5v1h-5zM19 28h2v1h-2zM33 28h1v1h-1zM36 28h1v1h-1zM56 28h2v1h-2zM62 28h1v1h-1zM76 28h1v1h-1zM79 28h1v1h-1zM82 28h1v1h-1zM90 28h1v1h-1zM94 28h1v1h-1zM107 28h1v1h-1zM112 28h1v1h-1zM114 28h1v1h-1zM116 28h1v1h-1zM0 29h1v1h-1zM14 29h1v1h-1zM32 29h2v1h-2zM44 29h1v1h-1zM49 29h1v1h-1zM53 29h1v1h-1zM60 29h1v1h-1zM63 29h2v1h-2zM75 29h2v1h-2zM78 29h1v1h-1zM80 29h1v1h-1zM86 29h1v1h-1zM93 29h1v1h-1zM107 29h1v1h-1zM111 29h1v1h-1zM8 30h1v1h-1zM17 30h2v1h-2zM31 30h4v1h-4zM38 30h1v1h-1zM49 30h1v1h-1zM54 30h1v1h-1zM69 30h1v1h-1zM74 30h3v1h-3zM79 30h3v1h-3zM94 30h1v1h-1zM98 30h1v1h-1zM100 30h1v1h-1zM108 30h1v1h-1zM112 30h1v1h-1zM114 30h1v1h-1zM116 30h1v1h-1zM2 31h1v1h-1zM8 31h1v1h-1zM21 31h2v1h-2zM32 31h3v1h-3zM45 31h2v1h-2zM48 31h1v1h-1zM51 31h2v1h-2zM55 31h1v1h-1zM69 31h1v1h-1zM73 31h3v1h-3zM80 31h1v1h-1zM90 31h1v1h-1zM113 31h1v1h-1zM7 32h1v1h-1zM13 32h1v1h-1zM18 32h1v1h-1zM24 32h1v1h-1zM26 32h1v1h-1zM31 32h1v1h-1zM34 32h1v1h-1zM36 32h1v1h-1zM46 32h1v1h-1zM49 32h1v1h-1zM59 32h2v1h-2zM62 32h1v1h-1zM64 32h3v1h-3zM69 32h2v1h-2zM73 32h3v1h-3zM78 32h1v1h-1zM83 32h2v1h-2zM88 32h2v1h-2zM91 32h3v1h-3zM97 32h1v1h-1zM100 32h1v1h-1zM103 32h2v1h-2zM107 32h1v1h-1zM109 32h1v1h-1zM113 32h1v1h-1zM1 33h1v1h-1zM4 33h3v1h-3zM8 33h1v1h-1zM11 33h2v1h-2zM20 33h1v1h-1zM23 33h1v1h-1zM32 33h1v1h-1zM35 33h2v1h-2zM42 33h1v1h-1zM48 33h2v1h-2zM57 33h1v1h-1zM60 33h1v1h-1zM64 33h3v1h-3zM69 33h1v1h-1zM74 33h1v1h-1zM85 33h1v1h-1zM89 33h1v1h-1zM94 33h1v1h-1zM98 33h1v1h-1zM100 33h2v1h-2zM104 33h1v1h-1zM110 33h1v1h-1zM1 34h1v1h-1zM15 34h1v1h-1zM19 34h2v1h-2zM23 34h2v1h-2zM35 34h3v1h-3zM39 34h1v1h-1zM42 34h1v1h-1zM45 34h2v1h-2zM51 34h1v1h-1zM67 34h2v1h-2zM85 34h1v1h-1zM87 34h2v1h-2zM98 34h1v1h-1zM105 34h1v1h-1zM111 34h1v1h-1zM113 34h1v1h-1zM0 35h2v1h-2zM35 35h2v1h-2zM40 35h1v1h-1zM42 35h1v1h-1zM48 35h1v1h-1zM54 35h1v1h-1zM66 35h1v1h-1zM70 35h1v1h-1zM78 35h3v1h-3zM83 35h2v1h-2zM105 35h3v1h-3zM115 35h1v1h-1zM0 36h1v1h-1zM2 36h1v1h-1zM5 36h1v1h-1zM11 36h1v1h-1zM16 36h1v1h-1zM25 36h3v1h-3zM34 36h1v1h-1zM37 36h1v1h-1zM48 36h2v1h-2zM55 36h1v1h-1zM60 36h2v1h-2zM65 36h1v1h-1zM79 36h1v1h-1zM90 36h1v1h-1zM93 36h1v1h-1zM95 36h1v1h-1zM106 36h1v1h-1zM108 36h1v1h-1zM116 36h1v1h-1zM5 37h3v1h-3zM16 37h1v1h-1zM27 37h1v1h-1zM34 37h1v1h-1zM41 37h1v1h-1zM49 37h5v1h-5zM60 37h1v1h-1zM65 37h1v1h-1zM79 37h2v1h-2zM91 37h2v1h-2zM97 37h1v1h-1zM99 37h1v1h-1zM109 37h1v1h-1zM115 37h2v1h-2zM3 38h2v1h-2zM13 38h1v1h-1zM17 38h1v1h-1zM33 38h1v1h-1zM38 38h1v1h-1zM40 38h1v1h-1zM67 38h1v1h-1zM69 38h1v1h-1zM89 38h3v1h-3zM94 38h1v1h-1zM103 38h1v1h-1zM109 38h1v1h-1zM3 39h1v1h-1zM19 39h1v1h-1zM23 39h2v1h-2zM26 39h1v1h-1zM32 39h1v1h-1zM35 39h1v1h-1zM38 39h2v1h-2zM42 39h1v1h-1zM48 39h1v1h-1zM53 39h1v1h-1zM57 39h1v1h-1zM60 39h1v1h-1zM69 39h1v1h-1zM77 39h1v1h-1zM84 39h1v1h-1zM108 39h2v1h-2zM0 40h3v1h-3zM7 40h4v1h-4zM26 40h1v1h-1zM34 40h1v1h-1zM38 40h1v1h-1zM43 40h2v1h-2zM61 40h1v1h-1zM66 40h1v1h-1zM69 40h1v1h-1zM76 40h1v1h-1zM89 40h1v1h-1zM96 40h1v1h-1zM98 40h1v1h-1zM100 40h1v1h-1zM116 40h1v1h-1zM0 41h1v1h-1zM5 41h1v1h-1zM9 41h1v1h-1zM34 41h1v1h-1zM38 41h1v1h-1zM48 41h1v1h-1zM51 41h2v1h-2zM65 41h1v1h-1zM69 41h3v1h-3zM73 41h4v1h-4zM106 41h1v1h-1zM114 41h3v1h-3zM1 42h1v1h-1zM3 42h1v1h-1zM9 42h1v1h-1zM11 42h1v1h-1zM25 42h1v1h-1zM31 42h1v1h-1zM33 42h1v1h-1zM43 42h1v1h-1zM51 42h1v1h-1zM66 42h1v1h-1zM71 42h2v1h-2zM76 42h1v1h-1zM81 42h1v1h-1zM92 42h1v1h-1zM103 42h1v1h-1zM106 42h3v1h-3zM114 42h1v1h-1zM4 43h1v1h-1zM8 43h1v1h-1zM15 43h1v1h-1zM19 43h2v1h-2zM26 43h1v1h-1zM28 43h3v1h-3zM36 43h1v1h-1zM40 43h1v1h-1zM61 43h1v1h-1zM66 43h1v1h-1zM86 43h1v1h-1zM90 43h2v1h-2zM93 43h1v1h-1zM99 43h1v1h-1zM101 43h1v1h-1zM107 43h1v1h-1zM114 43h2v1h-2zM2 44h3v1h-3zM12 44h1v1h-1zM18 44h1v1h-1zM20 44h1v1h-1zM25 44h2v1h-2zM55 44h1v1h-1zM66 44h2v1h-2zM72 44h1v1h-1zM80 44h1v1h-1zM83 44h1v1h-1zM88 44h3v1h-3zM98 44h2v1h-2zM114 44h1v1h-1zM18 45h2v1h-2zM24 45h1v1h-1zM27 45h1v1h-1zM44 45h1v1h-1zM46 45h1v1h-1zM56 45h1v1h-1zM64 45h1v1h-1zM67 45h1v1h-1zM69 45h1v1h-1zM71 45h1v1h-1zM78 45h1v1h-1zM89 45h1v1h-1zM98 45h2v1h-2zM101 45h2v1h-2zM104 45h2v1h-2zM116 45h1v1h-1zM5 46h1v1h-1zM12 46h1v1h-1zM17 46h2v1h-2zM22 46h1v1h-1zM32 46h1v1h-1zM36 46h1v1h-1zM39 46h1v1h-1zM56 46h3v1h-3zM64 46h1v1h-1zM66 46h1v1h-1zM72 46h1v1h-1zM78 46h1v1h-1zM81 46h1v1h-1zM84 46h2v1h-2zM90 46h1v1h-1zM92 46h1v1h-1zM95 46h1v1h-1zM97 46h4v1h-4zM106 46h1v1h-1zM108 46h1v1h-1zM114 46h1v1h-1zM1 47h1v1h-1zM21 47h1v1h-1zM25 47h1v1h-1zM28 47h1v1h-1zM32 47h1v1h-1zM41 47h1v1h-1zM45 47h2v1h-2zM48 47h1v1h-1zM51 47h1v1h-1zM53 47h1v1h-1zM56 47h1v1h-1zM60 47h2v1h-2zM64 47h1v1h-1zM66 47h1v1h-1zM73 47h1v1h-1zM75 47h1v1h-1zM84 47h1v1h-1zM91 47h1v1h-1zM95 47h1v1h-1zM100 47h1v1h-1zM103 47h1v1h-1zM106 47h1v1h-1zM111 47h1v1h-1zM115 47h1v1h-1zM1 48h1v1h-1zM21 48h1v1h-1zM28 48h1v1h-1zM32 48h2v1h-2zM38 48h1v1h-1zM40 48h1v1h-1zM44 48h1v1h-1zM50 48h2v1h-2zM56 48h1v1h-1zM59 48h1v1h-1zM68 48h1v1h-1zM72 48h1v1h-1zM81 48h1v1h-1zM84 48h3v1h-3zM112 48h1v1h-1zM115 48h1v1h-1zM0 49h1v1h-1zM2 49h1v1h-1zM4 49h1v1h-1zM14 49h1v1h-1zM16 49h2v1h-2zM19 49h1v1h-1zM22 49h1v1h-1zM28 49h1v1h-1zM32 49h1v1h-1zM38 49h1v1h-1zM49 49h2v1h-2zM53 49h1v1h-1zM59 49h1v1h-1zM79 49h1v1h-1zM83 49h1v1h-1zM91 49h1v1h-1zM97 49h2v1h-2zM108 49h1v1h-1zM111 49h1v1h-1zM116 49h1v1h-1zM2 50h1v1h-1zM11 50h3v1h-3zM22 50h1v1h-1zM36 50h1v1h-1zM40 50h1v1h-1zM57 50h1v1h-1zM60 50h1v1h-1zM78 50h1v1h-1zM91 50h1v1h-1zM108 50h1v1h-1zM116 50h1v1h-1zM2 51h1v1h-1zM8 51h1v1h-1zM10 51h2v1h-2zM15 51h1v1h-1zM21 51h1v1h-1zM40 51h1v1h-1zM57 51h1v1h-1zM80 51h1v1h-1zM91 51h1v1h-1zM94 51h1v1h-1zM102 51h1v1h-1zM108 51h1v1h-1zM113 51h3v1h-3zM2 52h7v1h-7zM11 52h1v1h-1zM15 52h1v1h-1zM19 52h1v1h-1zM24 52h2v1h-2zM29 52h1v1h-1zM37 52h3v1h-3zM50 52h1v1h-1zM54 52h1v1h-1zM63 52h1v1h-1zM86 52h1v1h-1zM92 52h1v1h-1zM102 52h1v1h-1zM108 52h1v1h-1zM5 53h1v1h-1zM9 53h2v1h-2zM12 53h1v1h-1zM24 53h1v1h-1zM31 53h1v1h-1zM36 53h1v1h-1zM55 53h1v1h-1zM71 53h2v1h-2zM84 53h1v1h-1zM87 53h2v1h-2zM99 53h1v1h-1zM106 53h2v1h-2zM109 53h1v1h-1zM114 53h1v1h-1zM1 54h1v1h-1zM5 54h1v1h-1zM8 54h1v1h-1zM10 54h1v1h-1zM12 54h1v1h-1zM42 54h1v1h-1zM48 54h1v1h-1zM60 54h1v1h-1zM76 54h1v1h-1zM83 54h1v1h-1zM102 54h2v1h-2zM107 54h1v1h-1zM111 54h1v1h-1zM7 55h3v1h-3zM12 55h1v1h-1zM15 55h1v1h-1zM26 55h1v1h-1zM29 55h1v1h-1zM32 55h1v1h-1zM43 55h2v1h-2zM48 55h1v1h-1zM57 55h1v1h-1zM59 55h1v1h-1zM63 55h1v1h-1zM67 55h1v1h-1zM75 55h1v1h-1zM83 55h1v1h-1zM87 55h1v1h-1zM107 55h1v1h-1zM109 55h1v1h-1zM114 55h1v1h-1zM16 56h1v1h-1zM18 56h1v1h-1zM20 56h2v1h-2zM27 56h1v1h-1zM31 56h2v1h-2zM38 56h1v1h-1zM51 56h1v1h-1zM59 56h1v1h-1zM67 56h1v1h-1zM69 56h1v1h-1zM79 56h1v1h-1zM81 56h1v1h-1zM85 56h1v1h-1zM93 56h2v1h-2zM108 56h1v1h-1zM111 56h1v1h-1zM116 56h1v1h-1zM5 57h1v1h-1zM8 57h1v1h-1zM10 57h2v1h-2zM15 57h1v1h-1zM22 57h1v1h-1zM24 57h1v1h-1zM27 57h1v1h-1zM32 57h1v1h-1zM52 57h1v1h-1zM57 57h3v1h-3zM65 57h2v1h-2zM69 57h1v1h-1zM72 57h1v1h-1zM74 57h1v1h-1zM82 57h1v1h-1zM90 57h1v1h-1zM94 57h1v1h-1zM0 58h2v1h-2zM5 58h1v1h-1zM8 58h1v1h-1zM11 58h2v1h-2zM18 58h1v1h-1zM22 58h1v1h-1zM35 58h1v1h-1zM61 58h1v1h-1zM67 58h1v1h-1zM71 58h1v1h-1zM77 58h3v1h-3zM91 58h1v1h-1zM95 58h1v1h-1zM98 58h1v1h-1zM103 58h1v1h-1zM109 58h1v1h-1zM111 58h1v1h-1zM5 59h1v1h-1zM8 59h1v1h-1zM12 59h1v1h-1zM20 59h3v1h-3zM30 59h1v1h-1zM36 59h1v1h-1zM43 59h2v1h-2zM52 59h1v1h-1zM60 59h1v1h-1zM66 59h1v1h-1zM74 59h1v1h-1zM78 59h1v1h-1zM81 59h1v1h-1zM91 59h1v1h-1zM98 59h1v1h-1zM101 59h2v1h-2zM109 59h1v1h-1zM112 59h1v1h-1zM4 60h1v1h-1zM9 60h3v1h-3zM20 60h1v1h-1zM22 60h1v1h-1zM32 60h1v1h-1zM36 60h2v1h-2zM39 60h1v1h-1zM51 60h1v1h-1zM64 60h1v1h-1zM66 60h2v1h-2zM69 60h1v1h-1zM82 60h1v1h-1zM90 60h2v1h-2zM103 60h1v1h-1zM111 60h1v1h-1zM4 61h1v1h-1zM10 61h2v1h-2zM17 61h1v1h-1zM23 61h1v1h-1zM29 61h1v1h-1zM32 61h1v1h-1zM38 61h1v1h-1zM44 61h1v1h-1zM51 61h1v1h-1zM54 61h1v1h-1zM64 61h1v1h-1zM66 61h1v1h-1zM68 61h1v1h-1zM70 61h1v1h-1zM94 61h1v1h-1zM106 61h1v1h-1zM113 61h1v1h-1zM10 62h2v1h-2zM14 62h1v1h-1zM19 62h1v1h-1zM28 62h1v1h-1zM30 62h3v1h-3zM43 62h2v1h-2zM54 62h1v1h-1zM62 62h2v1h-2zM65 62h1v1h-1zM72 62h1v1h-1zM86 62h1v1h-1zM89 62h1v1h-1zM92 62h1v1h-1zM96 62h1v1h-1zM98 62h1v1h-1zM103 62h1v1h-1zM109 62h1v1h-1zM112 62h1v1h-1zM10 63h1v1h-1zM13 63h2v1h-2zM16 63h4v1h-4zM21 63h1v1h-1zM27 63h1v1h-1zM30 63h1v1h-1zM32 63h1v1h-1zM44 63h1v1h-1zM50 63h1v1h-1zM57 63h4v1h-4zM63 63h2v1h-2zM66 63h2v1h-2zM71 63h1v1h-1zM79 63h1v1h-1zM87 63h1v1h-1zM94 63h1v1h-1zM96 63h1v1h-1zM99 63h1v1h-1zM102 63h2v1h-2zM106 63h2v1h-2zM112 63h1v1h-1zM116 63h1v1h-1zM1 64h1v1h-1zM3 64h1v1h-1zM23 64h2v1h-2zM27 64h1v1h-1zM36 64h2v1h-2zM44 64h1v1h-1zM50 64h2v1h-2zM60 64h1v1h-1zM64 64h4v1h-4zM85 64h1v1h-1zM92 64h1v1h-1zM1 65h1v1h-1zM25 65h1v1h-1zM36 65h1v1h-1zM39 65h1v1h-1zM49 65h2v1h-2zM56 65h1v1h-1zM59 65h1v1h-1zM63 65h1v1h-1zM68 65h1v1h-1zM71 65h1v1h-1zM75 65h1v1h-1zM80 65h1v1h-1zM84 65h3v1h-3zM107 65h1v1h-1zM115 65h1v1h-1zM0 66h2v1h-2zM4 66h1v1h-1zM9 66h2v1h-2zM12 66h1v1h-1zM26 66h1v1h-1zM30 66h1v1h-1zM33 66h1v1h-1zM45 66h1v1h-1zM48 66h3v1h-3zM58 66h1v1h-1zM64 66h1v1h-1zM68 66h1v1h-1zM75 66h2v1h-2zM78 66h1v1h-1zM85 66h1v1h-1zM91 66h2v1h-2zM104 66h1v1h-1zM111 66h1v1h-1zM116 66h1v1h-1zM17 67h1v1h-1zM19 67h1v1h-1zM22 67h1v1h-1zM27 67h1v1h-1zM29 67h2v1h-2zM33 67h1v1h-1zM43 67h1v1h-1zM46 67h2v1h-2zM51 67h2v1h-2zM56 67h2v1h-2zM60 67h1v1h-1zM75 67h2v1h-2zM85 67h1v1h-1zM88 67h1v1h-1zM91 67h1v1h-1zM97 67h2v1h-2zM103 67h2v1h-2zM0 68h2v1h-2zM8 68h1v1h-1zM11 68h1v1h-1zM19 68h1v1h-1zM27 68h1v1h-1zM31 68h1v1h-1zM39 68h1v1h-1zM44 68h1v1h-1zM54 68h2v1h-2zM61 68h2v1h-2zM65 68h1v1h-1zM67 68h1v1h-1zM71 68h4v1h-4zM77 68h1v1h-1zM80 68h1v1h-1zM88 68h1v1h-1zM93 68h1v1h-1zM97 68h1v1h-1zM104 68h2v1h-2zM107 68h1v1h-1zM1 69h2v1h-2zM4 69h1v1h-1zM10 69h2v1h-2zM31 69h1v1h-1zM43 69h1v1h-1zM45 69h2v1h-2zM55 69h1v1h-1zM63 69h1v1h-1zM71 69h2v1h-2zM74 69h1v1h-1zM79 69h1v1h-1zM90 69h2v1h-2zM93 69h1v1h-1zM96 69h1v1h-1zM103 69h3v1h-3zM107 69h3v1h-3zM114 69h1v1h-1zM116 69h1v1h-1zM7 70h1v1h-1zM9 70h1v1h-1zM11 70h1v1h-1zM19 70h1v1h-1zM43 70h3v1h-3zM48 70h1v1h-1zM51 70h1v1h-1zM63 70h1v1h-1zM65 70h2v1h-2zM68 70h1v1h-1zM72 70h1v1h-1zM74 70h4v1h-4zM80 70h1v1h-1zM94 70h4v1h-4zM105 70h1v1h-1zM113 70h3v1h-3zM7 71h1v1h-1zM15 71h1v1h-1zM17 71h1v1h-1zM27 71h1v1h-1zM32 71h1v1h-1zM35 71h1v1h-1zM47 71h1v1h-1zM59 71h1v1h-1zM61 71h1v1h-1zM63 71h2v1h-2zM68 71h3v1h-3zM75 71h1v1h-1zM84 71h4v1h-4zM97 71h1v1h-1zM100 71h2v1h-2zM106 71h2v1h-2zM115 71h1v1h-1zM0 72h2v1h-2zM4 72h1v1h-1zM7 72h1v1h-1zM32 72h1v1h-1zM51 72h1v1h-1zM59 72h2v1h-2zM62 72h1v1h-1zM66 72h1v1h-1zM68 72h2v1h-2zM72 72h1v1h-1zM86 72h2v1h-2zM92 72h1v1h-1zM97 72h1v1h-1zM100 72h1v1h-1zM106 72h3v1h-3zM110 72h1v1h-1zM4 73h3v1h-3zM8 73h3v1h-3zM56 73h1v1h-1zM58 73h1v1h-1zM66 73h2v1h-2zM72 73h1v1h-1zM76 73h1v1h-1zM84 73h2v1h-2zM93 73h2v1h-2zM96 73h1v1h-1zM100 73h1v1h-1zM102 73h1v1h-1zM104 73h2v1h-2zM110 73h1v1h-1zM113 73h1v1h-1zM7 74h1v1h-1zM9 74h3v1h-3zM14 74h1v1h-1zM33 74h1v1h-1zM40 74h1v1h-1zM49 74h2v1h-2zM52 74h1v1h-1zM54 74h1v1h-1zM56 74h1v1h-1zM63 74h1v1h-1zM80 74h1v1h-1zM82 74h2v1h-2zM96 74h1v1h-1zM101 74h1v1h-1zM116 74h1v1h-1zM6 75h1v1h-1zM10 75h1v1h-1zM12 75h2v1h-2zM15 75h1v1h-1zM26 75h3v1h-3zM30 75h1v1h-1zM39 75h2v1h-2zM42 75h1v1h-1zM46 75h2v1h-2zM49 75h1v1h-1zM58 75h1v1h-1zM66 75h2v1h-2zM72 75h1v1h-1zM76 75h3v1h-3zM81 75h1v1h-1zM84 75h1v1h-1zM92 75h1v1h-1zM96 75h2v1h-2zM101 75h1v1h-1zM114 75h1v1h-1zM0 76h1v1h-1zM26 76h1v1h-1zM30 76h1v1h-1zM48 76h2v1h-2zM56 76h1v1h-1zM58 76h1v1h-1zM65 76h1v1h-1zM72 76h1v1h-1zM74 76h2v1h-2zM77 76h1v1h-1zM82 76h1v1h-1zM84 76h1v1h-1zM90 76h1v1h-1zM92 76h1v1h-1zM95 76h1v1h-1zM99 76h1v1h-1zM101 76h1v1h-1zM106 76h2v1h-2zM109 76h1v1h-1zM0 77h1v1h-1zM4 77h3v1h-3zM19 77h2v1h-2zM31 77h1v1h-1zM33 77h2v1h-2zM36 77h1v1h-1zM49 77h1v1h-1zM55 77h1v1h-1zM69 77h1v1h-1zM73 77h3v1h-3zM77 77h2v1h-2zM82 77h1v1h-1zM85 77h1v1h-1zM102 77h2v1h-2zM105 77h1v1h-1zM3 78h1v1h-1zM6 78h1v1h-1zM9 78h1v1h-1zM31 78h1v1h-1zM35 78h1v1h-1zM42 78h1v1h-1zM44 78h1v1h-1zM50 78h2v1h-2zM54 78h1v1h-1zM61 78h3v1h-3zM74 78h1v1h-1zM77 78h1v1h-1zM81 78h3v1h-3zM85 78h1v1h-1zM106 78h3v1h-3zM3 79h1v1h-1zM12 79h1v1h-1zM20 79h1v1h-1zM39 79h1v1h-1zM43 79h1v1h-1zM45 79h2v1h-2zM52 79h1v1h-1zM59 79h1v1h-1zM62 79h4v1h-4zM80 79h1v1h-1zM82 79h2v1h-2zM89 79h2v1h-2zM99 79h1v1h-1zM105 79h1v1h-1zM116 79h1v1h-1zM4 80h1v1h-1zM10 80h1v1h-1zM12 80h1v1h-1zM14 80h1v1h-1zM17 80h1v1h-1zM19 80h2v1h-2zM28 80h1v1h-1zM37 80h1v1h-1zM39 80h1v1h-1zM52 80h1v1h-1zM60 80h3v1h-3zM75 80h2v1h-2zM90 80h1v1h-1zM111 80h1v1h-1zM115 80h1v1h-1zM1 81h1v1h-1zM8 81h1v1h-1zM10 81h1v1h-1zM16 81h1v1h-1zM18 81h1v1h-1zM20 81h1v1h-1zM22 81h1v1h-1zM29 81h1v1h-1zM45 81h1v1h-1zM49 81h2v1h-2zM52 81h1v1h-1zM81 81h2v1h-2zM90 81h1v1h-1zM99 81h3v1h-3zM12 82h1v1h-1zM32 82h1v1h-1zM34 82h1v1h-1zM37 82h1v1h-1zM39 82h1v1h-1zM46 82h1v1h-1zM52 82h1v1h-1zM56 82h1v1h-1zM61 82h1v1h-1zM75 82h1v1h-1zM77 82h1v1h-1zM80 82h1v1h-1zM83 82h1v1h-1zM101 82h1v1h-1zM105 82h1v1h-1zM109 82h1v1h-1zM115 82h1v1h-1zM6 83h1v1h-1zM16 83h1v1h-1zM32 83h1v1h-1zM42 83h2v1h-2zM45 83h1v1h-1zM49 83h3v1h-3zM64 83h1v1h-1zM76 83h1v1h-1zM94 83h1v1h-1zM97 83h1v1h-1zM100 83h5v1h-5zM2 84h1v1h-1zM4 84h1v1h-1zM13 84h1v1h-1zM22 84h1v1h-1zM24 84h1v1h-1zM42 84h1v1h-1zM48 84h1v1h-1zM64 84h1v1h-1zM67 84h1v1h-1zM84 84h1v1h-1zM99 84h1v1h-1zM104 84h1v1h-1zM116 84h1v1h-1zM4 85h2v1h-2zM10 85h1v1h-1zM13 85h2v1h-2zM23 85h1v1h-1zM29 85h1v1h-1zM31 85h1v1h-1zM37 85h1v1h-1zM50 85h1v1h-1zM56 85h1v1h-1zM58 85h2v1h-2zM92 85h1v1h-1zM99 85h1v1h-1zM116 85h1v1h-1zM1 86h1v1h-1zM3 86h2v1h-2zM8 86h2v1h-2zM21 86h2v1h-2zM24 86h1v1h-1zM38 86h2v1h-2zM48 86h1v1h-1zM57 86h2v1h-2zM62 86h1v1h-1zM73 86h1v1h-1zM82 86h1v1h-1zM116 86h1v1h-1zM6 87h1v1h-1zM9 87h1v1h-1zM18 87h2v1h-2zM25 87h1v1h-1zM35 87h1v1h-1zM37 87h1v1h-1zM39 87h1v1h-1zM62 87h1v1h-1zM66 87h1v1h-1zM73 87h1v1h-1zM81 87h4v1h-4zM87 87h1v1h-1zM91 87h1v1h-1zM95 87h1v1h-1zM104 87h1v1h-1zM109 87h1v1h-1zM115 87h2v1h-2zM1 88h1v1h-1zM6 88h1v1h-1zM8 88h1v1h-1zM10 88h1v1h-1zM21 88h1v1h-1zM23 88h1v1h-1zM41 88h2v1h-2zM47 88h1v1h-1zM49 88h1v1h-1zM55 88h1v1h-1zM66 88h1v1h-1zM69 88h1v1h-1zM74 88h1v1h-1zM77 88h1v1h-1zM86 88h2v1h-2zM90 88h1v1h-1zM94 88h1v1h-1zM99 88h1v1h-1zM104 88h2v1h-2zM1 89h1v1h-1zM5 89h1v1h-1zM11 89h1v1h-1zM14 89h1v1h-1zM23 89h2v1h-2zM28 89h1v1h-1zM32 89h1v1h-1zM39 89h2v1h-2zM42 89h1v1h-1zM47 89h1v1h-1zM64 89h1v1h-1zM76 89h1v1h-1zM90 89h2v1h-2zM93 89h1v1h-1zM104 89h2v1h-2zM110 89h2v1h-2z"/>
<path fill="rgb(80,80,80)" d="M1 0h1v1h-1zM6 0h1v1h-1zM8 0h1v1h-1zM11 0h2v1h-2zM15 0h1v1h-1zM18 0h1v1h-1zM26 0h2v1h-2zM34 0h1v1h-1zM41 0h1v1h-1zM46 0h1v1h-1zM53 0h1v1h-1zM76 0h2v1h-2zM84 0h1v1h-1zM89 0h1v1h-1zM91 0h2v1h-2zM97 0h1v1h-1zM100 0h2v1h-2zM113 0h3v1h-3zM12 1h1v1h-1zM18 1h1v1h-1zM41 1h1v1h-1zM46 1h1v1h-1zM65 1h2v1h-2zM83 1h2v1h-2zM88 1h1v1h-1zM97 1h1v1h-1zM107 1h2v1h-2zM116 1h1v1h-1zM10 2h4v1h-4zM16 2h1v1h-1zM19 2h1v1h-1zM43 2h1v1h-1zM84 2h2v1h-2zM89 2h1v1h-1zM91 2h1v1h-1zM96 2h2v1h-2zM99 2h2v1h-2zM113 2h1v1h-1zM7 3h1v1h-1zM9 3h1v1h-1zM17 3h1v1h-1zM20 3h1v1h-1zM44 3h1v1h-1zM54 3h1v1h-1zM61 3h1v1h-1zM65 3h3v1h-3zM70 3h1v1h-1zM81 3h1v1h-1zM90 3h1v1h-1zM96 3h1v1h-1zM101 3h1v1h-1zM103 3h1v1h-1zM114 3h1v1h-1zM1 4h1v1h-1zM13 4h1v1h-1zM17 4h1v1h-1zM24 4h1v1h-1zM50 4h1v1h-1zM54 4h2v1h-2zM63 4h1v1h-1zM79 4h1v1h-1zM81 4h1v1h-1zM115 4h1v1h-1zM4 5h3v1h-3zM12 5h2v1h-2zM17 5h1v1h-1zM20 5h1v1h-1zM26 5h1v1h-1zM34 5h1v1h-1zM47 5h1v1h-1zM49 5h2v1h-2zM55 5h1v1h-1zM59 5h1v1h-1zM63 5h1v1h-1zM81 5h3v1h-3zM104 5h1v1h-1zM109 5h2v1h-2zM6 6h1v1h-1zM9 6h2v1h-2zM13 6h2v1h-2zM19 6h1v1h-1zM22 6h1v1h-1zM35 6h1v1h-1zM41 6h2v1h-2zM47 6h3v1h-3zM54 6h1v1h-1zM56 6h1v1h-1zM58 6h1v1h-1zM75 6h2v1h-2zM79 6h2v1h-2zM82 6h1v1h-1zM101 6h1v1h-1zM104 6h1v1h-1zM111 6h1v1h-1zM5 7h2v1h-2zM15 7h1v1h-1zM20 7h1v1h-1zM35 7h1v1h-1zM38 7h1v1h-1zM41 7h2v1h-2zM47 7h1v1h-1zM49 7h1v1h-1zM54 7h1v1h-1zM72 7h1v1h-1zM80 7h1v1h-1zM83 7h2v1h-2zM87 7h1v1h-1zM102 7h1v1h-1zM2 8h1v1h-1zM7 8h1v1h-1zM16 8h1v1h-1zM19 8h1v1h-1zM26 8h1v1h-1zM29 8h1v1h-1zM37 8h1v1h-1zM41 8h1v1h-1zM46 8h1v1h-1zM57 8h1v1h-1zM65 8h1v1h-1zM79 8h1v1h-1zM84 8h1v1h-1zM86 8h1v1h-1zM92 8h1v1h-1zM96 8h1v1h-1zM103 8h1v1h-1zM111 8h1v1h-1zM2 9h1v1h-1zM7 9h3v1h-3zM11 9h1v1h-1zM13 9h1v1h-1zM18 9h1v1h-1zM20 9h1v1h-1zM23 9h1v1h-1zM29 9h1v1h-1zM41 9h4v1h-4zM58 9h1v1h-1zM67 9h1v1h-1zM70 9h1v1h-1zM73 9h1v1h-1zM75 9h1v1h-1zM84 9h3v1h-3zM92 9h1v1h-1zM96 9h1v1h-1zM101 9h1v1h-1zM115 9h2v1h-2zM2 10h1v1h-1zM7 10h2v1h-2zM12 10h2v1h-2zM43 10h1v1h-1zM52 10h1v1h-1zM60 10h1v1h-1zM78 10h1v1h-1zM102 10h1v1h-1zM115 10h1v1h-1zM8 11h1v1h-1zM10 11h1v1h-1zM13 11h1v1h-1zM18 11h1v1h-1zM31 11h1v1h-1zM55 11h1v1h-1zM72 11h2v1h-2zM77 11h1v1h-1zM102 11h1v1h-1zM0 12h1v1h-1zM4 12h1v1h-1zM6 12h1v1h-1zM19 12h1v1h-1zM29 12h1v1h-1zM36 12h1v1h-1zM38 12h2v1h-2zM41 12h1v1h-1zM43 12h1v1h-1zM48 12h1v1h-1zM55 12h1v1h-1zM59 12h1v1h-1zM67 12h1v1h-1zM73 12h1v1h-1zM76 12h1v1h-1zM78 12h1v1h-1zM92 12h1v1h-1zM98 12h1v1h-1zM107 12h1v1h-1zM23 13h2v1h-2zM39 13h1v1h-1zM47 13h1v1h-1zM55 13h1v1h-1zM66 13h2v1h-2zM83 13h1v1h-1zM105 13h1v1h-1zM108 13h1v1h-1zM110 13h1v1h-1zM0 14h1v1h-1zM3 14h1v1h-1zM6 14h1v1h-1zM11 14h2v1h-2zM17 14h1v1h-1zM26 14h1v1h-1zM34 14h1v1h-1zM52 14h1v1h-1zM57 14h1v1h-1zM67 14h1v1h-1zM89 14h1v1h-1zM91 14h2v1h-2zM94 14h1v1h-1zM106 14h1v1h-1zM1 15h1v1h-1zM6 15h1v1h-1zM26 15h1v1h-1zM31 15h2v1h-2zM34 15h1v1h-1zM52 15h1v1h-1zM59 15h1v1h-1zM66 15h1v1h-1zM78 15h1v1h-1zM93 15h3v1h-3zM113 15h1v1h-1zM20 16h1v1h-1zM24 16h1v1h-1zM26 16h2v1h-2zM29 16h1v1h-1zM35 16h2v1h-2zM38 16h1v1h-1zM55 16h1v1h-1zM57 16h3v1h-3zM68 16h1v1h-1zM77 16h1v1h-1zM79 16h1v1h-1zM86 16h1v1h-1zM94 16h2v1h-2zM97 16h1v1h-1zM99 16h2v1h-2zM9 17h1v1h-1zM34 17h2v1h-2zM38 17h1v1h-1zM54 17h2v1h-2zM58 17h1v1h-1zM67 17h1v1h-1zM78 17h1v1h-1zM80 17h1v1h-1zM85 17h1v1h-1zM96 17h1v1h-1zM101 17h1v1h-1zM5 18h2v1h-2zM9 18h2v1h-2zM19 18h1v1h-1zM32 18h1v1h-1zM35 18h2v1h-2zM46 18h1v1h-1zM54 18h1v1h-1zM60 18h1v1h-1zM95 18h1v1h-1zM97 18h1v1h-1zM100 18h1v1h-1zM22 19h2v1h-2zM31 19h1v1h-1zM36 19h1v1h-1zM39 19h2v1h-2zM55 19h1v1h-1zM59 19h1v1h-1zM63 19h1v1h-1zM74 19h1v1h-1zM76 19h1v1h-1zM81 19h3v1h-3zM98 19h2v1h-2zM111 19h1v1h-1zM38 20h1v1h-1zM41 20h2v1h-2zM44 20h1v1h-1zM48 20h1v1h-1zM50 20h1v1h-1zM59 20h1v1h-1zM63 20h1v1h-1zM68 20h1v1h-1zM77 20h2v1h-2zM85 20h1v1h-1zM96 20h1v1h-1zM98 20h2v1h-2zM103 20h1v1h-1zM112 20h1v1h-1zM17 21h2v1h-2zM31 21h1v1h-1zM44 21h1v1h-1zM47 21h1v1h-1zM58 21h1v1h-1zM68 21h1v1h-1zM80 21h1v1h-1zM85 21h1v1h-1zM95 21h1v1h-1zM102 21h1v1h-1zM112 21h1v1h-1zM5 22h1v1h-1zM12 22h1v1h-1zM21 22h1v1h-1zM25 22h1v1h-1zM41 22h1v1h-1zM47 22h1v1h-1zM57 22h1v1h-1zM65 22h1v1h-1zM92 22h2v1h-2zM99 22h1v1h-1zM104 22h1v1h-1zM112 22h1v1h-1zM115 22h1v1h-1zM5 23h1v1h-1zM10 23h1v1h-1zM14 23h1v1h-1zM17 23h2v1h-2zM24 23h1v1h-1zM33 23h1v1h-1zM44 23h1v1h-1zM47 23h2v1h-2zM60 23h1v1h-1zM75 23h2v1h-2zM79 23h2v1h-2zM83 23h1v1h-1zM93 23h1v1h-1zM95 23h1v1h-1zM109 23h1v1h-1zM13 24h1v1h-1zM17 24h3v1h-3zM37 24h1v1h-1zM42 24h1v1h-1zM47 24h2v1h-2zM55 24h1v1h-1zM57 24h1v1h-1zM89 24h1v1h-1zM94 24h1v1h-1zM105 24h1v1h-1zM109 24h1v1h-1zM0 25h2v1h-2zM9 25h1v1h-1zM35 25h1v1h-1zM41 25h2v1h-2zM54 25h2v1h-2zM59 25h3v1h-3zM63 25h1v1h-1zM66 25h2v1h-2zM90 25h1v1h-1zM3 26h2v1h-2zM13 26h4v1h-4zM20 26h1v1h-1zM39 26h1v1h-1zM41 26h2v1h-2zM46 26h1v1h-1zM53 26h1v1h-1zM90 26h1v1h-1zM93 26h1v1h-1zM4 27h1v1h-1zM12 27h2v1h-2zM38 27h1v1h-1zM51 27h1v1h-1zM53 27h1v1h-1zM64 27h1v1h-1zM69 27h1v1h-1zM72 27h1v1h-1zM81 27h2v1h-2zM90 27h1v1h-1zM94 27h1v1h-1zM116 27h1v1h-1zM1 28h2v1h-2zM27 28h1v1h-1zM29 28h1v1h-1zM51 28h2v1h-2zM63 28h1v1h-1zM69 28h1v1h-1zM72 28h1v1h-1zM78 28h1v1h-1zM80 28h2v1h-2zM87 28h1v1h-1zM89 28h1v1h-1zM98 28h2v1h-2zM105 28h2v1h-2zM113 28h1v1h-1zM2 29h1v1h-1zM12 29h1v1h-1zM30 29h1v1h-1zM52 29h1v1h-1zM65 29h1v1h-1zM72 29h1v1h-1zM77 29h1v1h-1zM81 29h1v1h-1zM89 29h1v1h-1zM100 29h1v1h-1zM112 29h1v1h-1zM40 30h1v1h-1zM47 30h2v1h-2zM52 30h2v1h-2zM86 30h1v1h-1zM89 30h1v1h-1zM93 30h1v1h-1zM99 30h1v1h-1zM107 30h1v1h-1zM113 30h1v1h-1zM0 31h1v1h-1zM7 31h1v1h-1zM12 31h1v1h-1zM16 31h1v1h-1zM23 31h2v1h-2zM37 31h1v1h-1zM43 31h2v1h-2zM60 31h1v1h-1zM63 31h1v1h-1zM79 31h1v1h-1zM86 31h1v1h-1zM89 31h1v1h-1zM93 31h1v1h-1zM106 31h4v1h-4zM112 31h1v1h-1zM14 32h2v1h-2zM23 32h1v1h-1zM33 32h1v1h-1zM39 32h1v1h-1zM48 32h1v1h-1zM58 32h1v1h-1zM61 32h1v1h-1zM71 32h1v1h-1zM85 32h3v1h-3zM96 32h1v1h-1zM108 32h1v1h-1zM0 33h1v1h-1zM15 33h1v1h-1zM19 33h1v1h-1zM22 33h1v1h-1zM27 33h1v1h-1zM38 33h2v1h-2zM41 33h1v1h-1zM58 33h2v1h-2zM67 33h2v1h-2zM71 33h1v1h-1zM73 33h1v1h-1zM75 33h3v1h-3zM80 33h1v1h-1zM86 33h1v1h-1zM88 33h1v1h-1zM107 33h1v1h-1zM113 33h2v1h-2zM3 34h1v1h-1zM5 34h1v1h-1zM21 34h2v1h-2zM27 34h1v1h-1zM40 34h2v1h-2zM55 34h2v1h-2zM58 34h3v1h-3zM71 34h1v1h-1zM73 34h1v1h-1zM77 34h2v1h-2zM80 34h1v1h-1zM94 34h1v1h-1zM107 34h1v1h-1zM114 34h3v1h-3zM5 35h1v1h-1zM8 35h1v1h-1zM21 35h1v1h-1zM27 35h1v1h-1zM34 35h1v1h-1zM41 35h1v1h-1zM46 35h2v1h-2zM50 35h1v1h-1zM53 35h1v1h-1zM58 35h2v1h-2zM62 35h1v1h-1zM69 35h1v1h-1zM73 35h1v1h-1zM76 35h2v1h-2zM94 35h1v1h-1zM116 35h1v1h-1zM10 36h1v1h-1zM24 36h1v1h-1zM28 36h1v1h-1zM32 36h2v1h-2zM35 36h2v1h-2zM44 36h2v1h-2zM50 36h1v1h-1zM53 36h1v1h-1zM56 36h1v1h-1zM83 36h2v1h-2zM89 36h1v1h-1zM110 36h1v1h-1zM3 37h1v1h-1zM8 37h1v1h-1zM15 37h1v1h-1zM28 37h1v1h-1zM37 37h1v1h-1zM57 37h1v1h-1zM76 37h1v1h-1zM93 37h2v1h-2zM96 37h1v1h-1zM98 37h1v1h-1zM100 37h2v1h-2zM6 38h3v1h-3zM21 38h1v1h-1zM23 38h1v1h-1zM35 38h1v1h-1zM39 38h1v1h-1zM41 38h1v1h-1zM45 38h2v1h-2zM51 38h1v1h-1zM68 38h1v1h-1zM78 38h1v1h-1zM95 38h1v1h-1zM99 38h1v1h-1zM115 38h2v1h-2zM6 39h5v1h-5zM17 39h1v1h-1zM20 39h3v1h-3zM25 39h1v1h-1zM40 39h2v1h-2zM43 39h2v1h-2zM52 39h1v1h-1zM54 39h1v1h-1zM70 39h1v1h-1zM76 39h1v1h-1zM99 39h2v1h-2zM3 40h2v1h-2zM19 40h4v1h-4zM37 40h1v1h-1zM39 40h1v1h-1zM52 40h3v1h-3zM57 40h1v1h-1zM70 40h3v1h-3zM97 40h1v1h-1zM101 40h2v1h-2zM105 40h1v1h-1zM115 40h1v1h-1zM1 41h1v1h-1zM4 41h1v1h-1zM8 41h1v1h-1zM15 41h1v1h-1zM20 41h1v1h-1zM23 41h1v1h-1zM26 41h1v1h-1zM30 41h1v1h-1zM49 41h1v1h-1zM53 41h1v1h-1zM61 41h1v1h-1zM66 41h1v1h-1zM82 41h1v1h-1zM84 41h1v1h-1zM88 41h2v1h-2zM103 41h1v1h-1zM2 42h1v1h-1zM15 42h1v1h-1zM20 42h1v1h-1zM24 42h1v1h-1zM30 42h1v1h-1zM36 42h1v1h-1zM39 42h1v1h-1zM70 42h1v1h-1zM87 42h1v1h-1zM104 42h1v1h-1zM109 42h1v1h-1zM115 42h1v1h-1zM10 43h2v1h-2zM14 43h1v1h-1zM23 43h3v1h-3zM27 43h1v1h-1zM31 43h1v1h-1zM41 43h3v1h-3zM54 43h1v1h-1zM60 43h1v1h-1zM67 43h1v1h-1zM69 43h1v1h-1zM72 43h1v1h-1zM76 43h1v1h-1zM81 43h1v1h-1zM87 43h1v1h-1zM92 43h1v1h-1zM100 43h1v1h-1zM0 44h1v1h-1zM8 44h1v1h-1zM11 44h1v1h-1zM13 44h1v1h-1zM17 44h1v1h-1zM21 44h2v1h-2zM24 44h1v1h-1zM27 44h1v1h-1zM30 44h2v1h-2zM42 44h1v1h-1zM44 44h1v1h-1zM47 44h1v1h-1zM50 44h1v1h-1zM58 44h1v1h-1zM69 44h1v1h-1zM71 44h1v1h-1zM86 44h2v1h-2zM91 44h1v1h-1zM96 44h2v1h-2zM100 44h2v1h-2zM111 44h3v1h-3zM4 45h1v1h-1zM21 45h2v1h-2zM32 45h1v1h-1zM35 45h1v1h-1zM43 45h1v1h-1zM47 45h1v1h-1zM51 45h1v1h-1zM65 45h2v1h-2zM70 45h1v1h-1zM80 45h1v1h-1zM114 45h1v1h-1zM6 46h1v1h-1zM19 46h1v1h-1zM21 46h1v1h-1zM47 46h1v1h-1zM51 46h1v1h-1zM59 46h2v1h-2zM65 46h1v1h-1zM77 46h1v1h-1zM103 46h1v1h-1zM0 47h1v1h-1zM4 47h2v1h-2zM11 47h1v1h-1zM14 47h1v1h-1zM26 47h1v1h-1zM43 47h1v1h-1zM50 47h1v1h-1zM52 47h1v1h-1zM65 47h1v1h-1zM76 47h2v1h-2zM82 47h2v1h-2zM86 47h1v1h-1zM92 47h1v1h-1zM94 47h1v1h-1zM102 47h1v1h-1zM112 47h1v1h-1zM114 47h1v1h-1zM0 48h1v1h-1zM2 48h1v1h-1zM4 48h4v1h-4zM14 48h2v1h-2zM20 48h1v1h-1zM27 48h1v1h-1zM31 48h1v1h-1zM45 48h2v1h-2zM52 48h1v1h-1zM55 48h1v1h-1zM67 48h1v1h-1zM69 48h1v1h-1zM71 48h1v1h-1zM76 48h1v1h-1zM83 48h1v1h-1zM100 48h1v1h-1zM102 48h1v1h-1zM111 48h1v1h-1zM114 48h1v1h-1zM1 49h1v1h-1zM3 49h1v1h-1zM7 49h1v1h-1zM15 49h1v1h-1zM25 49h1v1h-1zM27 49h1v1h-1zM29 49h3v1h-3zM41 49h1v1h-1zM43 49h2v1h-2zM63 49h1v1h-1zM76 49h3v1h-3zM80 49h1v1h-1zM87 49h1v1h-1zM99 49h3v1h-3zM115 49h1v1h-1zM0 50h2v1h-2zM15 50h1v1h-1zM26 50h1v1h-1zM29 50h1v1h-1zM32 50h1v1h-1zM41 50h1v1h-1zM43 50h1v1h-1zM48 50h1v1h-1zM61 50h1v1h-1zM63 50h1v1h-1zM69 50h1v1h-1zM76 50h2v1h-2zM80 50h1v1h-1zM105 50h3v1h-3zM111 50h1v1h-1zM6 51h1v1h-1zM12 51h1v1h-1zM31 51h3v1h-3zM41 51h2v1h-2zM47 51h1v1h-1zM53 51h1v1h-1zM66 51h1v1h-1zM68 51h1v1h-1zM76 51h3v1h-3zM81 51h1v1h-1zM88 51h1v1h-1zM110 51h1v1h-1zM112 51h1v1h-1zM116 51h1v1h-1zM0 52h2v1h-2zM9 52h1v1h-1zM31 52h1v1h-1zM34 52h1v1h-1zM43 52h2v1h-2zM55 52h1v1h-1zM57 52h1v1h-1zM72 52h2v1h-2zM76 52h1v1h-1zM78 52h1v1h-1zM88 52h1v1h-1zM105 52h1v1h-1zM111 52h1v1h-1zM2 53h1v1h-1zM25 53h1v1h-1zM34 53h1v1h-1zM38 53h2v1h-2zM45 53h1v1h-1zM47 53h1v1h-1zM56 53h1v1h-1zM58 53h1v1h-1zM61 53h1v1h-1zM63 53h1v1h-1zM85 53h1v1h-1zM96 53h2v1h-2zM100 53h1v1h-1zM111 53h1v1h-1zM113 53h1v1h-1zM15 54h1v1h-1zM18 54h1v1h-1zM39 54h1v1h-1zM59 54h1v1h-1zM63 54h1v1h-1zM66 54h1v1h-1zM89 54h1v1h-1zM95 54h1v1h-1zM99 54h1v1h-1zM101 54h1v1h-1zM104 54h1v1h-1zM109 54h1v1h-1zM114 54h1v1h-1zM0 55h1v1h-1zM5 55h1v1h-1zM18 55h1v1h-1zM27 55h1v1h-1zM37 55h1v1h-1zM42 55h1v1h-1zM58 55h1v1h-1zM60 55h1v1h-1zM65 55h2v1h-2zM78 55h1v1h-1zM84 55h1v1h-1zM95 55h1v1h-1zM98 55h1v1h-1zM108 55h1v1h-1zM113 55h1v1h-1zM5 56h1v1h-1zM12 56h1v1h-1zM15 56h1v1h-1zM17 56h1v1h-1zM39 56h1v1h-1zM43 56h1v1h-1zM50 56h1v1h-1zM65 56h2v1h-2zM74 56h1v1h-1zM78 56h1v1h-1zM80 56h1v1h-1zM101 56h1v1h-1zM2 57h2v1h-2zM31 57h1v1h-1zM37 57h1v1h-1zM43 57h1v1h-1zM51 57h1v1h-1zM60 57h1v1h-1zM62 57h1v1h-1zM78 57h2v1h-2zM92 57h1v1h-1zM98 57h1v1h-1zM104 57h1v1h-1zM111 57h1v1h-1zM2 58h1v1h-1zM4 58h1v1h-1zM9 58h2v1h-2zM26 58h4v1h-4zM36 58h1v1h-1zM51 58h1v1h-1zM57 58h1v1h-1zM75 58h2v1h-2zM80 58h2v1h-2zM2 59h1v1h-1zM9 59h1v1h-1zM11 59h1v1h-1zM13 59h2v1h-2zM18 59h1v1h-1zM40 59h1v1h-1zM51 59h1v1h-1zM67 59h1v1h-1zM77 59h1v1h-1zM79 59h2v1h-2zM95 59h1v1h-1zM97 59h1v1h-1zM110 59h1v1h-1zM12 60h1v1h-1zM14 60h1v1h-1zM18 60h1v1h-1zM21 60h1v1h-1zM26 60h1v1h-1zM30 60h2v1h-2zM40 60h1v1h-1zM43 60h1v1h-1zM55 60h2v1h-2zM58 60h2v1h-2zM65 60h1v1h-1zM68 60h1v1h-1zM78 60h1v1h-1zM95 60h1v1h-1zM101 60h2v1h-2zM112 60h2v1h-2zM0 61h1v1h-1zM12 61h1v1h-1zM14 61h1v1h-1zM22 61h1v1h-1zM24 61h1v1h-1zM31 61h1v1h-1zM39 61h2v1h-2zM45 61h2v1h-2zM50 61h1v1h-1zM52 61h1v1h-1zM65 61h1v1h-1zM69 61h1v1h-1zM74 61h1v1h-1zM78 61h1v1h-1zM87 61h1v1h-1zM89 61h4v1h-4zM95 61h1v1h-1zM97 61h1v1h-1zM107 61h2v1h-2zM12 62h2v1h-2zM29 62h1v1h-1zM40 62h1v1h-1zM45 62h1v1h-1zM50 62h1v1h-1zM64 62h1v1h-1zM68 62h1v1h-1zM71 62h1v1h-1zM87 62h1v1h-1zM93 62h1v1h-1zM97 62h1v1h-1zM113 62h1v1h-1zM1 63h1v1h-1zM4 63h1v1h-1zM20 63h1v1h-1zM51 63h1v1h-1zM65 63h1v1h-1zM97 63h1v1h-1zM114 63h1v1h-1zM8 64h2v1h-2zM11 64h2v1h-2zM19 64h1v1h-1zM30 64h3v1h-3zM52 64h1v1h-1zM56 64h1v1h-1zM59 64h1v1h-1zM70 64h1v1h-1zM80 64h1v1h-1zM84 64h1v1h-1zM86 64h1v1h-1zM96 64h1v1h-1zM102 64h2v1h-2zM113 64h3v1h-3zM8 65h2v1h-2zM11 65h2v1h-2zM23 65h1v1h-1zM28 65h2v1h-2zM69 65h2v1h-2zM73 65h2v1h-2zM87 65h1v1h-1zM96 65h2v1h-2zM102 65h2v1h-2zM5 66h2v1h-2zM8 66h1v1h-1zM13 66h1v1h-1zM16 66h1v1h-1zM18 66h2v1h-2zM23 66h3v1h-3zM57 66h1v1h-1zM62 66h1v1h-1zM71 66h1v1h-1zM89 66h2v1h-2zM96 66h3v1h-3zM105 66h1v1h-1zM107 66h1v1h-1zM110 66h1v1h-1zM0 67h1v1h-1zM8 67h1v1h-1zM12 67h1v1h-1zM16 67h1v1h-1zM18 67h1v1h-1zM25 67h1v1h-1zM31 67h2v1h-2zM37 67h1v1h-1zM62 67h1v1h-1zM71 67h1v1h-1zM77 67h2v1h-2zM86 67h1v1h-1zM93 67h3v1h-3zM105 67h1v1h-1zM113 67h1v1h-1zM6 68h1v1h-1zM12 68h1v1h-1zM16 68h1v1h-1zM26 68h1v1h-1zM29 68h1v1h-1zM43 68h1v1h-1zM52 68h2v1h-2zM58 68h1v1h-1zM60 68h1v1h-1zM64 68h1v1h-1zM75 68h1v1h-1zM84 68h1v1h-1zM91 68h1v1h-1zM94 68h1v1h-1zM108 68h2v1h-2zM7 69h1v1h-1zM28 69h1v1h-1zM30 69h1v1h-1zM44 69h1v1h-1zM48 69h1v1h-1zM51 69h1v1h-1zM64 69h1v1h-1zM68 69h1v1h-1zM75 69h1v1h-1zM84 69h1v1h-1zM88 69h2v1h-2zM94 69h1v1h-1zM97 69h1v1h-1zM110 69h1v1h-1zM10 70h1v1h-1zM17 70h1v1h-1zM30 70h1v1h-1zM56 70h1v1h-1zM64 70h1v1h-1zM69 70h1v1h-1zM79 70h1v1h-1zM84 70h1v1h-1zM88 70h1v1h-1zM93 70h1v1h-1zM111 70h2v1h-2zM116 70h1v1h-1zM16 71h1v1h-1zM22 71h1v1h-1zM33 71h1v1h-1zM38 71h1v1h-1zM40 71h1v1h-1zM71 71h1v1h-1zM73 71h2v1h-2zM77 71h1v1h-1zM92 71h2v1h-2zM96 71h1v1h-1zM108 71h1v1h-1zM114 71h1v1h-1zM6 72h1v1h-1zM74 72h2v1h-2zM77 72h1v1h-1zM84 72h1v1h-1zM91 72h1v1h-1zM93 72h1v1h-1zM101 72h1v1h-1zM109 72h1v1h-1zM115 72h1v1h-1zM7 73h1v1h-1zM28 73h1v1h-1zM35 73h2v1h-2zM55 73h1v1h-1zM73 73h1v1h-1zM77 73h1v1h-1zM80 73h1v1h-1zM86 73h3v1h-3zM92 73h1v1h-1zM95 73h1v1h-1zM101 73h1v1h-1zM106 73h1v1h-1zM115 73h1v1h-1zM6 74h1v1h-1zM34 74h1v1h-1zM39 74h1v1h-1zM51 74h1v1h-1zM55 74h1v1h-1zM58 74h1v1h-1zM67 74h1v1h-1zM77 74h3v1h-3zM86 74h1v1h-1zM88 74h1v1h-1zM92 74h1v1h-1zM102 74h1v1h-1zM104 74h1v1h-1zM11 75h1v1h-1zM17 75h1v1h-1zM53 75h1v1h-1zM73 75h3v1h-3zM79 75h1v1h-1zM86 75h1v1h-1zM90 75h2v1h-2zM102 75h2v1h-2zM110 75h1v1h-1zM16 76h2v1h-2zM27 76h2v1h-2zM39 76h1v1h-1zM43 76h1v1h-1zM47 76h1v1h-1zM70 76h1v1h-1zM78 76h1v1h-1zM91 76h1v1h-1zM96 76h1v1h-1zM100 76h1v1h-1zM104 76h2v1h-2zM108 76h1v1h-1zM13 77h3v1h-3zM18 77h1v1h-1zM28 77h3v1h-3zM35 77h1v1h-1zM58 77h2v1h-2zM62 77h1v1h-1zM90 77h1v1h-1zM104 77h1v1h-1zM20 78h1v1h-1zM24 78h1v1h-1zM32 78h1v1h-1zM38 78h1v1h-1zM64 78h1v1h-1zM69 78h1v1h-1zM71 78h1v1h-1zM75 78h1v1h-1zM80 78h1v1h-1zM86 78h1v1h-1zM102 78h2v1h-2zM105 78h1v1h-1zM8 79h1v1h-1zM10 79h2v1h-2zM30 79h1v1h-1zM35 79h1v1h-1zM54 79h1v1h-1zM75 79h2v1h-2zM81 79h1v1h-1zM103 79h2v1h-2zM106 79h1v1h-1zM0 80h1v1h-1zM5 80h1v1h-1zM18 80h1v1h-1zM21 80h1v1h-1zM25 80h3v1h-3zM29 80h3v1h-3zM44 80h2v1h-2zM48 80h1v1h-1zM59 80h1v1h-1zM66 80h1v1h-1zM74 80h1v1h-1zM82 80h1v1h-1zM89 80h1v1h-1zM91 80h1v1h-1zM96 80h3v1h-3zM100 80h2v1h-2zM116 80h1v1h-1zM12 81h1v1h-1zM31 81h1v1h-1zM37 81h3v1h-3zM61 81h1v1h-1zM88 81h1v1h-1zM96 81h1v1h-1zM104 81h2v1h-2zM115 81h1v1h-1zM6 82h1v1h-1zM29 82h1v1h-1zM35 82h1v1h-1zM38 82h1v1h-1zM48 82h2v1h-2zM51 82h1v1h-1zM58 82h1v1h-1zM78 82h2v1h-2zM81 82h2v1h-2zM88 82h1v1h-1zM96 82h1v1h-1zM103 82h1v1h-1zM107 82h2v1h-2zM3 83h3v1h-3zM29 83h1v1h-1zM33 83h1v1h-1zM37 83h1v1h-1zM46 83h3v1h-3zM54 83h1v1h-1zM60 83h1v1h-1zM65 83h3v1h-3zM77 83h1v1h-1zM84 83h1v1h-1zM95 83h2v1h-2zM107 83h1v1h-1zM116 83h1v1h-1zM3 84h1v1h-1zM20 84h2v1h-2zM31 84h1v1h-1zM37 84h1v1h-1zM44 84h1v1h-1zM65 84h1v1h-1zM68 84h1v1h-1zM89 84h1v1h-1zM91 84h1v1h-1zM96 84h1v1h-1zM100 84h2v1h-2zM105 84h1v1h-1zM2 85h2v1h-2zM22 85h1v1h-1zM32 85h1v1h-1zM36 85h1v1h-1zM48 85h1v1h-1zM54 85h2v1h-2zM60 85h3v1h-3zM100 85h2v1h-2zM104 85h1v1h-1zM115 85h1v1h-1zM0 86h1v1h-1zM2 86h1v1h-1zM23 86h1v1h-1zM35 86h1v1h-1zM41 86h1v1h-1zM50 86h1v1h-1zM72 86h1v1h-1zM83 86h1v1h-1zM86 86h1v1h-1zM97 86h1v1h-1zM100 86h2v1h-2zM115 86h1v1h-1zM1 87h1v1h-1zM23 87h2v1h-2zM38 87h1v1h-1zM54 87h1v1h-1zM65 87h1v1h-1zM67 87h1v1h-1zM72 87h1v1h-1zM88 87h1v1h-1zM90 87h1v1h-1zM102 87h2v1h-2zM105 87h1v1h-1zM107 87h1v1h-1zM7 88h1v1h-1zM20 88h1v1h-1zM24 88h2v1h-2zM32 88h1v1h-1zM35 88h2v1h-2zM38 88h1v1h-1zM60 88h4v1h-4zM65 88h1v1h-1zM72 88h2v1h-2zM75 88h2v1h-2zM91 88h3v1h-3zM98 88h1v1h-1zM106 88h1v1h-1zM109 88h2v1h-2zM0 89h1v1h-1zM6 89h1v1h-1zM9 89h1v1h-1zM13 89h1v1h-1zM20 89h3v1h-3zM31 89h1v1h-1zM41 89h1v1h-1zM43 89h1v1h-1zM63 89h1v1h-1zM69 89h1v1h-1zM72 89h1v1h-1zM92 89h1v1h-1zM94 89h1v1h-1zM98 89h1v1h-1zM106 89h1v1h-1z"/>
<path fill="rgb(96,96,96)" d="M0 0h1v1h-1zM10 0h1v1h-1zM21 0h1v1h-1zM23 0h1v1h-1zM35 0h1v1h-1zM66 0h1v1h-1zM2 1h1v1h-1zM8 1h4v1h-4zM25 1h1v1h-1zM27 1h1v1h-1zM31 1h1v1h-1zM89 1h1v1h-1zM91 1h1v1h-1zM5 2h1v1h-1zM14 2h2v1h-2zM20 2h1v1h-1zM32 2h1v1h-1zM53 2h2v1h-2zM56 2h1v1h-1zM90 2h1v1h-1zM95 2h1v1h-1zM105 2h1v1h-1zM51 3h1v1h-1zM53 3h1v1h-1zM56 3h1v1h-1zM62 3h1v1h-1zM71 3h1v1h-1zM80 3h1v1h-1zM25 4h2v1h-2zM80 4h1v1h-1zM104 4h2v1h-2zM23 5h1v1h-1zM33 5h1v1h-1zM60 5h1v1h-1zM79 5h1v1h-1zM106 5h1v1h-1zM16 6h3v1h-3zM21 6h1v1h-1zM30 6h1v1h-1zM50 6h1v1h-1zM53 6h1v1h-1zM59 6h1v1h-1zM62 6h1v1h-1zM65 6h1v1h-1zM73 6h2v1h-2zM84 6h1v1h-1zM109 6h1v1h-1zM7 7h2v1h-2zM16 7h1v1h-1zM19 7h1v1h-1zM21 7h1v1h-1zM26 7h1v1h-1zM48 7h1v1h-1zM50 7h3v1h-3zM56 7h1v1h-1zM60 7h1v1h-1zM67 7h1v1h-1zM79 7h1v1h-1zM104 7h1v1h-1zM106 7h1v1h-1zM111 7h1v1h-1zM9 8h2v1h-2zM22 8h1v1h-1zM49 8h1v1h-1zM53 8h2v1h-2zM60 8h1v1h-1zM100 8h1v1h-1zM102 8h1v1h-1zM109 8h1v1h-1zM5 9h1v1h-1zM24 9h1v1h-1zM54 9h2v1h-2zM59 9h2v1h-2zM74 9h1v1h-1zM95 9h1v1h-1zM102 9h1v1h-1zM3 10h2v1h-2zM50 10h2v1h-2zM55 10h1v1h-1zM59 10h1v1h-1zM7 11h1v1h-1zM21 11h1v1h-1zM34 11h2v1h-2zM47 11h1v1h-1zM49 11h1v1h-1zM59 11h1v1h-1zM76 11h1v1h-1zM5 12h1v1h-1zM7 12h1v1h-1zM13 12h1v1h-1zM30 12h3v1h-3zM35 12h1v1h-1zM45 12h1v1h-1zM72 12h1v1h-1zM4 13h1v1h-1zM6 13h5v1h-5zM17 13h2v1h-2zM27 13h1v1h-1zM40 13h3v1h-3zM56 13h2v1h-2zM71 13h1v1h-1zM91 13h3v1h-3zM18 14h1v1h-1zM23 14h2v1h-2zM55 14h1v1h-1zM71 14h1v1h-1zM83 14h1v1h-1zM93 14h1v1h-1zM22 15h1v1h-1zM33 15h1v1h-1zM35 15h1v1h-1zM50 15h1v1h-1zM57 15h1v1h-1zM67 15h1v1h-1zM4 16h2v1h-2zM23 16h1v1h-1zM28 16h1v1h-1zM53 16h1v1h-1zM87 16h1v1h-1zM96 16h1v1h-1zM116 16h1v1h-1zM4 17h2v1h-2zM20 17h2v1h-2zM42 17h1v1h-1zM47 17h1v1h-1zM83 17h1v1h-1zM86 17h1v1h-1zM97 17h1v1h-1zM100 17h1v1h-1zM116 17h1v1h-1zM4 18h1v1h-1zM18 18h1v1h-1zM26 18h1v1h-1zM31 18h1v1h-1zM55 18h1v1h-1zM61 18h1v1h-1zM83 18h1v1h-1zM96 18h1v1h-1zM99 18h1v1h-1zM110 18h1v1h-1zM25 19h1v1h-1zM32 19h1v1h-1zM35 19h1v1h-1zM75 19h1v1h-1zM92 19h1v1h-1zM95 19h3v1h-3zM22 20h1v1h-1zM24 20h1v1h-1zM52 20h1v1h-1zM67 20h1v1h-1zM79 20h1v1h-1zM83 20h2v1h-2zM90 20h1v1h-1zM104 20h1v1h-1zM115 20h1v1h-1zM24 21h3v1h-3zM42 21h2v1h-2zM51 21h2v1h-2zM59 21h2v1h-2zM66 21h2v1h-2zM83 21h2v1h-2zM99 21h2v1h-2zM115 21h1v1h-1zM13 22h1v1h-1zM17 22h2v1h-2zM24 22h1v1h-1zM40 22h1v1h-1zM43 22h2v1h-2zM51 22h1v1h-1zM58 22h2v1h-2zM66 22h2v1h-2zM74 22h1v1h-1zM78 22h2v1h-2zM90 22h2v1h-2zM94 22h2v1h-2zM103 22h1v1h-1zM113 22h2v1h-2zM116 22h1v1h-1zM4 23h1v1h-1zM11 23h1v1h-1zM23 23h1v1h-1zM52 23h1v1h-1zM66 23h3v1h-3zM94 23h1v1h-1zM106 23h1v1h-1zM108 23h1v1h-1zM116 23h1v1h-1zM4 24h1v1h-1zM7 24h2v1h-2zM10 24h1v1h-1zM23 24h2v1h-2zM30 24h1v1h-1zM54 24h1v1h-1zM58 24h3v1h-3zM67 24h2v1h-2zM92 24h1v1h-1zM7 25h2v1h-2zM18 25h2v1h-2zM23 25h2v1h-2zM31 25h2v1h-2zM47 25h1v1h-1zM62 25h1v1h-1zM79 25h1v1h-1zM81 25h1v1h-1zM89 25h1v1h-1zM93 25h2v1h-2zM104 25h4v1h-4zM0 26h2v1h-2zM9 26h1v1h-1zM34 26h1v1h-1zM48 26h2v1h-2zM63 26h1v1h-1zM65 26h1v1h-1zM67 26h1v1h-1zM79 26h3v1h-3zM94 26h1v1h-1zM105 26h1v1h-1zM3 27h1v1h-1zM9 27h1v1h-1zM14 27h2v1h-2zM18 27h1v1h-1zM37 27h1v1h-1zM47 27h1v1h-1zM52 27h1v1h-1zM61 27h1v1h-1zM63 27h1v1h-1zM67 27h1v1h-1zM70 27h2v1h-2zM77 27h4v1h-4zM104 27h2v1h-2zM64 28h1v1h-1zM67 28h1v1h-1zM88 28h1v1h-1zM1 29h1v1h-1zM13 29h1v1h-1zM34 29h2v1h-2zM48 29h1v1h-1zM66 29h1v1h-1zM68 29h1v1h-1zM87 29h1v1h-1zM98 29h1v1h-1zM105 29h1v1h-1zM114 29h1v1h-1zM0 30h1v1h-1zM2 30h1v1h-1zM12 30h1v1h-1zM30 30h1v1h-1zM60 30h1v1h-1zM63 30h1v1h-1zM66 30h1v1h-1zM70 30h2v1h-2zM105 30h1v1h-1zM14 31h1v1h-1zM17 31h1v1h-1zM30 31h1v1h-1zM38 31h2v1h-2zM87 31h2v1h-2zM20 32h1v1h-1zM22 32h1v1h-1zM37 32h2v1h-2zM40 32h1v1h-1zM42 32h1v1h-1zM45 32h1v1h-1zM72 32h1v1h-1zM79 32h1v1h-1zM21 33h1v1h-1zM31 33h1v1h-1zM34 33h1v1h-1zM40 33h1v1h-1zM45 33h1v1h-1zM72 33h1v1h-1zM78 33h1v1h-1zM87 33h1v1h-1zM95 33h1v1h-1zM108 33h2v1h-2zM0 34h1v1h-1zM4 34h1v1h-1zM8 34h1v1h-1zM11 34h1v1h-1zM18 34h1v1h-1zM32 34h1v1h-1zM34 34h1v1h-1zM43 34h1v1h-1zM57 34h1v1h-1zM72 34h1v1h-1zM74 34h1v1h-1zM76 34h1v1h-1zM95 34h3v1h-3zM3 35h1v1h-1zM11 35h1v1h-1zM16 35h1v1h-1zM31 35h2v1h-2zM55 35h1v1h-1zM60 35h2v1h-2zM67 35h2v1h-2zM71 35h1v1h-1zM95 35h1v1h-1zM108 35h1v1h-1zM110 35h1v1h-1zM9 36h1v1h-1zM21 36h1v1h-1zM42 36h1v1h-1zM57 36h1v1h-1zM59 36h1v1h-1zM66 36h1v1h-1zM70 36h1v1h-1zM74 36h3v1h-3zM78 36h1v1h-1zM94 36h1v1h-1zM109 36h1v1h-1zM4 37h1v1h-1zM9 37h1v1h-1zM21 37h1v1h-1zM35 37h1v1h-1zM59 37h1v1h-1zM66 37h1v1h-1zM69 37h1v1h-1zM75 37h1v1h-1zM83 37h2v1h-2zM89 37h2v1h-2zM95 37h1v1h-1zM22 38h1v1h-1zM24 38h1v1h-1zM27 38h2v1h-2zM37 38h1v1h-1zM49 38h1v1h-1zM59 38h1v1h-1zM70 38h1v1h-1zM77 38h1v1h-1zM83 38h2v1h-2zM13 39h1v1h-1zM27 39h1v1h-1zM31 39h1v1h-1zM36 39h2v1h-2zM71 39h2v1h-2zM98 39h1v1h-1zM102 39h1v1h-1zM115 39h2v1h-2zM12 40h1v1h-1zM17 40h2v1h-2zM30 40h1v1h-1zM35 40h1v1h-1zM42 40h1v1h-1zM48 40h1v1h-1zM58 40h3v1h-3zM65 40h1v1h-1zM103 40h2v1h-2zM113 40h2v1h-2zM3 41h1v1h-1zM19 41h1v1h-1zM21 41h2v1h-2zM37 41h1v1h-1zM39 41h1v1h-1zM50 41h1v1h-1zM56 41h1v1h-1zM58 41h1v1h-1zM105 41h1v1h-1zM8 42h1v1h-1zM14 42h1v1h-1zM19 42h1v1h-1zM23 42h1v1h-1zM26 42h1v1h-1zM29 42h1v1h-1zM37 42h2v1h-2zM55 42h1v1h-1zM60 42h1v1h-1zM105 42h1v1h-1zM9 43h1v1h-1zM16 43h1v1h-1zM18 43h1v1h-1zM21 43h2v1h-2zM32 43h1v1h-1zM35 43h1v1h-1zM39 43h1v1h-1zM55 43h1v1h-1zM59 43h1v1h-1zM82 43h2v1h-2zM88 43h2v1h-2zM108 43h1v1h-1zM110 43h1v1h-1zM23 44h1v1h-1zM32 44h1v1h-1zM35 44h2v1h-2zM43 44h1v1h-1zM48 44h2v1h-2zM56 44h2v1h-2zM61 44h1v1h-1zM70 44h1v1h-1zM75 44h1v1h-1zM77 44h1v1h-1zM1 45h1v1h-1zM8 45h1v1h-1zM11 45h1v1h-1zM17 45h1v1h-1zM20 45h1v1h-1zM23 45h1v1h-1zM29 45h1v1h-1zM33 45h1v1h-1zM58 45h1v1h-1zM61 45h1v1h-1zM83 45h1v1h-1zM86 45h1v1h-1zM88 45h1v1h-1zM96 45h2v1h-2zM111 45h2v1h-2zM1 46h1v1h-1zM4 46h1v1h-1zM7 46h1v1h-1zM20 46h1v1h-1zM48 46h1v1h-1zM71 46h1v1h-1zM75 46h1v1h-1zM82 46h1v1h-1zM86 46h1v1h-1zM89 46h1v1h-1zM101 46h2v1h-2zM111 46h2v1h-2zM116 46h1v1h-1zM2 47h1v1h-1zM6 47h3v1h-3zM15 47h1v1h-1zM31 47h1v1h-1zM36 47h2v1h-2zM42 47h1v1h-1zM72 47h1v1h-1zM87 47h1v1h-1zM90 47h1v1h-1zM93 47h1v1h-1zM101 47h1v1h-1zM109 47h2v1h-2zM113 47h1v1h-1zM3 48h1v1h-1zM8 48h1v1h-1zM11 48h1v1h-1zM25 48h1v1h-1zM41 48h1v1h-1zM43 48h1v1h-1zM60 48h2v1h-2zM70 48h1v1h-1zM77 48h1v1h-1zM82 48h1v1h-1zM93 48h2v1h-2zM109 48h1v1h-1zM113 48h1v1h-1zM116 48h1v1h-1zM5 49h2v1h-2zM8 49h1v1h-1zM11 49h1v1h-1zM21 49h1v1h-1zM40 49h1v1h-1zM42 49h1v1h-1zM56 49h1v1h-1zM60 49h2v1h-2zM109 49h1v1h-1zM114 49h1v1h-1zM6 50h1v1h-1zM10 50h1v1h-1zM18 50h2v1h-2zM30 50h2v1h-2zM42 50h1v1h-1zM44 50h1v1h-1zM49 50h1v1h-1zM53 50h1v1h-1zM88 50h1v1h-1zM96 50h3v1h-3zM101 50h1v1h-1zM109 50h1v1h-1zM112 50h4v1h-4zM0 51h2v1h-2zM5 51h1v1h-1zM9 51h1v1h-1zM19 51h2v1h-2zM29 51h1v1h-1zM43 51h2v1h-2zM64 51h1v1h-1zM105 51h1v1h-1zM111 51h1v1h-1zM12 52h1v1h-1zM18 52h1v1h-1zM30 52h1v1h-1zM46 52h2v1h-2zM56 52h1v1h-1zM62 52h1v1h-1zM77 52h1v1h-1zM93 52h1v1h-1zM112 52h1v1h-1zM15 53h1v1h-1zM18 53h1v1h-1zM37 53h1v1h-1zM42 53h1v1h-1zM48 53h2v1h-2zM57 53h1v1h-1zM76 53h1v1h-1zM78 53h1v1h-1zM86 53h1v1h-1zM92 53h1v1h-1zM95 53h1v1h-1zM101 53h1v1h-1zM108 53h1v1h-1zM32 54h1v1h-1zM37 54h2v1h-2zM40 54h2v1h-2zM45 54h1v1h-1zM57 54h2v1h-2zM71 54h1v1h-1zM78 54h1v1h-1zM84 54h1v1h-1zM87 54h1v1h-1zM100 54h1v1h-1zM108 54h1v1h-1zM112 54h2v1h-2zM28 55h1v1h-1zM38 55h3v1h-3zM61 55h2v1h-2zM76 55h1v1h-1zM85 55h2v1h-2zM100 55h2v1h-2zM104 55h1v1h-1zM4 56h1v1h-1zM6 56h2v1h-2zM13 56h2v1h-2zM48 56h2v1h-2zM90 56h1v1h-1zM98 56h1v1h-1zM104 56h1v1h-1zM109 56h2v1h-2zM12 57h1v1h-1zM45 57h1v1h-1zM47 57h1v1h-1zM77 57h1v1h-1zM81 57h1v1h-1zM91 57h1v1h-1zM100 57h1v1h-1zM102 57h1v1h-1zM109 57h1v1h-1zM3 58h1v1h-1zM17 58h1v1h-1zM23 58h1v1h-1zM47 58h1v1h-1zM60 58h1v1h-1zM70 58h1v1h-1zM92 58h1v1h-1zM94 58h1v1h-1zM110 58h1v1h-1zM4 59h1v1h-1zM6 59h2v1h-2zM10 59h1v1h-1zM37 59h1v1h-1zM47 59h2v1h-2zM57 59h1v1h-1zM96 59h1v1h-1zM7 60h2v1h-2zM13 60h1v1h-1zM16 60h1v1h-1zM38 60h1v1h-1zM45 60h1v1h-1zM50 60h1v1h-1zM74 60h1v1h-1zM79 60h1v1h-1zM97 60h1v1h-1zM7 61h1v1h-1zM25 61h1v1h-1zM30 61h1v1h-1zM43 61h1v1h-1zM53 61h1v1h-1zM77 61h1v1h-1zM83 61h1v1h-1zM85 61h1v1h-1zM93 61h1v1h-1zM112 61h1v1h-1zM9 62h1v1h-1zM22 62h1v1h-1zM41 62h1v1h-1zM46 62h1v1h-1zM51 62h1v1h-1zM88 62h1v1h-1zM106 62h3v1h-3zM7 63h1v1h-1zM9 63h1v1h-1zM15 63h1v1h-1zM28 63h2v1h-2zM45 63h1v1h-1zM80 63h1v1h-1zM82 63h2v1h-2zM115 63h1v1h-1zM10 64h1v1h-1zM13 64h1v1h-1zM18 64h1v1h-1zM28 64h2v1h-2zM49 64h1v1h-1zM58 64h1v1h-1zM68 64h1v1h-1zM83 64h1v1h-1zM87 64h1v1h-1zM97 64h1v1h-1zM99 64h1v1h-1zM0 65h1v1h-1zM4 65h1v1h-1zM10 65h1v1h-1zM19 65h1v1h-1zM22 65h1v1h-1zM24 65h1v1h-1zM30 65h1v1h-1zM45 65h1v1h-1zM58 65h1v1h-1zM83 65h1v1h-1zM92 65h1v1h-1zM99 65h1v1h-1zM7 66h1v1h-1zM14 66h2v1h-2zM17 66h1v1h-1zM22 66h1v1h-1zM31 66h1v1h-1zM39 66h2v1h-2zM42 66h1v1h-1zM70 66h1v1h-1zM77 66h1v1h-1zM83 66h1v1h-1zM106 66h1v1h-1zM108 66h1v1h-1zM6 67h1v1h-1zM38 67h2v1h-2zM64 67h1v1h-1zM74 67h1v1h-1zM81 67h1v1h-1zM83 67h1v1h-1zM106 67h2v1h-2zM7 68h1v1h-1zM17 68h1v1h-1zM30 68h1v1h-1zM42 68h1v1h-1zM51 68h1v1h-1zM63 68h1v1h-1zM83 68h1v1h-1zM87 68h1v1h-1zM110 68h1v1h-1zM5 69h1v1h-1zM29 69h1v1h-1zM59 69h1v1h-1zM65 69h2v1h-2zM83 69h1v1h-1zM4 70h1v1h-1zM58 70h1v1h-1zM70 70h2v1h-2zM78 70h1v1h-1zM108 70h1v1h-1zM110 70h1v1h-1zM30 71h1v1h-1zM34 71h1v1h-1zM39 71h1v1h-1zM48 71h1v1h-1zM60 71h1v1h-1zM72 71h1v1h-1zM80 71h1v1h-1zM94 71h2v1h-2zM109 71h2v1h-2zM5 72h1v1h-1zM15 72h1v1h-1zM17 72h1v1h-1zM33 72h1v1h-1zM38 72h1v1h-1zM63 72h1v1h-1zM65 72h1v1h-1zM73 72h1v1h-1zM80 72h1v1h-1zM89 72h1v1h-1zM94 72h1v1h-1zM96 72h1v1h-1zM114 72h1v1h-1zM33 73h1v1h-1zM37 73h1v1h-1zM39 73h2v1h-2zM59 73h1v1h-1zM61 73h3v1h-3zM65 73h1v1h-1zM81 73h1v1h-1zM107 73h1v1h-1zM36 74h1v1h-1zM70 74h1v1h-1zM73 74h1v1h-1zM76 74h1v1h-1zM87 74h1v1h-1zM103 74h1v1h-1zM110 74h1v1h-1zM114 74h2v1h-2zM16 75h1v1h-1zM50 75h1v1h-1zM70 75h1v1h-1zM80 75h1v1h-1zM89 75h1v1h-1zM104 75h1v1h-1zM10 76h1v1h-1zM12 76h1v1h-1zM29 76h1v1h-1zM36 76h1v1h-1zM40 76h3v1h-3zM46 76h1v1h-1zM53 76h1v1h-1zM81 76h1v1h-1zM97 76h2v1h-2zM16 77h2v1h-2zM25 77h1v1h-1zM37 77h2v1h-2zM42 77h1v1h-1zM50 77h1v1h-1zM52 77h1v1h-1zM60 77h1v1h-1zM65 77h1v1h-1zM86 77h1v1h-1zM94 77h2v1h-2zM10 78h1v1h-1zM19 78h1v1h-1zM30 78h1v1h-1zM34 78h1v1h-1zM55 78h1v1h-1zM58 78h1v1h-1zM65 78h1v1h-1zM72 78h2v1h-2zM76 78h1v1h-1zM87 78h4v1h-4zM104 78h1v1h-1zM9 79h1v1h-1zM15 79h2v1h-2zM19 79h1v1h-1zM28 79h1v1h-1zM32 79h1v1h-1zM44 79h1v1h-1zM70 79h2v1h-2zM74 79h1v1h-1zM91 79h1v1h-1zM95 79h2v1h-2zM98 79h1v1h-1zM102 79h1v1h-1zM107 79h1v1h-1zM109 79h1v1h-1zM8 80h1v1h-1zM32 80h1v1h-1zM34 80h1v1h-1zM46 80h1v1h-1zM53 80h1v1h-1zM67 80h1v1h-1zM71 80h2v1h-2zM81 80h1v1h-1zM92 80h2v1h-2zM102 80h1v1h-1zM104 80h1v1h-1zM4 81h2v1h-2zM9 81h1v1h-1zM17 81h1v1h-1zM30 81h1v1h-1zM32 81h2v1h-2zM46 81h1v1h-1zM57 81h1v1h-1zM60 81h1v1h-1zM74 81h1v1h-1zM89 81h1v1h-1zM93 81h1v1h-1zM102 81h1v1h-1zM116 81h1v1h-1zM0 82h1v1h-1zM4 82h1v1h-1zM16 82h2v1h-2zM31 82h1v1h-1zM36 82h1v1h-1zM50 82h1v1h-1zM59 82h2v1h-2zM89 82h1v1h-1zM104 82h1v1h-1zM116 82h1v1h-1zM31 83h1v1h-1zM68 83h1v1h-1zM106 83h1v1h-1zM115 83h1v1h-1zM30 84h1v1h-1zM33 84h1v1h-1zM43 84h1v1h-1zM51 84h1v1h-1zM75 84h3v1h-3zM102 84h1v1h-1zM115 84h1v1h-1zM20 85h2v1h-2zM30 85h1v1h-1zM68 85h1v1h-1zM79 85h3v1h-3zM89 85h1v1h-1zM29 86h1v1h-1zM31 86h1v1h-1zM54 86h1v1h-1zM59 86h1v1h-1zM85 86h1v1h-1zM104 86h2v1h-2zM107 86h1v1h-1zM31 87h1v1h-1zM42 87h1v1h-1zM47 87h1v1h-1zM53 87h1v1h-1zM59 87h1v1h-1zM64 87h1v1h-1zM68 87h1v1h-1zM71 87h1v1h-1zM74 87h1v1h-1zM96 87h2v1h-2zM106 87h1v1h-1zM31 88h1v1h-1zM33 88h2v1h-2zM43 88h1v1h-1zM64 88h1v1h-1zM67 88h2v1h-2zM78 88h1v1h-1zM80 88h1v1h-1zM88 88h2v1h-2zM97 88h1v1h-1zM33 89h1v1h-1zM52 89h1v1h-1zM61 89h2v1h-2zM73 89h1v1h-1zM77 89h1v1h-1zM79 89h1v1h-1zM88 89h2v1h-2zM109 89h1v1h-1z"/>
<path fill="rgb(112,112,112)" d="M9 0h1v1h-1zM13 0h1v1h-1zM22 0h1v1h-1zM38 0h1v1h-1zM43 0h1v1h-1zM51 0h2v1h-2zM65 0h1v1h-1zM90 0h1v1h-1zM15 1h1v1h-1zM39 1h2v1h-2zM53 1h1v1h-1zM90 1h1v1h-1zM8 2h2v1h-2zM27 2h1v1h-1zM30 2h1v1h-1zM45 2h1v1h-1zM55 2h1v1h-1zM104 2h1v1h-1zM2 3h1v1h-1zM8 3h1v1h-1zM14 3h1v1h-1zM27 3h1v1h-1zM33 3h1v1h-1zM35 3h1v1h-1zM55 3h1v1h-1zM105 3h1v1h-1zM6 4h1v1h-1zM51 4h1v1h-1zM24 5h2v1h-2zM32 5h1v1h-1zM80 5h1v1h-1zM105 5h1v1h-1zM11 6h1v1h-1zM15 6h1v1h-1zM20 6h1v1h-1zM26 6h1v1h-1zM32 6h1v1h-1zM55 6h1v1h-1zM60 6h2v1h-2zM66 6h1v1h-1zM83 6h1v1h-1zM106 6h1v1h-1zM3 7h2v1h-2zM9 7h2v1h-2zM13 7h1v1h-1zM22 7h1v1h-1zM65 7h1v1h-1zM75 7h1v1h-1zM100 7h2v1h-2zM105 7h1v1h-1zM109 7h1v1h-1zM5 8h1v1h-1zM8 8h1v1h-1zM13 8h1v1h-1zM23 8h1v1h-1zM67 8h1v1h-1zM75 8h1v1h-1zM101 8h1v1h-1zM110 8h1v1h-1zM12 9h1v1h-1zM53 9h1v1h-1zM56 9h2v1h-2zM1 10h1v1h-1zM30 10h1v1h-1zM32 10h1v1h-1zM1 11h1v1h-1zM8 12h3v1h-3zM33 12h1v1h-1zM40 12h1v1h-1zM44 12h1v1h-1zM58 12h1v1h-1zM106 12h1v1h-1zM35 13h1v1h-1zM38 13h1v1h-1zM43 13h1v1h-1zM107 13h1v1h-1zM4 14h2v1h-2zM33 14h1v1h-1zM35 14h1v1h-1zM53 14h2v1h-2zM73 14h1v1h-1zM2 15h4v1h-4zM24 15h1v1h-1zM38 15h1v1h-1zM44 15h1v1h-1zM46 15h2v1h-2zM55 15h1v1h-1zM58 15h1v1h-1zM22 16h1v1h-1zM37 16h1v1h-1zM50 16h1v1h-1zM54 16h1v1h-1zM66 16h1v1h-1zM78 16h1v1h-1zM16 17h2v1h-2zM43 17h1v1h-1zM48 17h2v1h-2zM87 17h1v1h-1zM98 17h2v1h-2zM44 18h1v1h-1zM98 18h1v1h-1zM17 19h1v1h-1zM27 19h1v1h-1zM60 19h1v1h-1zM110 19h1v1h-1zM39 20h2v1h-2zM49 20h1v1h-1zM60 20h1v1h-1zM62 20h1v1h-1zM76 20h1v1h-1zM91 20h1v1h-1zM38 21h1v1h-1zM41 21h1v1h-1zM103 21h2v1h-2zM22 22h1v1h-1zM30 22h1v1h-1zM39 22h1v1h-1zM48 22h1v1h-1zM77 22h1v1h-1zM49 23h1v1h-1zM57 23h1v1h-1zM59 23h1v1h-1zM92 23h1v1h-1zM107 23h1v1h-1zM12 24h1v1h-1zM53 24h1v1h-1zM79 24h1v1h-1zM91 24h1v1h-1zM106 24h3v1h-3zM12 25h1v1h-1zM48 25h1v1h-1zM53 25h1v1h-1zM80 25h1v1h-1zM12 26h1v1h-1zM18 26h2v1h-2zM35 26h1v1h-1zM47 26h1v1h-1zM50 26h1v1h-1zM61 26h1v1h-1zM88 26h1v1h-1zM1 27h2v1h-2zM20 27h1v1h-1zM36 27h1v1h-1zM45 27h1v1h-1zM62 27h1v1h-1zM88 27h1v1h-1zM28 28h1v1h-1zM47 28h1v1h-1zM77 28h1v1h-1zM47 29h1v1h-1zM61 29h2v1h-2zM67 29h1v1h-1zM69 29h1v1h-1zM88 29h1v1h-1zM99 29h1v1h-1zM106 29h1v1h-1zM113 29h1v1h-1zM14 30h1v1h-1zM41 30h1v1h-1zM45 30h2v1h-2zM106 30h1v1h-1zM1 31h1v1h-1zM13 31h1v1h-1zM40 31h1v1h-1zM42 31h1v1h-1zM66 31h1v1h-1zM21 32h1v1h-1zM27 32h1v1h-1zM41 32h1v1h-1zM43 32h1v1h-1zM67 32h2v1h-2zM10 33h1v1h-1zM18 33h1v1h-1zM33 33h1v1h-1zM37 33h1v1h-1zM79 33h1v1h-1zM96 33h2v1h-2zM31 34h1v1h-1zM44 34h1v1h-1zM75 34h1v1h-1zM79 34h1v1h-1zM108 34h1v1h-1zM110 34h1v1h-1zM17 35h1v1h-1zM33 35h1v1h-1zM52 35h1v1h-1zM56 35h1v1h-1zM72 35h1v1h-1zM74 35h2v1h-2zM3 36h1v1h-1zM43 36h1v1h-1zM58 36h1v1h-1zM73 36h1v1h-1zM77 36h1v1h-1zM10 37h1v1h-1zM24 37h1v1h-1zM32 37h1v1h-1zM45 37h1v1h-1zM70 37h1v1h-1zM74 37h1v1h-1zM77 37h2v1h-2zM9 38h2v1h-2zM14 38h1v1h-1zM32 38h1v1h-1zM36 38h1v1h-1zM50 38h1v1h-1zM71 38h1v1h-1zM73 38h1v1h-1zM76 38h1v1h-1zM96 38h1v1h-1zM98 38h1v1h-1zM100 38h1v1h-1zM102 38h1v1h-1zM113 38h2v1h-2zM30 39h1v1h-1zM58 39h2v1h-2zM96 39h1v1h-1zM113 39h1v1h-1zM36 40h1v1h-1zM40 40h1v1h-1zM51 40h1v1h-1zM73 40h1v1h-1zM75 40h1v1h-1zM16 41h1v1h-1zM35 41h2v1h-2zM57 41h1v1h-1zM83 41h1v1h-1zM104 41h1v1h-1zM16 42h1v1h-1zM21 42h2v1h-2zM27 42h1v1h-1zM34 42h2v1h-2zM40 42h1v1h-1zM42 42h1v1h-1zM58 42h2v1h-2zM82 42h1v1h-1zM84 42h1v1h-1zM89 42h1v1h-1zM116 42h1v1h-1zM12 43h1v1h-1zM58 43h1v1h-1zM70 43h2v1h-2zM109 43h1v1h-1zM39 44h1v1h-1zM108 44h1v1h-1zM0 45h1v1h-1zM2 45h1v1h-1zM31 45h1v1h-1zM34 45h1v1h-1zM36 45h1v1h-1zM50 45h1v1h-1zM75 45h1v1h-1zM77 45h1v1h-1zM113 45h1v1h-1zM0 46h1v1h-1zM8 46h1v1h-1zM11 46h1v1h-1zM37 46h2v1h-2zM69 46h1v1h-1zM76 46h1v1h-1zM83 46h1v1h-1zM87 46h2v1h-2zM113 46h1v1h-1zM3 47h1v1h-1zM69 47h1v1h-1zM104 47h1v1h-1zM9 48h1v1h-1zM29 48h1v1h-1zM87 48h1v1h-1zM101 48h1v1h-1zM110 48h1v1h-1zM20 49h1v1h-1zM37 49h1v1h-1zM45 49h2v1h-2zM69 49h1v1h-1zM81 49h1v1h-1zM110 49h1v1h-1zM113 49h1v1h-1zM5 50h1v1h-1zM9 50h1v1h-1zM21 50h1v1h-1zM56 50h1v1h-1zM67 50h1v1h-1zM81 50h2v1h-2zM100 50h1v1h-1zM30 51h1v1h-1zM46 51h1v1h-1zM56 51h1v1h-1zM95 51h1v1h-1zM101 51h1v1h-1zM107 51h1v1h-1zM16 52h1v1h-1zM40 52h1v1h-1zM42 52h1v1h-1zM45 52h1v1h-1zM91 52h1v1h-1zM94 52h1v1h-1zM98 52h1v1h-1zM101 52h1v1h-1zM106 52h2v1h-2zM115 52h1v1h-1zM4 53h1v1h-1zM46 53h1v1h-1zM62 53h1v1h-1zM112 53h1v1h-1zM2 54h1v1h-1zM33 54h1v1h-1zM61 54h2v1h-2zM70 54h1v1h-1zM1 55h1v1h-1zM16 55h1v1h-1zM41 55h1v1h-1zM77 55h1v1h-1zM90 55h1v1h-1zM94 55h1v1h-1zM99 55h1v1h-1zM115 55h1v1h-1zM29 56h1v1h-1zM45 56h1v1h-1zM47 56h1v1h-1zM60 56h1v1h-1zM62 56h1v1h-1zM77 56h1v1h-1zM92 56h1v1h-1zM1 57h1v1h-1zM29 57h1v1h-1zM39 57h1v1h-1zM46 57h1v1h-1zM48 57h1v1h-1zM61 57h1v1h-1zM80 57h1v1h-1zM110 57h1v1h-1zM13 58h2v1h-2zM37 58h1v1h-1zM40 58h1v1h-1zM42 58h1v1h-1zM45 58h1v1h-1zM48 58h1v1h-1zM68 58h2v1h-2zM93 58h1v1h-1zM3 59h1v1h-1zM16 59h1v1h-1zM26 59h1v1h-1zM39 59h1v1h-1zM42 59h1v1h-1zM68 59h2v1h-2zM23 60h1v1h-1zM46 60h2v1h-2zM77 60h1v1h-1zM94 60h1v1h-1zM96 60h1v1h-1zM9 61h1v1h-1zM13 61h1v1h-1zM20 61h1v1h-1zM47 61h1v1h-1zM82 61h1v1h-1zM88 61h1v1h-1zM96 61h1v1h-1zM7 62h1v1h-1zM42 62h1v1h-1zM69 62h2v1h-2zM79 62h1v1h-1zM82 62h1v1h-1zM85 62h1v1h-1zM6 63h1v1h-1zM8 63h1v1h-1zM53 63h1v1h-1zM68 63h1v1h-1zM70 63h1v1h-1zM81 63h1v1h-1zM84 63h1v1h-1zM98 63h1v1h-1zM7 64h1v1h-1zM17 64h1v1h-1zM45 64h1v1h-1zM57 64h1v1h-1zM69 64h1v1h-1zM81 64h2v1h-2zM93 64h1v1h-1zM7 65h1v1h-1zM13 65h1v1h-1zM18 65h1v1h-1zM48 65h1v1h-1zM57 65h1v1h-1zM98 65h1v1h-1zM32 66h1v1h-1zM63 66h1v1h-1zM69 66h1v1h-1zM72 66h1v1h-1zM74 66h1v1h-1zM93 66h1v1h-1zM109 66h1v1h-1zM7 67h1v1h-1zM13 67h1v1h-1zM15 67h1v1h-1zM26 67h1v1h-1zM42 67h1v1h-1zM49 67h1v1h-1zM63 67h1v1h-1zM68 67h1v1h-1zM108 67h1v1h-1zM110 67h2v1h-2zM13 68h1v1h-1zM15 68h1v1h-1zM40 68h1v1h-1zM56 68h1v1h-1zM70 68h1v1h-1zM81 68h1v1h-1zM89 68h2v1h-2zM113 68h1v1h-1zM6 69h1v1h-1zM19 69h1v1h-1zM61 69h1v1h-1zM70 69h1v1h-1zM113 69h1v1h-1zM28 70h1v1h-1zM50 70h1v1h-1zM57 70h1v1h-1zM59 70h1v1h-1zM61 70h1v1h-1zM81 70h1v1h-1zM83 70h1v1h-1zM87 70h1v1h-1zM109 70h1v1h-1zM4 71h1v1h-1zM78 71h1v1h-1zM81 71h1v1h-1zM35 72h1v1h-1zM40 72h1v1h-1zM64 72h1v1h-1zM78 72h1v1h-1zM81 72h1v1h-1zM90 72h1v1h-1zM95 72h1v1h-1zM34 73h1v1h-1zM38 73h1v1h-1zM49 73h2v1h-2zM64 73h1v1h-1zM68 73h2v1h-2zM78 73h2v1h-2zM108 73h2v1h-2zM114 73h1v1h-1zM15 74h1v1h-1zM17 74h1v1h-1zM38 74h1v1h-1zM36 75h1v1h-1zM52 75h1v1h-1zM50 76h1v1h-1zM59 76h1v1h-1zM62 76h1v1h-1zM69 76h1v1h-1zM79 76h1v1h-1zM86 76h1v1h-1zM10 77h1v1h-1zM56 77h1v1h-1zM61 77h1v1h-1zM68 77h1v1h-1zM79 77h1v1h-1zM81 77h1v1h-1zM91 77h1v1h-1zM99 77h1v1h-1zM12 78h1v1h-1zM16 78h1v1h-1zM28 78h2v1h-2zM39 78h1v1h-1zM41 78h1v1h-1zM94 78h2v1h-2zM13 79h2v1h-2zM17 79h2v1h-2zM25 79h1v1h-1zM29 79h1v1h-1zM34 79h1v1h-1zM58 79h1v1h-1zM69 79h1v1h-1zM72 79h1v1h-1zM94 79h1v1h-1zM47 80h1v1h-1zM58 80h1v1h-1zM107 80h1v1h-1zM0 81h1v1h-1zM21 81h1v1h-1zM48 81h1v1h-1zM53 81h1v1h-1zM56 81h1v1h-1zM58 81h1v1h-1zM68 81h1v1h-1zM72 81h2v1h-2zM103 81h1v1h-1zM107 81h1v1h-1zM5 82h1v1h-1zM47 82h1v1h-1zM53 82h1v1h-1zM68 82h1v1h-1zM70 82h2v1h-2zM94 82h2v1h-2zM30 83h1v1h-1zM34 83h1v1h-1zM69 83h3v1h-3zM75 83h1v1h-1zM79 83h2v1h-2zM45 84h1v1h-1zM47 84h1v1h-1zM78 84h3v1h-3zM90 84h1v1h-1zM103 84h1v1h-1zM107 84h1v1h-1zM35 85h1v1h-1zM42 85h1v1h-1zM83 85h1v1h-1zM105 85h1v1h-1zM30 86h1v1h-1zM56 86h1v1h-1zM68 86h1v1h-1zM74 86h1v1h-1zM89 86h3v1h-3zM0 87h1v1h-1zM32 87h1v1h-1zM61 87h1v1h-1zM77 87h1v1h-1zM85 87h2v1h-2zM89 87h1v1h-1zM100 87h1v1h-1zM18 88h1v1h-1zM37 88h1v1h-1zM52 88h1v1h-1zM95 88h1v1h-1zM102 88h1v1h-1zM107 88h1v1h-1zM7 89h1v1h-1zM18 89h2v1h-2zM29 89h1v1h-1zM35 89h2v1h-2zM38 89h1v1h-1zM78 89h1v1h-1zM95 89h1v1h-1zM97 89h1v1h-1zM100 89h1v1h-1zM102 89h1v1h-1zM107 89h2v1h-2z"/>
<path fill="rgb(130,130,130)" d="M14 0h1v1h-1zM116 0h1v1h-1zM13 1h1v1h-1zM43 1h1v1h-1zM44 2h1v1h-1zM4 3h1v1h-1zM6 3h1v1h-1zM25 3h1v1h-1zM52 3h1v1h-1zM4 4h1v1h-1zM30 4h1v1h-1zM33 4h1v1h-1zM35 4h1v1h-1zM53 4h1v1h-1zM14 5h1v1h-1zM31 5h1v1h-1zM51 5h1v1h-1zM53 5h1v1h-1zM31 6h1v1h-1zM36 6h2v1h-2zM51 6h1v1h-1zM105 6h1v1h-1zM110 6h1v1h-1zM30 7h1v1h-1zM55 7h1v1h-1zM66 7h1v1h-1zM25 8h1v1h-1zM47 8h1v1h-1zM50 8h1v1h-1zM55 8h2v1h-2zM66 8h1v1h-1zM73 8h1v1h-1zM4 9h1v1h-1zM0 10h1v1h-1zM19 10h2v1h-2zM49 10h1v1h-1zM11 11h2v1h-2zM34 12h1v1h-1zM5 13h1v1h-1zM31 13h1v1h-1zM33 13h2v1h-2zM46 13h1v1h-1zM73 13h1v1h-1zM106 13h1v1h-1zM27 14h1v1h-1zM31 14h2v1h-2zM38 14h1v1h-1zM41 14h1v1h-1zM43 14h1v1h-1zM46 14h1v1h-1zM72 14h1v1h-1zM23 15h1v1h-1zM27 15h1v1h-1zM30 15h1v1h-1zM43 15h1v1h-1zM45 15h1v1h-1zM53 15h1v1h-1zM21 16h1v1h-1zM41 16h1v1h-1zM43 16h1v1h-1zM46 16h1v1h-1zM67 16h1v1h-1zM81 17h1v1h-1zM2 18h1v1h-1zM45 18h1v1h-1zM81 18h1v1h-1zM16 19h1v1h-1zM26 19h1v1h-1zM62 19h1v1h-1zM90 19h1v1h-1zM25 20h1v1h-1zM27 20h1v1h-1zM61 20h1v1h-1zM74 20h1v1h-1zM113 20h2v1h-2zM22 21h1v1h-1zM48 21h1v1h-1zM50 21h1v1h-1zM74 21h1v1h-1zM77 21h1v1h-1zM79 21h1v1h-1zM23 22h1v1h-1zM32 22h1v1h-1zM50 22h1v1h-1zM76 22h1v1h-1zM12 23h2v1h-2zM58 23h1v1h-1zM90 23h1v1h-1zM11 24h1v1h-1zM49 24h1v1h-1zM80 24h1v1h-1zM90 24h1v1h-1zM49 25h1v1h-1zM52 26h1v1h-1zM62 26h1v1h-1zM66 26h1v1h-1zM89 26h1v1h-1zM104 26h1v1h-1zM10 27h2v1h-2zM19 27h1v1h-1zM46 27h1v1h-1zM89 27h1v1h-1zM65 28h1v1h-1zM71 28h1v1h-1zM27 29h1v1h-1zM13 30h1v1h-1zM68 30h1v1h-1zM87 30h2v1h-2zM27 31h1v1h-1zM61 31h2v1h-2zM16 32h2v1h-2zM30 32h1v1h-1zM44 32h1v1h-1zM9 33h1v1h-1zM43 33h1v1h-1zM22 35h2v1h-2zM51 35h1v1h-1zM57 35h1v1h-1zM109 35h1v1h-1zM4 36h1v1h-1zM31 36h1v1h-1zM47 36h1v1h-1zM51 36h2v1h-2zM69 36h1v1h-1zM22 37h2v1h-2zM25 37h2v1h-2zM29 37h1v1h-1zM36 37h1v1h-1zM46 37h2v1h-2zM58 37h1v1h-1zM67 37h1v1h-1zM73 37h1v1h-1zM16 38h1v1h-1zM26 38h1v1h-1zM29 38h1v1h-1zM42 38h1v1h-1zM72 38h1v1h-1zM75 38h1v1h-1zM97 38h1v1h-1zM29 39h1v1h-1zM51 39h1v1h-1zM73 39h1v1h-1zM75 39h1v1h-1zM97 39h1v1h-1zM101 39h1v1h-1zM114 39h1v1h-1zM13 40h2v1h-2zM16 40h1v1h-1zM27 40h1v1h-1zM2 41h1v1h-1zM12 41h1v1h-1zM14 41h1v1h-1zM27 41h1v1h-1zM59 41h2v1h-2zM28 42h1v1h-1zM88 42h1v1h-1zM17 43h1v1h-1zM37 43h1v1h-1zM9 44h2v1h-2zM59 44h1v1h-1zM76 44h1v1h-1zM81 44h2v1h-2zM110 44h1v1h-1zM3 45h1v1h-1zM39 45h1v1h-1zM48 45h1v1h-1zM59 45h1v1h-1zM81 45h1v1h-1zM87 45h1v1h-1zM108 45h1v1h-1zM2 46h1v1h-1zM31 46h1v1h-1zM49 46h2v1h-2zM70 46h1v1h-1zM104 46h2v1h-2zM110 46h1v1h-1zM9 47h2v1h-2zM71 47h1v1h-1zM105 47h1v1h-1zM116 47h1v1h-1zM10 48h1v1h-1zM36 48h2v1h-2zM42 48h1v1h-1zM64 48h1v1h-1zM66 48h1v1h-1zM90 48h1v1h-1zM9 49h2v1h-2zM26 49h1v1h-1zM36 49h1v1h-1zM54 49h1v1h-1zM67 49h1v1h-1zM82 49h1v1h-1zM90 49h1v1h-1zM16 50h1v1h-1zM20 50h1v1h-1zM46 50h1v1h-1zM90 50h1v1h-1zM99 50h1v1h-1zM110 50h1v1h-1zM16 51h1v1h-1zM18 51h1v1h-1zM65 51h1v1h-1zM98 51h1v1h-1zM106 51h1v1h-1zM32 52h1v1h-1zM99 52h1v1h-1zM3 53h1v1h-1zM16 53h1v1h-1zM40 53h1v1h-1zM91 53h1v1h-1zM115 53h1v1h-1zM47 54h1v1h-1zM77 54h1v1h-1zM85 54h2v1h-2zM90 54h1v1h-1zM92 54h1v1h-1zM4 55h1v1h-1zM17 55h1v1h-1zM45 55h1v1h-1zM71 55h1v1h-1zM92 55h2v1h-2zM102 55h2v1h-2zM116 55h1v1h-1zM3 56h1v1h-1zM28 56h1v1h-1zM40 56h1v1h-1zM100 56h1v1h-1zM28 57h1v1h-1zM38 57h1v1h-1zM40 57h1v1h-1zM71 57h1v1h-1zM75 57h2v1h-2zM99 57h1v1h-1zM103 57h1v1h-1zM25 58h1v1h-1zM39 58h1v1h-1zM41 58h1v1h-1zM46 58h1v1h-1zM58 58h1v1h-1zM23 59h1v1h-1zM41 59h1v1h-1zM45 59h1v1h-1zM75 59h2v1h-2zM94 59h1v1h-1zM17 60h1v1h-1zM41 60h1v1h-1zM48 60h2v1h-2zM80 60h2v1h-2zM92 60h1v1h-1zM75 61h2v1h-2zM79 61h1v1h-1zM20 62h1v1h-1zM83 62h1v1h-1zM5 63h1v1h-1zM46 63h1v1h-1zM49 63h1v1h-1zM52 63h1v1h-1zM4 64h1v1h-1zM95 64h1v1h-1zM98 64h1v1h-1zM5 65h2v1h-2zM16 65h2v1h-2zM31 65h2v1h-2zM37 65h2v1h-2zM81 65h1v1h-1zM41 66h1v1h-1zM46 66h2v1h-2zM81 66h1v1h-1zM94 66h2v1h-2zM14 67h1v1h-1zM50 67h1v1h-1zM70 67h1v1h-1zM72 67h1v1h-1zM82 67h1v1h-1zM89 67h2v1h-2zM109 67h1v1h-1zM14 68h1v1h-1zM18 68h1v1h-1zM41 68h1v1h-1zM57 68h1v1h-1zM68 68h1v1h-1zM85 68h1v1h-1zM17 69h1v1h-1zM49 69h2v1h-2zM56 69h1v1h-1zM58 69h1v1h-1zM60 69h1v1h-1zM69 69h1v1h-1zM81 69h1v1h-1zM111 69h1v1h-1zM18 70h1v1h-1zM29 70h1v1h-1zM49 70h1v1h-1zM85 70h1v1h-1zM79 71h1v1h-1zM83 71h1v1h-1zM29 72h1v1h-1zM34 72h1v1h-1zM79 72h1v1h-1zM15 73h1v1h-1zM17 73h1v1h-1zM60 73h1v1h-1zM82 73h2v1h-2zM89 73h1v1h-1zM62 74h1v1h-1zM89 74h1v1h-1zM105 74h3v1h-3zM51 75h1v1h-1zM59 75h1v1h-1zM62 75h1v1h-1zM87 75h1v1h-1zM106 75h2v1h-2zM109 75h1v1h-1zM11 76h1v1h-1zM38 76h1v1h-1zM66 76h1v1h-1zM68 76h1v1h-1zM12 77h1v1h-1zM26 77h2v1h-2zM39 77h1v1h-1zM51 77h1v1h-1zM57 77h1v1h-1zM89 77h1v1h-1zM92 77h2v1h-2zM96 77h1v1h-1zM11 78h1v1h-1zM13 78h1v1h-1zM15 78h1v1h-1zM17 78h2v1h-2zM25 78h1v1h-1zM91 78h1v1h-1zM96 78h1v1h-1zM98 78h2v1h-2zM26 79h2v1h-2zM55 79h1v1h-1zM68 79h1v1h-1zM73 79h1v1h-1zM93 79h1v1h-1zM97 79h1v1h-1zM100 79h1v1h-1zM9 80h1v1h-1zM33 80h1v1h-1zM54 80h1v1h-1zM68 80h1v1h-1zM73 80h1v1h-1zM94 80h2v1h-2zM103 80h1v1h-1zM47 81h1v1h-1zM59 81h1v1h-1zM71 81h1v1h-1zM109 81h1v1h-1zM30 82h1v1h-1zM55 82h1v1h-1zM69 82h1v1h-1zM74 82h1v1h-1zM52 83h2v1h-2zM78 83h1v1h-1zM83 83h1v1h-1zM69 84h1v1h-1zM44 85h1v1h-1zM73 85h2v1h-2zM78 85h1v1h-1zM107 85h1v1h-1zM32 86h1v1h-1zM55 86h1v1h-1zM60 86h2v1h-2zM80 86h1v1h-1zM102 86h1v1h-1zM29 87h1v1h-1zM34 87h1v1h-1zM50 87h1v1h-1zM52 87h1v1h-1zM56 87h1v1h-1zM60 87h1v1h-1zM69 87h2v1h-2zM75 87h1v1h-1zM78 87h1v1h-1zM101 87h1v1h-1zM0 88h1v1h-1zM19 88h1v1h-1zM29 88h1v1h-1zM96 88h1v1h-1zM108 88h1v1h-1zM30 89h1v1h-1zM34 89h1v1h-1zM46 89h1v1h-1zM67 89h2v1h-2zM96 89h1v1h-1z"/>
<path fill="rgb(150,150,150)" d="M40 0h1v1h-1zM45 0h1v1h-1zM0 1h1v1h-1zM14 1h1v1h-1zM26 1h1v1h-1zM2 2h1v1h-1zM25 2h1v1h-1zM31 2h1v1h-1zM51 2h1v1h-1zM16 3h1v1h-1zM32 3h1v1h-1zM34 3h1v1h-1zM104 3h1v1h-1zM5 4h1v1h-1zM14 4h1v1h-1zM32 4h1v1h-1zM34 4h1v1h-1zM12 6h1v1h-1zM23 6h1v1h-1zM25 6h1v1h-1zM52 6h1v1h-1zM32 7h1v1h-1zM73 7h2v1h-2zM110 7h1v1h-1zM3 8h2v1h-2zM11 8h1v1h-1zM24 8h1v1h-1zM48 8h1v1h-1zM52 8h1v1h-1zM74 8h1v1h-1zM3 9h1v1h-1zM49 9h2v1h-2zM31 10h1v1h-1zM47 10h1v1h-1zM58 10h1v1h-1zM0 11h1v1h-1zM19 11h2v1h-2zM48 11h1v1h-1zM56 12h1v1h-1zM11 13h2v1h-2zM28 13h1v1h-1zM32 13h1v1h-1zM36 13h1v1h-1zM72 13h1v1h-1zM42 14h1v1h-1zM36 15h1v1h-1zM41 15h1v1h-1zM54 15h1v1h-1zM44 16h1v1h-1zM47 16h1v1h-1zM46 17h1v1h-1zM82 17h1v1h-1zM3 18h1v1h-1zM16 18h2v1h-2zM82 18h1v1h-1zM61 19h1v1h-1zM91 19h1v1h-1zM23 20h1v1h-1zM26 20h1v1h-1zM75 20h1v1h-1zM39 21h2v1h-2zM76 21h1v1h-1zM78 21h1v1h-1zM113 21h1v1h-1zM31 22h1v1h-1zM49 22h1v1h-1zM75 22h1v1h-1zM30 23h1v1h-1zM50 23h2v1h-2zM91 23h1v1h-1zM32 24h1v1h-1zM52 24h1v1h-1zM10 25h1v1h-1zM36 25h1v1h-1zM38 25h1v1h-1zM36 26h1v1h-1zM51 26h1v1h-1zM35 27h1v1h-1zM34 28h2v1h-2zM45 28h1v1h-1zM66 28h1v1h-1zM70 28h1v1h-1zM45 29h1v1h-1zM70 29h2v1h-2zM1 30h1v1h-1zM27 30h1v1h-1zM41 31h1v1h-1zM68 31h1v1h-1zM28 33h1v1h-1zM44 33h1v1h-1zM16 34h1v1h-1zM33 34h1v1h-1zM109 34h1v1h-1zM4 35h1v1h-1zM28 35h1v1h-1zM23 36h1v1h-1zM29 36h2v1h-2zM46 36h1v1h-1zM67 36h1v1h-1zM71 36h1v1h-1zM68 37h1v1h-1zM71 37h1v1h-1zM25 38h1v1h-1zM43 38h2v1h-2zM58 38h1v1h-1zM74 38h1v1h-1zM101 38h1v1h-1zM28 39h1v1h-1zM49 39h1v1h-1zM15 40h1v1h-1zM41 40h1v1h-1zM49 40h2v1h-2zM74 40h1v1h-1zM17 41h2v1h-2zM40 41h1v1h-1zM42 41h1v1h-1zM12 42h1v1h-1zM56 42h2v1h-2zM83 42h1v1h-1zM13 43h1v1h-1zM33 43h1v1h-1zM38 43h1v1h-1zM56 43h2v1h-2zM34 44h1v1h-1zM49 45h1v1h-1zM60 45h1v1h-1zM76 45h1v1h-1zM82 45h1v1h-1zM110 45h1v1h-1zM3 46h1v1h-1zM109 46h1v1h-1zM70 47h1v1h-1zM88 47h2v1h-2zM26 48h1v1h-1zM30 48h1v1h-1zM55 49h1v1h-1zM68 49h1v1h-1zM17 50h1v1h-1zM45 50h1v1h-1zM66 50h1v1h-1zM68 50h1v1h-1zM89 50h1v1h-1zM45 51h1v1h-1zM49 51h1v1h-1zM54 51h2v1h-2zM89 51h2v1h-2zM99 51h1v1h-1zM17 52h1v1h-1zM33 52h1v1h-1zM95 52h1v1h-1zM100 52h1v1h-1zM116 52h1v1h-1zM17 53h1v1h-1zM32 53h1v1h-1zM77 53h1v1h-1zM89 53h1v1h-1zM93 53h2v1h-2zM4 54h1v1h-1zM16 54h1v1h-1zM91 54h1v1h-1zM93 54h2v1h-2zM115 54h1v1h-1zM2 55h1v1h-1zM47 55h1v1h-1zM1 56h2v1h-2zM42 56h1v1h-1zM46 56h1v1h-1zM61 56h1v1h-1zM71 56h1v1h-1zM91 56h1v1h-1zM102 56h1v1h-1zM6 57h2v1h-2zM13 57h2v1h-2zM50 57h1v1h-1zM70 57h1v1h-1zM6 58h2v1h-2zM24 58h1v1h-1zM59 58h1v1h-1zM17 59h1v1h-1zM38 59h1v1h-1zM46 59h1v1h-1zM49 59h2v1h-2zM58 59h2v1h-2zM24 60h2v1h-2zM42 60h1v1h-1zM21 61h1v1h-1zM41 61h2v1h-2zM0 62h1v1h-1zM21 62h1v1h-1zM47 62h1v1h-1zM49 62h1v1h-1zM53 62h1v1h-1zM80 62h2v1h-2zM69 63h1v1h-1zM0 64h1v1h-1zM14 64h1v1h-1zM16 64h1v1h-1zM48 64h1v1h-1zM94 64h1v1h-1zM14 65h1v1h-1zM37 66h1v1h-1zM73 66h1v1h-1zM112 67h1v1h-1zM82 68h1v1h-1zM87 69h1v1h-1zM6 70h1v1h-1zM60 70h1v1h-1zM86 70h1v1h-1zM6 71h1v1h-1zM16 72h1v1h-1zM28 72h1v1h-1zM39 72h1v1h-1zM83 72h1v1h-1zM74 73h2v1h-2zM16 74h1v1h-1zM37 74h1v1h-1zM59 74h1v1h-1zM74 74h2v1h-2zM38 75h1v1h-1zM88 75h1v1h-1zM105 75h1v1h-1zM108 75h1v1h-1zM52 76h1v1h-1zM60 76h1v1h-1zM67 76h1v1h-1zM80 76h1v1h-1zM89 76h1v1h-1zM40 77h2v1h-2zM80 77h1v1h-1zM98 77h1v1h-1zM101 77h1v1h-1zM14 78h1v1h-1zM27 78h1v1h-1zM33 78h1v1h-1zM40 78h1v1h-1zM68 78h1v1h-1zM97 78h1v1h-1zM33 79h1v1h-1zM66 79h1v1h-1zM92 79h1v1h-1zM101 79h1v1h-1zM108 79h1v1h-1zM55 80h1v1h-1zM70 80h1v1h-1zM109 80h1v1h-1zM72 82h1v1h-1zM36 83h1v1h-1zM81 83h1v1h-1zM34 84h1v1h-1zM36 84h1v1h-1zM46 84h1v1h-1zM53 84h1v1h-1zM70 84h2v1h-2zM74 84h1v1h-1zM81 84h1v1h-1zM47 85h1v1h-1zM51 85h1v1h-1zM72 85h1v1h-1zM77 85h1v1h-1zM82 85h1v1h-1zM90 85h2v1h-2zM102 85h1v1h-1zM42 86h1v1h-1zM44 86h1v1h-1zM47 86h1v1h-1zM53 86h1v1h-1zM71 86h1v1h-1zM78 86h1v1h-1zM103 86h1v1h-1zM106 86h1v1h-1zM30 87h1v1h-1zM43 87h3v1h-3zM55 87h1v1h-1zM76 87h1v1h-1zM80 87h1v1h-1zM44 88h1v1h-1zM46 88h1v1h-1zM79 88h1v1h-1zM100 88h1v1h-1zM8 89h1v1h-1zM37 89h1v1h-1zM44 89h1v1h-1zM50 89h1v1h-1z"/>
<path fill="rgb(172,172,172)" d="M1 1h1v1h-1zM45 1h1v1h-1zM52 2h1v1h-1zM0 3h1v1h-1zM15 3h1v1h-1zM26 3h1v1h-1zM30 3h1v1h-1zM31 4h1v1h-1zM52 4h1v1h-1zM61 4h1v1h-1zM16 5h1v1h-1zM61 5h2v1h-2zM11 7h1v1h-1zM18 7h1v1h-1zM23 7h1v1h-1zM36 7h2v1h-2zM18 8h1v1h-1zM30 9h1v1h-1zM32 9h1v1h-1zM47 9h1v1h-1zM52 9h1v1h-1zM56 10h1v1h-1zM58 11h1v1h-1zM11 12h1v1h-1zM57 12h1v1h-1zM29 13h2v1h-2zM37 13h1v1h-1zM44 13h1v1h-1zM28 15h2v1h-2zM49 15h1v1h-1zM2 16h2v1h-2zM42 16h1v1h-1zM45 16h1v1h-1zM23 21h1v1h-1zM49 21h1v1h-1zM114 21h1v1h-1zM31 24h1v1h-1zM11 25h1v1h-1zM50 25h1v1h-1zM52 25h1v1h-1zM38 26h1v1h-1zM34 27h1v1h-1zM65 27h2v1h-2zM29 29h1v1h-1zM46 29h1v1h-1zM61 30h2v1h-2zM67 30h1v1h-1zM29 31h1v1h-1zM67 31h1v1h-1zM28 32h2v1h-2zM16 33h1v1h-1zM28 34h1v1h-1zM9 35h2v1h-2zM30 35h1v1h-1zM22 36h1v1h-1zM68 36h1v1h-1zM72 36h1v1h-1zM42 37h1v1h-1zM44 37h1v1h-1zM72 37h1v1h-1zM50 39h1v1h-1zM74 39h1v1h-1zM29 40h1v1h-1zM29 41h1v1h-1zM17 42h2v1h-2zM34 43h1v1h-1zM33 44h1v1h-1zM60 44h1v1h-1zM109 44h1v1h-1zM9 45h2v1h-2zM30 45h1v1h-1zM9 46h2v1h-2zM29 46h1v1h-1zM29 47h1v1h-1zM65 48h1v1h-1zM66 49h1v1h-1zM88 49h1v1h-1zM64 50h1v1h-1zM17 51h1v1h-1zM48 51h1v1h-1zM97 51h1v1h-1zM41 52h1v1h-1zM48 52h2v1h-2zM89 52h1v1h-1zM97 52h1v1h-1zM33 53h1v1h-1zM41 53h1v1h-1zM90 53h1v1h-1zM3 54h1v1h-1zM17 54h1v1h-1zM46 54h1v1h-1zM3 55h1v1h-1zM70 55h1v1h-1zM91 55h1v1h-1zM70 56h1v1h-1zM75 56h2v1h-2zM99 56h1v1h-1zM103 56h1v1h-1zM0 57h1v1h-1zM42 57h1v1h-1zM49 57h1v1h-1zM38 58h1v1h-1zM50 58h1v1h-1zM25 59h1v1h-1zM92 59h1v1h-1zM75 60h1v1h-1zM93 60h1v1h-1zM8 61h1v1h-1zM49 61h1v1h-1zM80 61h2v1h-2zM84 61h1v1h-1zM8 62h1v1h-1zM52 62h1v1h-1zM0 63h1v1h-1zM6 64h1v1h-1zM15 64h1v1h-1zM15 65h1v1h-1zM82 65h1v1h-1zM93 65h1v1h-1zM95 65h1v1h-1zM38 66h1v1h-1zM82 66h1v1h-1zM40 67h1v1h-1zM69 67h1v1h-1zM73 67h1v1h-1zM49 68h1v1h-1zM69 68h1v1h-1zM86 68h1v1h-1zM57 69h1v1h-1zM85 69h1v1h-1zM5 70h1v1h-1zM82 70h1v1h-1zM5 71h1v1h-1zM28 71h2v1h-2zM50 71h1v1h-1zM82 71h1v1h-1zM49 72h2v1h-2zM82 72h1v1h-1zM91 73h1v1h-1zM90 74h2v1h-2zM108 74h2v1h-2zM68 75h1v1h-1zM37 76h1v1h-1zM61 76h1v1h-1zM87 76h1v1h-1zM11 77h1v1h-1zM87 77h1v1h-1zM100 77h1v1h-1zM26 78h1v1h-1zM57 78h1v1h-1zM93 78h1v1h-1zM67 79h1v1h-1zM69 80h1v1h-1zM55 81h1v1h-1zM69 81h2v1h-2zM94 81h2v1h-2zM108 81h1v1h-1zM54 82h1v1h-1zM73 82h1v1h-1zM35 83h1v1h-1zM72 83h1v1h-1zM74 83h1v1h-1zM82 83h1v1h-1zM35 84h1v1h-1zM83 84h1v1h-1zM106 84h1v1h-1zM33 85h2v1h-2zM43 85h1v1h-1zM45 85h1v1h-1zM53 85h1v1h-1zM75 85h1v1h-1zM103 85h1v1h-1zM34 86h1v1h-1zM43 86h1v1h-1zM45 86h1v1h-1zM51 86h1v1h-1zM79 86h1v1h-1zM33 87h1v1h-1zM46 87h1v1h-1zM51 87h1v1h-1zM30 88h1v1h-1zM45 88h1v1h-1zM51 89h1v1h-1zM101 89h1v1h-1z"/>
<path fill="rgb(196,196,196)" d="M39 0h1v1h-1zM44 0h1v1h-1zM51 1h2v1h-2zM26 2h1v1h-1zM1 3h1v1h-1zM5 3h1v1h-1zM62 4h1v1h-1zM15 5h1v1h-1zM52 5h1v1h-1zM24 6h1v1h-1zM17 7h1v1h-1zM25 7h1v1h-1zM31 7h1v1h-1zM12 8h1v1h-1zM17 8h1v1h-1zM30 8h1v1h-1zM32 8h1v1h-1zM51 8h1v1h-1zM51 9h1v1h-1zM57 10h1v1h-1zM56 11h1v1h-1zM45 13h1v1h-1zM28 14h1v1h-1zM30 14h1v1h-1zM36 14h1v1h-1zM44 14h2v1h-2zM37 15h1v1h-1zM42 15h1v1h-1zM48 15h1v1h-1zM3 17h1v1h-1zM44 17h1v1h-1zM75 21h1v1h-1zM50 24h1v1h-1zM37 25h1v1h-1zM51 25h1v1h-1zM10 26h2v1h-2zM46 28h1v1h-1zM29 30h1v1h-1zM28 31h1v1h-1zM17 33h1v1h-1zM30 33h1v1h-1zM17 34h1v1h-1zM30 34h1v1h-1zM15 38h1v1h-1zM30 38h1v1h-1zM14 39h1v1h-1zM16 39h1v1h-1zM13 41h1v1h-1zM41 42h1v1h-1zM37 44h1v1h-1zM37 45h2v1h-2zM109 45h1v1h-1zM64 49h1v1h-1zM89 49h1v1h-1zM54 50h2v1h-2zM96 51h1v1h-1zM100 51h1v1h-1zM90 52h1v1h-1zM96 52h1v1h-1zM46 55h1v1h-1zM0 56h1v1h-1zM41 56h1v1h-1zM41 57h1v1h-1zM49 58h1v1h-1zM24 59h1v1h-1zM76 60h1v1h-1zM48 61h1v1h-1zM84 62h1v1h-1zM47 63h2v1h-2zM5 64h1v1h-1zM46 64h1v1h-1zM46 65h2v1h-2zM41 67h1v1h-1zM50 68h1v1h-1zM111 68h1v1h-1zM18 69h1v1h-1zM82 69h1v1h-1zM112 69h1v1h-1zM49 71h1v1h-1zM16 73h1v1h-1zM60 74h2v1h-2zM68 74h1v1h-1zM60 75h1v1h-1zM51 76h1v1h-1zM88 76h1v1h-1zM88 77h1v1h-1zM97 77h1v1h-1zM56 78h1v1h-1zM92 78h1v1h-1zM101 78h1v1h-1zM57 80h1v1h-1zM108 80h1v1h-1zM54 81h1v1h-1zM52 84h1v1h-1zM72 84h2v1h-2zM46 85h1v1h-1zM69 85h1v1h-1zM71 85h1v1h-1zM76 85h1v1h-1zM106 85h1v1h-1zM33 86h1v1h-1zM46 86h1v1h-1zM69 86h1v1h-1zM77 86h1v1h-1zM50 88h2v1h-2zM45 89h1v1h-1z"/>
<path fill="rgb(222,222,222)" d="M44 1h1v1h-1zM0 2h1v1h-1zM31 3h1v1h-1zM16 4h1v1h-1zM12 7h1v1h-1zM24 7h1v1h-1zM48 10h1v1h-1zM12 12h1v1h-1zM49 16h1v1h-1zM2 17h1v1h-1zM32 23h1v1h-1zM51 24h1v1h-1zM37 26h1v1h-1zM28 29h1v1h-1zM9 34h2v1h-2zM29 35h1v1h-1zM30 37h2v1h-2zM43 37h1v1h-1zM31 38h1v1h-1zM28 40h1v1h-1zM28 41h1v1h-1zM41 41h1v1h-1zM13 42h1v1h-1zM38 44h1v1h-1zM30 47h1v1h-1zM88 48h2v1h-2zM65 50h1v1h-1zM116 53h1v1h-1zM116 54h1v1h-1zM93 59h1v1h-1zM48 62h1v1h-1zM47 64h1v1h-1zM94 65h1v1h-1zM86 69h1v1h-1zM90 73h1v1h-1zM37 75h1v1h-1zM61 75h1v1h-1zM69 75h1v1h-1zM66 77h1v1h-1zM66 78h1v1h-1zM57 79h1v1h-1zM56 80h1v1h-1zM73 83h1v1h-1zM82 84h1v1h-1zM70 85h1v1h-1zM52 86h1v1h-1zM70 86h1v1h-1zM75 86h1v1h-1zM79 87h1v1h-1zM101 88h1v1h-1z"/>
<path fill="rgb(250,250,250)" d="M1 2h1v1h-1zM15 4h1v1h-1zM31 8h1v1h-1zM31 9h1v1h-1zM48 9h1v1h-1zM57 11h1v1h-1zM29 14h1v1h-1zM37 14h1v1h-1zM48 16h1v1h-1zM45 17h1v1h-1zM31 23h1v1h-1zM28 30h1v1h-1zM29 33h1v1h-1zM29 34h1v1h-1zM15 39h1v1h-1zM30 46h1v1h-1zM65 49h1v1h-1zM112 68h1v1h-1zM69 74h1v1h-1zM67 77h1v1h-1zM67 78h1v1h-1zM100 78h1v1h-1zM56 79h1v1h-1zM52 85h1v1h-1zM76 86h1v1h-1z"/>
</g></g>
<rect x="71" y="389" width="876" height="8" fill="#5a1e14" opacity="0.33"/>
<rect x="71" y="398" width="876" height="3.4" fill="#007474" opacity="0.55"/>
<rect x="71" y="402" width="876" height="2.7" fill="#46200c" opacity="0.5"/>
<rect x="437" y="32" width="5.6" height="672" fill="#2c1c66" opacity="0.8"/>
<rect x="447" y="32" width="3.8" height="672" fill="#000"/>
<rect x="442.8" y="32" width="4" height="672" fill="#b8b840"/>
<rect x="71" y="377.5" width="876" height="3.4" fill="#1c1c70" opacity="0.62"/>
<rect x="71" y="386" width="876" height="2.7" fill="#000"/>
<rect x="71" y="381.3" width="876" height="4.7" fill="#cccc10"/>
<rect x="442.8" y="381.3" width="4" height="4.7" fill="#e8e800"/>
<rect x="267" y="344.5" width="235" height="156.5" fill="none" stroke="#ffb400" stroke-width="4.4" stroke-dasharray="8 4"/>
<path d="M502 352V500" stroke="#ffbc00" stroke-width="6.2" stroke-dasharray="11 2" fill="none"/>
<path d="M85.97 705v6M100.95 705v6M115.92 705v6M130.9 705v6M160.85 705v6M175.82 705v6M190.79 705v6M205.77 705v6M235.72 705v6M250.69 705v6M265.67 705v6M280.64 705v6M310.59 705v6M325.56 705v6M340.54 705v6M355.51 705v6M385.46 705v6M400.44 705v6M415.41 705v6M430.38 705v6M460.33 705v6M475.31 705v6M490.28 705v6M505.26 705v6M535.21 705v6M550.18 705v6M565.15 705v6M580.13 705v6M610.08 705v6M625.05 705v6M640.03 705v6M655 705v6M684.95 705v6M699.92 705v6M714.9 705v6M729.87 705v6M759.82 705v6M774.79 705v6M789.77 705v6M804.74 705v6M834.69 705v6M849.67 705v6M864.64 705v6M879.62 705v6M909.56 705v6M924.54 705v6M939.51 705v6" stroke="#c4c4c4" stroke-width="1.8" fill="none"/>
<path d="M71 705v11M145.87 705v11M220.74 705v11M295.62 705v11M370.49 705v11M445.36 705v11M520.23 705v11M595.1 705v11M669.97 705v11M744.85 705v11M819.72 705v11M894.59 705v11" stroke="#b4b4b4" stroke-width="2" fill="none"/>
<path d="M70.5 39.47h-4M70.5 54.4h-4M70.5 69.33h-4M70.5 84.27h-4M70.5 99.2h-4M70.5 114.13h-4M70.5 129.07h-4M70.5 144h-4M70.5 158.93h-4M70.5 173.87h-4M70.5 188.8h-4M70.5 203.73h-4M70.5 218.67h-4M70.5 233.6h-4M70.5 248.53h-4M70.5 263.47h-4M70.5 278.4h-4M70.5 293.33h-4M70.5 308.27h-4M70.5 323.2h-4M70.5 338.13h-4M70.5 353.07h-4M70.5 368h-4M70.5 382.93h-4M70.5 397.87h-4M70.5 412.8h-4M70.5 427.73h-4M70.5 442.67h-4M70.5 457.6h-4M70.5 472.53h-4M70.5 487.47h-4M70.5 502.4h-4M70.5 517.33h-4M70.5 532.27h-4M70.5 547.2h-4M70.5 562.13h-4M70.5 577.07h-4M70.5 592h-4M70.5 606.93h-4M70.5 621.87h-4M70.5 636.8h-4M70.5 651.73h-4M70.5 666.67h-4M70.5 681.6h-4M70.5 696.53h-4" stroke="#c8c8c8" stroke-width="1.8" fill="none"/>
<rect x="952" y="31" width="35" height="662" fill="url(#cba)"/>
<path d="M987.5 38h4M987.5 107.3h4M987.5 176.6h4M987.5 245.9h4M987.5 315.2h4M987.5 384.5h4M987.5 453.8h4M987.5 523.1h4M987.5 592.4h4M987.5 661.7h4" stroke="#d0d0d0" stroke-width="1.5" fill="none"/>
<text transform="translate(61 65) rotate(-90)" x="-35" y="0" font-family='"Liberation Sans",sans-serif' font-size="45" font-weight="bold" textLength="70" lengthAdjust="spacingAndGlyphs">733</text>
<text transform="translate(61 394) rotate(-90)" x="-36" y="0" font-family='"Liberation Sans",sans-serif' font-size="45" font-weight="bold" textLength="72" lengthAdjust="spacingAndGlyphs">780</text>
<text transform="translate(61 674) rotate(-90)" x="-36" y="0" font-family='"Liberation Sans",sans-serif' font-size="45" font-weight="bold" textLength="72" lengthAdjust="spacingAndGlyphs">822</text>
<text transform="translate(984 83) rotate(-90)" x="-48" y="0" font-family='"Liberation Sans",sans-serif' font-size="43" font-weight="bold" textLength="96" lengthAdjust="spacingAndGlyphs">2360</text>
<text transform="translate(986 643.5) rotate(-90)" x="-38" y="0" font-family='"Liberation Sans",sans-serif' font-size="43" font-weight="bold" textLength="76" lengthAdjust="spacingAndGlyphs" fill="#fff">490</text>
<text x="65" y="755" font-family='"Liberation Sans",sans-serif' font-size="39" font-weight="bold" fill="#000" textLength="74" lengthAdjust="spacingAndGlyphs">610</text>
<text x="405" y="755" font-family='"Liberation Sans",sans-serif' font-size="39" font-weight="bold" fill="#000" textLength="74" lengthAdjust="spacingAndGlyphs">660</text>
<text x="878" y="753" font-family='"Liberation Sans",sans-serif' font-size="39" font-weight="bold" fill="#000" textLength="69" lengthAdjust="spacingAndGlyphs" transform="skewX(-8)" style="transform-origin:912px 753px">727</text>
<text x="86" y="111" font-family='"Liberation Sans",sans-serif' font-size="74" font-weight="bold" fill="#fff" textLength="86" lengthAdjust="spacingAndGlyphs">(a)</text>
<g clip-path="url(#cpb)"><g stroke-linejoin="round" filter="url(#blb)">
<rect x="1250" y="30" width="662" height="624" fill="#9a00c8"/>
<path d="M1754.2 31.7L1909.5 31.7L1909.5 342.3L1734.8 342.3L1725 233.6L1695.9 218.1L1744.5 185L1754.2 117.1ZM1730.9 338.1L1909.5 338.1L1909.5 650.7L1851.3 650.7L1812.4 621.6L1754.2 602.1L1725 582.7L1734.8 534.2L1711.5 514.8L1734.8 417.7ZM1668.7 55L1754.2 45.2L1754.2 70.5L1715.3 70.5L1668.7 78.3ZM1645.4 510.9L1668.7 514.8L1668.7 543.9L1647.4 541.9Z" fill="#6600ff"/>
<path d="M1777.5 113.2L1802.7 93.8L1851.3 86L1909.5 105.4L1909.5 159.8L1870.7 132.6L1841.6 146.2L1831.8 175.3L1810.5 198.6L1777.5 175.3L1773.6 136.5ZM1820.2 567.2L1862.9 565.2L1901.7 586.6L1886.2 623.5L1841.6 609.9ZM1862.9 361.4L1909.5 351.7L1909.5 386.6L1874.6 404.1ZM1859 450.7L1878.4 456.5L1874.6 495.3ZM1773.6 621.6L1831.8 627.4L1880.4 650.7L1734.8 650.7Z" fill="#9a00c8"/>
<path d="M1408.9 39.4L1424.5 41.4L1420.6 58.8L1410.9 55ZM1395.3 78.3L1405 64.7L1414.8 74.4L1416.7 117.1L1401.2 103.5ZM1259.4 136.5L1286.6 144.3L1286.6 171.5L1265.2 163.7ZM1251.7 101.6L1265.2 105.4L1251.7 117.1ZM1278.8 214.2L1284.7 202.5L1288.5 218.1L1284.7 223.9ZM1550.7 243.3L1579.8 220L1589.5 253L1593.4 268.5L1570.1 272.4ZM1589.5 163.7L1601.2 161.7L1601.2 187L1595.3 185ZM1284.7 464.3L1323.5 487.6L1329.3 507L1323.5 524.5L1333.2 553.6L1352.6 592.4L1356.5 611.8L1360.4 625.4L1348.7 639L1321.6 619.6L1321.6 592.4L1288.5 553.6L1286.6 514.8L1278.8 487.6ZM1251.7 355.5L1286.6 373L1269.1 384.7L1263.3 404.1L1251.7 417.7ZM1414.8 361.4L1449.7 390.5L1480.8 386.6L1486.6 441L1482.7 448.7L1459.4 429.3L1449.7 404.1L1430.3 384.7L1414.8 371.1ZM1455.5 495.3L1482.7 481.7L1494.4 493.4L1482.7 508.9ZM1306 639L1319.6 621.6L1344.9 650.7L1306 650.7ZM1622.1 62.7L1641.6 39.4L1649.3 60.8ZM1601.7 121L1612.4 99.6L1622.1 124.9L1612.4 152ZM1587.2 163.7L1612.4 159.8L1612.4 190.9L1595 185ZM1560 225.8L1579.4 220L1593 262.7L1581.4 276.3L1560 262.7ZM1775.5 122.9L1820.2 121L1810.5 155.9L1779.4 136.5ZM1587.2 322.9L1604.7 307.4L1622.1 342.3L1587.2 342.3ZM1591.1 338.1L1624.1 338.1L1635.7 361.4L1612.4 371.1ZM1604.7 454.6L1612.4 444.9L1624.1 514.8L1626 536.1L1608.5 524.5Z" fill="#82007a"/>
<path transform="translate(6 0)" d="M1289.5 34.6L1289.5 78.3L1296.3 101.6L1304.1 117.1L1315.7 148.2L1304.1 173.4L1298.3 194.8L1306 223.9L1311.8 239.4L1304.1 272.4L1296.3 291.8L1288.5 303.5L1298.3 322.9L1306 340L1317.7 340L1325.4 355.5L1331.3 373L1304.1 386.6L1303.1 433.2L1321.6 444.9L1348.7 454.6L1360.4 466.2L1360.4 514.8L1368.2 543.9L1375.9 563.3L1387.6 582.7L1395.3 592.4L1401.2 621.6L1407 647.8L1432.2 647.8L1434.2 621.6L1436.1 592.4L1436.1 553.6L1426.4 530.3L1438.1 520.6L1441.9 495.3L1434.2 475.9L1414.8 437.1L1395.3 394.4L1375.9 378.8L1360.4 373L1375.9 359.4L1383.7 340L1383.7 340L1379.8 311.3L1374 291.8L1375.9 262.7L1381.7 243.3L1379.8 214.2L1381.7 181.2L1393.4 163.7L1387.6 152L1372 136.5L1356.5 121L1348.7 101.6L1344.9 78.3L1341 58.8L1344.9 34.6ZM1482.7 53L1455.5 76.3L1438.1 84.1L1436.1 113.2L1443.9 136.5L1453.6 165.6L1463.3 185L1467.2 194.8L1459.4 214.2L1463.3 243.3L1469.1 272.4L1478.8 301.6L1486.6 322.9L1490.5 340L1490.5 340L1498.3 398.3L1511.8 448.7L1527.4 479.8L1527.4 508.9L1506 541.9L1502.1 553.6L1519.6 592.4L1531.3 608L1554.6 611.8L1570.1 598.3L1574 582.7L1570.1 559.4L1558.4 534.2L1558.4 514.8L1568.2 491.5L1570.1 464.3L1568.2 417.7L1566.2 369.1L1562.3 340L1554.6 340L1550.7 322.9L1544.9 301.6L1537.1 272.4L1527.4 233.6L1523.5 214.2L1531.3 194.8L1531.3 175.3L1529.3 159.8L1519.6 136.5L1519.6 121L1542.9 109.3L1558.4 97.7L1570.1 84.1L1581.7 39.4L1587.6 34.6L1519.6 34.6L1521.6 62.7L1535.1 78.3L1511.8 74.4ZM1657.1 103.5L1676.5 89.9L1713.4 97.7L1721.2 82.1L1742.5 76.3L1763.9 93.8L1758.1 111.3L1744.5 119L1738.6 146.2L1734.8 175.3L1711.5 194.8L1692 214.2L1695.9 225.8L1699.8 233.6L1715.3 249.1L1707.6 272.4L1703.7 291.8L1707.6 322.9L1715.3 340L1734.8 340L1734.8 359.4L1713.4 365.2L1680.4 359.4L1668.7 340L1672.6 340L1664.9 311.3L1653.2 278.3L1618.3 249.1L1626 225.8L1668.7 220L1676.5 214.2L1657.1 190.9L1653.2 136.5Z" fill="#6600ff" stroke="#6600ff" stroke-width="46"/>
<path d="M1519.6 590.5L1540.6 600.2L1569.7 613.8L1581.4 613.8L1600.8 608L1598.8 598.3L1571.7 598.3L1540.6 582.7L1525 573ZM1604.7 549.7L1624.1 559.4L1641.6 573L1657.1 592.4L1668.7 611.8L1676.5 631.3L1676.5 650.7L1598.8 650.7L1589.1 627.4L1581.4 613.8L1600.8 608L1597.9 582.7ZM1695.9 386.6L1725 382.7L1763.9 398.3L1793 421.6L1808.5 448.7L1818.3 487.6L1818.3 534.2L1796.9 538.1L1793 569.1L1775.5 571.1L1748.3 555.5L1760 526.4L1734.8 507L1711.5 489.5L1680.4 495.3L1657.1 464.3L1655.1 433.2L1661 417.7L1694 404.1ZM1843.5 216.1L1853.2 233.6L1857.1 253L1851.3 276.3L1857.1 291.8L1874.6 305.4L1862.9 305.4L1839.6 288L1831.8 262.7L1829.9 237.5ZM1796.9 299.6L1812.4 295.7L1833.8 311.3L1820.2 326.8L1810.5 340L1804.7 322.9ZM1787.2 349.7L1810.5 341.9L1831.8 359.4L1845.4 375L1831.8 388.5L1808.5 388.5L1789.1 369.1ZM1890.1 444.9L1909.5 442.9L1909.5 569.1L1890.1 553.6L1888.2 514.8L1894 475.9ZM1251.7 553.6L1265.2 573L1269.1 611.8L1273 650.7L1251.7 650.7ZM1894 45.2L1909.5 41.4L1909.5 84.1L1897.9 74.4L1890.1 58.8Z" fill="#6600ff" stroke="#6600ff" stroke-width="54"/>
<path d="M1779.4 53L1791.1 62.7L1779.4 74.4L1769.7 62.7ZM1268 298L1284 292L1288 312L1274 318L1265 308Z" fill="#6600ff" stroke="#6600ff" stroke-width="44"/>
<path d="M1756.1 64.7L1773.6 41.4L1789.1 37.5L1816.3 60.8L1779.4 86ZM1826 31.7L1861 31.7L1861 49.1L1843.5 55Z" fill="#6600ff" stroke="#6600ff" stroke-width="34"/>
<path d="M1750.3 64.7L1769.7 35.5L1802.7 31.7L1909.5 31.7L1909.5 97.7L1890.1 88L1874.6 66.6L1857.1 74.4L1835.7 58.8L1818.3 70.5L1779.4 89.9ZM1758.1 243.3L1812.4 253L1822.1 214.2L1843.5 194.8L1862.9 214.2L1874.6 272.4L1890.1 307.4L1878.4 322.9L1851.3 311.3L1841.6 322.9L1831.8 340L1783.3 340L1789.1 291.8L1763.9 262.7ZM1730.9 340L1859 340L1864.9 384.7L1839.6 400.2L1802.7 404.1L1783.3 388.5L1754.2 388.5L1734.8 378.8ZM1734.8 563.3L1754.2 573L1802.7 582.7L1851.3 611.8L1909.5 642.9L1909.5 650.7L1874.6 650.7L1841.6 625.4L1802.7 611.8L1773.6 611.8L1754.2 598.3L1734.8 582.7ZM1251.7 505L1265.2 524.5L1275 553.6L1251.7 553.6ZM1331.3 468.2L1352.6 464.3L1356.5 495.3L1344.9 493.4Z" fill="#6600ff" stroke="#6600ff" stroke-width="20"/>
<path transform="translate(4.5 0)" d="M1289.5 34.6L1289.5 78.3L1296.3 101.6L1304.1 117.1L1315.7 148.2L1304.1 173.4L1298.3 194.8L1306 223.9L1311.8 239.4L1304.1 272.4L1296.3 291.8L1288.5 303.5L1298.3 322.9L1306 340L1317.7 340L1325.4 355.5L1331.3 373L1304.1 386.6L1303.1 433.2L1321.6 444.9L1348.7 454.6L1360.4 466.2L1360.4 514.8L1368.2 543.9L1375.9 563.3L1387.6 582.7L1395.3 592.4L1401.2 621.6L1407 647.8L1432.2 647.8L1434.2 621.6L1436.1 592.4L1436.1 553.6L1426.4 530.3L1438.1 520.6L1441.9 495.3L1434.2 475.9L1414.8 437.1L1395.3 394.4L1375.9 378.8L1360.4 373L1375.9 359.4L1383.7 340L1383.7 340L1379.8 311.3L1374 291.8L1375.9 262.7L1381.7 243.3L1379.8 214.2L1381.7 181.2L1393.4 163.7L1387.6 152L1372 136.5L1356.5 121L1348.7 101.6L1344.9 78.3L1341 58.8L1344.9 34.6ZM1482.7 53L1455.5 76.3L1438.1 84.1L1436.1 113.2L1443.9 136.5L1453.6 165.6L1463.3 185L1467.2 194.8L1459.4 214.2L1463.3 243.3L1469.1 272.4L1478.8 301.6L1486.6 322.9L1490.5 340L1490.5 340L1498.3 398.3L1511.8 448.7L1527.4 479.8L1527.4 508.9L1506 541.9L1502.1 553.6L1519.6 592.4L1531.3 608L1554.6 611.8L1570.1 598.3L1574 582.7L1570.1 559.4L1558.4 534.2L1558.4 514.8L1568.2 491.5L1570.1 464.3L1568.2 417.7L1566.2 369.1L1562.3 340L1554.6 340L1550.7 322.9L1544.9 301.6L1537.1 272.4L1527.4 233.6L1523.5 214.2L1531.3 194.8L1531.3 175.3L1529.3 159.8L1519.6 136.5L1519.6 121L1542.9 109.3L1558.4 97.7L1570.1 84.1L1581.7 39.4L1587.6 34.6L1519.6 34.6L1521.6 62.7L1535.1 78.3L1511.8 74.4ZM1657.1 103.5L1676.5 89.9L1713.4 97.7L1721.2 82.1L1742.5 76.3L1763.9 93.8L1758.1 111.3L1744.5 119L1738.6 146.2L1734.8 175.3L1711.5 194.8L1692 214.2L1695.9 225.8L1699.8 233.6L1715.3 249.1L1707.6 272.4L1703.7 291.8L1707.6 322.9L1715.3 340L1734.8 340L1734.8 359.4L1713.4 365.2L1680.4 359.4L1668.7 340L1672.6 340L1664.9 311.3L1653.2 278.3L1618.3 249.1L1626 225.8L1668.7 220L1676.5 214.2L1657.1 190.9L1653.2 136.5Z" fill="#0033ff" stroke="#0033ff" stroke-width="27"/>
<path d="M1519.6 590.5L1540.6 600.2L1569.7 613.8L1581.4 613.8L1600.8 608L1598.8 598.3L1571.7 598.3L1540.6 582.7L1525 573ZM1604.7 549.7L1624.1 559.4L1641.6 573L1657.1 592.4L1668.7 611.8L1676.5 631.3L1676.5 650.7L1598.8 650.7L1589.1 627.4L1581.4 613.8L1600.8 608L1597.9 582.7ZM1695.9 386.6L1725 382.7L1763.9 398.3L1793 421.6L1808.5 448.7L1818.3 487.6L1818.3 534.2L1796.9 538.1L1793 569.1L1775.5 571.1L1748.3 555.5L1760 526.4L1734.8 507L1711.5 489.5L1680.4 495.3L1657.1 464.3L1655.1 433.2L1661 417.7L1694 404.1ZM1843.5 216.1L1853.2 233.6L1857.1 253L1851.3 276.3L1857.1 291.8L1874.6 305.4L1862.9 305.4L1839.6 288L1831.8 262.7L1829.9 237.5ZM1796.9 299.6L1812.4 295.7L1833.8 311.3L1820.2 326.8L1810.5 340L1804.7 322.9ZM1787.2 349.7L1810.5 341.9L1831.8 359.4L1845.4 375L1831.8 388.5L1808.5 388.5L1789.1 369.1ZM1890.1 444.9L1909.5 442.9L1909.5 569.1L1890.1 553.6L1888.2 514.8L1894 475.9ZM1251.7 553.6L1265.2 573L1269.1 611.8L1273 650.7L1251.7 650.7ZM1894 45.2L1909.5 41.4L1909.5 84.1L1897.9 74.4L1890.1 58.8Z" fill="#0033ff" stroke="#0033ff" stroke-width="34"/>
<path d="M1779.4 53L1791.1 62.7L1779.4 74.4L1769.7 62.7ZM1268 298L1284 292L1288 312L1274 318L1265 308Z" fill="#0033ff" stroke="#0033ff" stroke-width="24"/>
<path d="M1756.1 64.7L1773.6 41.4L1789.1 37.5L1816.3 60.8L1779.4 86ZM1826 31.7L1861 31.7L1861 49.1L1843.5 55Z" fill="#0033ff" stroke="#0033ff" stroke-width="14"/>
<path d="M1750.3 64.7L1769.7 35.5L1802.7 31.7L1909.5 31.7L1909.5 97.7L1890.1 88L1874.6 66.6L1857.1 74.4L1835.7 58.8L1818.3 70.5L1779.4 89.9ZM1758.1 243.3L1812.4 253L1822.1 214.2L1843.5 194.8L1862.9 214.2L1874.6 272.4L1890.1 307.4L1878.4 322.9L1851.3 311.3L1841.6 322.9L1831.8 340L1783.3 340L1789.1 291.8L1763.9 262.7ZM1730.9 340L1859 340L1864.9 384.7L1839.6 400.2L1802.7 404.1L1783.3 388.5L1754.2 388.5L1734.8 378.8ZM1734.8 563.3L1754.2 573L1802.7 582.7L1851.3 611.8L1909.5 642.9L1909.5 650.7L1874.6 650.7L1841.6 625.4L1802.7 611.8L1773.6 611.8L1754.2 598.3L1734.8 582.7ZM1251.7 505L1265.2 524.5L1275 553.6L1251.7 553.6ZM1331.3 468.2L1352.6 464.3L1356.5 495.3L1344.9 493.4Z" fill="#0033ff"/>
<path transform="translate(2.5 0)" d="M1289.5 34.6L1289.5 78.3L1296.3 101.6L1304.1 117.1L1315.7 148.2L1304.1 173.4L1298.3 194.8L1306 223.9L1311.8 239.4L1304.1 272.4L1296.3 291.8L1288.5 303.5L1298.3 322.9L1306 340L1317.7 340L1325.4 355.5L1331.3 373L1304.1 386.6L1303.1 433.2L1321.6 444.9L1348.7 454.6L1360.4 466.2L1360.4 514.8L1368.2 543.9L1375.9 563.3L1387.6 582.7L1395.3 592.4L1401.2 621.6L1407 647.8L1432.2 647.8L1434.2 621.6L1436.1 592.4L1436.1 553.6L1426.4 530.3L1438.1 520.6L1441.9 495.3L1434.2 475.9L1414.8 437.1L1395.3 394.4L1375.9 378.8L1360.4 373L1375.9 359.4L1383.7 340L1383.7 340L1379.8 311.3L1374 291.8L1375.9 262.7L1381.7 243.3L1379.8 214.2L1381.7 181.2L1393.4 163.7L1387.6 152L1372 136.5L1356.5 121L1348.7 101.6L1344.9 78.3L1341 58.8L1344.9 34.6ZM1482.7 53L1455.5 76.3L1438.1 84.1L1436.1 113.2L1443.9 136.5L1453.6 165.6L1463.3 185L1467.2 194.8L1459.4 214.2L1463.3 243.3L1469.1 272.4L1478.8 301.6L1486.6 322.9L1490.5 340L1490.5 340L1498.3 398.3L1511.8 448.7L1527.4 479.8L1527.4 508.9L1506 541.9L1502.1 553.6L1519.6 592.4L1531.3 608L1554.6 611.8L1570.1 598.3L1574 582.7L1570.1 559.4L1558.4 534.2L1558.4 514.8L1568.2 491.5L1570.1 464.3L1568.2 417.7L1566.2 369.1L1562.3 340L1554.6 340L1550.7 322.9L1544.9 301.6L1537.1 272.4L1527.4 233.6L1523.5 214.2L1531.3 194.8L1531.3 175.3L1529.3 159.8L1519.6 136.5L1519.6 121L1542.9 109.3L1558.4 97.7L1570.1 84.1L1581.7 39.4L1587.6 34.6L1519.6 34.6L1521.6 62.7L1535.1 78.3L1511.8 74.4ZM1657.1 103.5L1676.5 89.9L1713.4 97.7L1721.2 82.1L1742.5 76.3L1763.9 93.8L1758.1 111.3L1744.5 119L1738.6 146.2L1734.8 175.3L1711.5 194.8L1692 214.2L1695.9 225.8L1699.8 233.6L1715.3 249.1L1707.6 272.4L1703.7 291.8L1707.6 322.9L1715.3 340L1734.8 340L1734.8 359.4L1713.4 365.2L1680.4 359.4L1668.7 340L1672.6 340L1664.9 311.3L1653.2 278.3L1618.3 249.1L1626 225.8L1668.7 220L1676.5 214.2L1657.1 190.9L1653.2 136.5Z" fill="#0099ff" stroke="#0099ff" stroke-width="15"/>
<path d="M1519.6 590.5L1540.6 600.2L1569.7 613.8L1581.4 613.8L1600.8 608L1598.8 598.3L1571.7 598.3L1540.6 582.7L1525 573ZM1604.7 549.7L1624.1 559.4L1641.6 573L1657.1 592.4L1668.7 611.8L1676.5 631.3L1676.5 650.7L1598.8 650.7L1589.1 627.4L1581.4 613.8L1600.8 608L1597.9 582.7ZM1695.9 386.6L1725 382.7L1763.9 398.3L1793 421.6L1808.5 448.7L1818.3 487.6L1818.3 534.2L1796.9 538.1L1793 569.1L1775.5 571.1L1748.3 555.5L1760 526.4L1734.8 507L1711.5 489.5L1680.4 495.3L1657.1 464.3L1655.1 433.2L1661 417.7L1694 404.1ZM1843.5 216.1L1853.2 233.6L1857.1 253L1851.3 276.3L1857.1 291.8L1874.6 305.4L1862.9 305.4L1839.6 288L1831.8 262.7L1829.9 237.5ZM1796.9 299.6L1812.4 295.7L1833.8 311.3L1820.2 326.8L1810.5 340L1804.7 322.9ZM1787.2 349.7L1810.5 341.9L1831.8 359.4L1845.4 375L1831.8 388.5L1808.5 388.5L1789.1 369.1ZM1890.1 444.9L1909.5 442.9L1909.5 569.1L1890.1 553.6L1888.2 514.8L1894 475.9ZM1251.7 553.6L1265.2 573L1269.1 611.8L1273 650.7L1251.7 650.7ZM1894 45.2L1909.5 41.4L1909.5 84.1L1897.9 74.4L1890.1 58.8Z" fill="#0099ff" stroke="#0099ff" stroke-width="20"/>
<path d="M1779.4 53L1791.1 62.7L1779.4 74.4L1769.7 62.7ZM1268 298L1284 292L1288 312L1274 318L1265 308Z" fill="#0099ff" stroke="#0099ff" stroke-width="10"/>
<path d="M1756.1 64.7L1773.6 41.4L1789.1 37.5L1816.3 60.8L1779.4 86ZM1826 31.7L1861 31.7L1861 49.1L1843.5 55Z" fill="#0099ff"/>
<path transform="translate(1.5 0)" d="M1289.5 34.6L1289.5 78.3L1296.3 101.6L1304.1 117.1L1315.7 148.2L1304.1 173.4L1298.3 194.8L1306 223.9L1311.8 239.4L1304.1 272.4L1296.3 291.8L1288.5 303.5L1298.3 322.9L1306 340L1317.7 340L1325.4 355.5L1331.3 373L1304.1 386.6L1303.1 433.2L1321.6 444.9L1348.7 454.6L1360.4 466.2L1360.4 514.8L1368.2 543.9L1375.9 563.3L1387.6 582.7L1395.3 592.4L1401.2 621.6L1407 647.8L1432.2 647.8L1434.2 621.6L1436.1 592.4L1436.1 553.6L1426.4 530.3L1438.1 520.6L1441.9 495.3L1434.2 475.9L1414.8 437.1L1395.3 394.4L1375.9 378.8L1360.4 373L1375.9 359.4L1383.7 340L1383.7 340L1379.8 311.3L1374 291.8L1375.9 262.7L1381.7 243.3L1379.8 214.2L1381.7 181.2L1393.4 163.7L1387.6 152L1372 136.5L1356.5 121L1348.7 101.6L1344.9 78.3L1341 58.8L1344.9 34.6ZM1482.7 53L1455.5 76.3L1438.1 84.1L1436.1 113.2L1443.9 136.5L1453.6 165.6L1463.3 185L1467.2 194.8L1459.4 214.2L1463.3 243.3L1469.1 272.4L1478.8 301.6L1486.6 322.9L1490.5 340L1490.5 340L1498.3 398.3L1511.8 448.7L1527.4 479.8L1527.4 508.9L1506 541.9L1502.1 553.6L1519.6 592.4L1531.3 608L1554.6 611.8L1570.1 598.3L1574 582.7L1570.1 559.4L1558.4 534.2L1558.4 514.8L1568.2 491.5L1570.1 464.3L1568.2 417.7L1566.2 369.1L1562.3 340L1554.6 340L1550.7 322.9L1544.9 301.6L1537.1 272.4L1527.4 233.6L1523.5 214.2L1531.3 194.8L1531.3 175.3L1529.3 159.8L1519.6 136.5L1519.6 121L1542.9 109.3L1558.4 97.7L1570.1 84.1L1581.7 39.4L1587.6 34.6L1519.6 34.6L1521.6 62.7L1535.1 78.3L1511.8 74.4ZM1657.1 103.5L1676.5 89.9L1713.4 97.7L1721.2 82.1L1742.5 76.3L1763.9 93.8L1758.1 111.3L1744.5 119L1738.6 146.2L1734.8 175.3L1711.5 194.8L1692 214.2L1695.9 225.8L1699.8 233.6L1715.3 249.1L1707.6 272.4L1703.7 291.8L1707.6 322.9L1715.3 340L1734.8 340L1734.8 359.4L1713.4 365.2L1680.4 359.4L1668.7 340L1672.6 340L1664.9 311.3L1653.2 278.3L1618.3 249.1L1626 225.8L1668.7 220L1676.5 214.2L1657.1 190.9L1653.2 136.5Z" fill="#00ffff" stroke="#00ffff" stroke-width="8.5"/>
<path d="M1519.6 590.5L1540.6 600.2L1569.7 613.8L1581.4 613.8L1600.8 608L1598.8 598.3L1571.7 598.3L1540.6 582.7L1525 573ZM1604.7 549.7L1624.1 559.4L1641.6 573L1657.1 592.4L1668.7 611.8L1676.5 631.3L1676.5 650.7L1598.8 650.7L1589.1 627.4L1581.4 613.8L1600.8 608L1597.9 582.7ZM1695.9 386.6L1725 382.7L1763.9 398.3L1793 421.6L1808.5 448.7L1818.3 487.6L1818.3 534.2L1796.9 538.1L1793 569.1L1775.5 571.1L1748.3 555.5L1760 526.4L1734.8 507L1711.5 489.5L1680.4 495.3L1657.1 464.3L1655.1 433.2L1661 417.7L1694 404.1ZM1843.5 216.1L1853.2 233.6L1857.1 253L1851.3 276.3L1857.1 291.8L1874.6 305.4L1862.9 305.4L1839.6 288L1831.8 262.7L1829.9 237.5ZM1796.9 299.6L1812.4 295.7L1833.8 311.3L1820.2 326.8L1810.5 340L1804.7 322.9ZM1787.2 349.7L1810.5 341.9L1831.8 359.4L1845.4 375L1831.8 388.5L1808.5 388.5L1789.1 369.1ZM1890.1 444.9L1909.5 442.9L1909.5 569.1L1890.1 553.6L1888.2 514.8L1894 475.9ZM1251.7 553.6L1265.2 573L1269.1 611.8L1273 650.7L1251.7 650.7ZM1894 45.2L1909.5 41.4L1909.5 84.1L1897.9 74.4L1890.1 58.8Z" fill="#00ffff" stroke="#00ffff" stroke-width="10"/>
<path d="M1779.4 53L1791.1 62.7L1779.4 74.4L1769.7 62.7ZM1268 298L1284 292L1288 312L1274 318L1265 308Z" fill="#00ffff"/>
<path d="M1289.5 34.6L1289.5 78.3L1296.3 101.6L1304.1 117.1L1315.7 148.2L1304.1 173.4L1298.3 194.8L1306 223.9L1311.8 239.4L1304.1 272.4L1296.3 291.8L1288.5 303.5L1298.3 322.9L1306 340L1317.7 340L1325.4 355.5L1331.3 373L1304.1 386.6L1303.1 433.2L1321.6 444.9L1348.7 454.6L1360.4 466.2L1360.4 514.8L1368.2 543.9L1375.9 563.3L1387.6 582.7L1395.3 592.4L1401.2 621.6L1407 647.8L1432.2 647.8L1434.2 621.6L1436.1 592.4L1436.1 553.6L1426.4 530.3L1438.1 520.6L1441.9 495.3L1434.2 475.9L1414.8 437.1L1395.3 394.4L1375.9 378.8L1360.4 373L1375.9 359.4L1383.7 340L1383.7 340L1379.8 311.3L1374 291.8L1375.9 262.7L1381.7 243.3L1379.8 214.2L1381.7 181.2L1393.4 163.7L1387.6 152L1372 136.5L1356.5 121L1348.7 101.6L1344.9 78.3L1341 58.8L1344.9 34.6ZM1482.7 53L1455.5 76.3L1438.1 84.1L1436.1 113.2L1443.9 136.5L1453.6 165.6L1463.3 185L1467.2 194.8L1459.4 214.2L1463.3 243.3L1469.1 272.4L1478.8 301.6L1486.6 322.9L1490.5 340L1490.5 340L1498.3 398.3L1511.8 448.7L1527.4 479.8L1527.4 508.9L1506 541.9L1502.1 553.6L1519.6 592.4L1531.3 608L1554.6 611.8L1570.1 598.3L1574 582.7L1570.1 559.4L1558.4 534.2L1558.4 514.8L1568.2 491.5L1570.1 464.3L1568.2 417.7L1566.2 369.1L1562.3 340L1554.6 340L1550.7 322.9L1544.9 301.6L1537.1 272.4L1527.4 233.6L1523.5 214.2L1531.3 194.8L1531.3 175.3L1529.3 159.8L1519.6 136.5L1519.6 121L1542.9 109.3L1558.4 97.7L1570.1 84.1L1581.7 39.4L1587.6 34.6L1519.6 34.6L1521.6 62.7L1535.1 78.3L1511.8 74.4ZM1657.1 103.5L1676.5 89.9L1713.4 97.7L1721.2 82.1L1742.5 76.3L1763.9 93.8L1758.1 111.3L1744.5 119L1738.6 146.2L1734.8 175.3L1711.5 194.8L1692 214.2L1695.9 225.8L1699.8 233.6L1715.3 249.1L1707.6 272.4L1703.7 291.8L1707.6 322.9L1715.3 340L1734.8 340L1734.8 359.4L1713.4 365.2L1680.4 359.4L1668.7 340L1672.6 340L1664.9 311.3L1653.2 278.3L1618.3 249.1L1626 225.8L1668.7 220L1676.5 214.2L1657.1 190.9L1653.2 136.5ZM1519.6 590.5L1540.6 600.2L1569.7 613.8L1581.4 613.8L1600.8 608L1598.8 598.3L1571.7 598.3L1540.6 582.7L1525 573ZM1604.7 549.7L1624.1 559.4L1641.6 573L1657.1 592.4L1668.7 611.8L1676.5 631.3L1676.5 650.7L1598.8 650.7L1589.1 627.4L1581.4 613.8L1600.8 608L1597.9 582.7ZM1695.9 386.6L1725 382.7L1763.9 398.3L1793 421.6L1808.5 448.7L1818.3 487.6L1818.3 534.2L1796.9 538.1L1793 569.1L1775.5 571.1L1748.3 555.5L1760 526.4L1734.8 507L1711.5 489.5L1680.4 495.3L1657.1 464.3L1655.1 433.2L1661 417.7L1694 404.1ZM1843.5 216.1L1853.2 233.6L1857.1 253L1851.3 276.3L1857.1 291.8L1874.6 305.4L1862.9 305.4L1839.6 288L1831.8 262.7L1829.9 237.5ZM1796.9 299.6L1812.4 295.7L1833.8 311.3L1820.2 326.8L1810.5 340L1804.7 322.9ZM1787.2 349.7L1810.5 341.9L1831.8 359.4L1845.4 375L1831.8 388.5L1808.5 388.5L1789.1 369.1ZM1890.1 444.9L1909.5 442.9L1909.5 569.1L1890.1 553.6L1888.2 514.8L1894 475.9ZM1251.7 553.6L1265.2 573L1269.1 611.8L1273 650.7L1251.7 650.7ZM1894 45.2L1909.5 41.4L1909.5 84.1L1897.9 74.4L1890.1 58.8Z" fill="#00ff00"/>
<path d="M1308 31.7L1323.5 31.7L1331.3 49.1L1337.1 64.7L1331.3 84.1L1335.1 105.4L1337.1 111.3L1321.6 113.2L1313.8 103.5L1306 84.1L1304.1 58.8ZM1333.2 136.5L1352.6 140.4L1372 155.9L1364.3 175.3L1364.3 194.8L1372 220L1364.3 233.6L1351.7 243.3L1339 233.6L1325.4 218.1L1335.1 190.9L1337.1 167.6L1331.3 146.2ZM1341 322L1364 322L1374 340L1368 352L1353 361L1337 350L1325 340ZM1351.7 384.7L1375.9 404.1L1393.4 437.1L1401.2 460.4L1414.8 475.9L1426.4 495.3L1422.5 508.9L1401.2 518.6L1391.5 526.4L1407 534.2L1420.6 553.6L1418.6 582.7L1401.2 559.4L1387.6 543.9L1375.9 495.3L1375.9 466.2L1364.3 452.6L1344.9 427.4L1325.4 404.1ZM1539 31.7L1560.4 31.7L1562.3 58.8L1558.4 76.3L1548.7 80.2L1537.1 64.7L1535.1 47.2ZM1482.7 75.3L1498.3 89.9L1500.2 107.4L1492.4 128.7L1484.7 144.3L1473 132.6L1463.3 111.3L1467.2 91.8ZM1483.3 195L1493.7 207.5L1502 226L1510 246.7L1522.6 271.5L1528.8 288L1533 300L1518.4 302L1502 284L1481 263L1473 246.7L1473 207.5ZM1504 356L1522.6 345.8L1539 362L1549.4 376.7L1547.3 397.4L1555.6 428.3L1555.6 459.3L1551.5 477.9L1543.2 469.6L1532.9 438.6L1518.4 407.7L1510.2 378.8ZM1546.8 541.9L1558.4 555.5L1550.7 573L1535.1 557.5ZM1641.6 611.8L1651.3 617.7L1653.2 650.7L1639.6 650.7L1637.7 627.4ZM1674.6 119L1699.8 109.3L1715.3 111.3L1727 124.9L1719.2 155.9L1711.5 167.6L1694 173.4L1686.2 190.9L1676.5 198.6L1668.7 185L1670.7 146.2ZM1637.7 241.4L1680.4 237.5L1688.2 262.7L1692 301.6L1695.9 322.9L1676.5 315.1L1668.7 280.2L1651.3 262.7Z" fill="#66ff00" stroke="#66ff00" stroke-width="22"/>
<path d="M1709.5 429.3L1744.5 448.7L1779.4 456.5L1781.4 468.2L1744.5 466.2L1715.3 441Z" fill="#66ff00" stroke="#66ff00" stroke-width="19"/>
<path d="M1351.7 247.2L1364.3 272.4L1366.2 301.6L1364.3 322.9L1341 322.9L1333.2 301.6L1339 272.4ZM1414.8 582.7L1422.5 592.4L1420.6 621.6L1414.8 623.5L1410.9 602.1ZM1516 300L1531 300L1540 346L1522 348L1510 330ZM1903.7 479.8L1909.5 479.8L1909.5 505L1904.7 503.1Z" fill="#66ff00" stroke="#66ff00" stroke-width="15"/>
<path d="M1684.3 435.1L1711.5 413.8L1734.8 425.4L1773.6 427.4L1789.1 448.7L1798.8 479.8L1773.6 475.9L1744.5 475.9L1725 456.5L1699.8 441ZM1478.8 144.3L1492.4 144.3L1511.8 181.2L1508 190.9L1484.7 194.8L1475 187ZM1744.5 88L1753.2 95.7L1744.5 104.5L1735.7 95.7ZM1680.4 450.7L1690.1 460.4L1684.3 472L1675.5 467.2L1673.6 456.5ZM1810.5 365.2L1818.3 371.1L1810.5 376.9L1802.7 371.1ZM1899.8 466.2L1909.5 464.3L1909.5 514.8L1901.7 507ZM1251.7 582.7L1260.4 592.4L1259.4 611.8L1251.7 615.7ZM1313.8 398.3L1325.4 396.3L1348.7 429.3L1364.3 452.6L1348.7 448.7L1321.6 431.3L1313.8 413.8ZM1618.3 598.3L1637.7 592.4L1661 615.7L1664.9 650.7L1624.1 650.7ZM1410.9 582.7L1424.5 592.4L1424.5 621.6L1420.6 639L1412.8 623.5L1408.9 602.1Z" fill="#66ff00" stroke="#66ff00" stroke-width="9"/>
<path d="M1308 31.7L1323.5 31.7L1331.3 49.1L1337.1 64.7L1331.3 84.1L1335.1 105.4L1337.1 111.3L1321.6 113.2L1313.8 103.5L1306 84.1L1304.1 58.8ZM1333.2 136.5L1352.6 140.4L1372 155.9L1364.3 175.3L1364.3 194.8L1372 220L1364.3 233.6L1351.7 243.3L1339 233.6L1325.4 218.1L1335.1 190.9L1337.1 167.6L1331.3 146.2ZM1341 322L1364 322L1374 340L1368 352L1353 361L1337 350L1325 340ZM1351.7 384.7L1375.9 404.1L1393.4 437.1L1401.2 460.4L1414.8 475.9L1426.4 495.3L1422.5 508.9L1401.2 518.6L1391.5 526.4L1407 534.2L1420.6 553.6L1418.6 582.7L1401.2 559.4L1387.6 543.9L1375.9 495.3L1375.9 466.2L1364.3 452.6L1344.9 427.4L1325.4 404.1ZM1539 31.7L1560.4 31.7L1562.3 58.8L1558.4 76.3L1548.7 80.2L1537.1 64.7L1535.1 47.2ZM1482.7 75.3L1498.3 89.9L1500.2 107.4L1492.4 128.7L1484.7 144.3L1473 132.6L1463.3 111.3L1467.2 91.8ZM1483.3 195L1493.7 207.5L1502 226L1510 246.7L1522.6 271.5L1528.8 288L1533 300L1518.4 302L1502 284L1481 263L1473 246.7L1473 207.5ZM1504 356L1522.6 345.8L1539 362L1549.4 376.7L1547.3 397.4L1555.6 428.3L1555.6 459.3L1551.5 477.9L1543.2 469.6L1532.9 438.6L1518.4 407.7L1510.2 378.8ZM1546.8 541.9L1558.4 555.5L1550.7 573L1535.1 557.5ZM1641.6 611.8L1651.3 617.7L1653.2 650.7L1639.6 650.7L1637.7 627.4ZM1674.6 119L1699.8 109.3L1715.3 111.3L1727 124.9L1719.2 155.9L1711.5 167.6L1694 173.4L1686.2 190.9L1676.5 198.6L1668.7 185L1670.7 146.2ZM1637.7 241.4L1680.4 237.5L1688.2 262.7L1692 301.6L1695.9 322.9L1676.5 315.1L1668.7 280.2L1651.3 262.7Z" fill="#ddff00" stroke="#ddff00" stroke-width="17"/>
<path d="M1709.5 429.3L1744.5 448.7L1779.4 456.5L1781.4 468.2L1744.5 466.2L1715.3 441Z" fill="#ddff00" stroke="#ddff00" stroke-width="14"/>
<path d="M1351.7 247.2L1364.3 272.4L1366.2 301.6L1364.3 322.9L1341 322.9L1333.2 301.6L1339 272.4ZM1414.8 582.7L1422.5 592.4L1420.6 621.6L1414.8 623.5L1410.9 602.1ZM1516 300L1531 300L1540 346L1522 348L1510 330ZM1903.7 479.8L1909.5 479.8L1909.5 505L1904.7 503.1Z" fill="#ddff00" stroke="#ddff00" stroke-width="10"/>
<path d="M1684.3 435.1L1711.5 413.8L1734.8 425.4L1773.6 427.4L1789.1 448.7L1798.8 479.8L1773.6 475.9L1744.5 475.9L1725 456.5L1699.8 441ZM1478.8 144.3L1492.4 144.3L1511.8 181.2L1508 190.9L1484.7 194.8L1475 187ZM1744.5 88L1753.2 95.7L1744.5 104.5L1735.7 95.7ZM1680.4 450.7L1690.1 460.4L1684.3 472L1675.5 467.2L1673.6 456.5ZM1810.5 365.2L1818.3 371.1L1810.5 376.9L1802.7 371.1ZM1899.8 466.2L1909.5 464.3L1909.5 514.8L1901.7 507ZM1251.7 582.7L1260.4 592.4L1259.4 611.8L1251.7 615.7ZM1313.8 398.3L1325.4 396.3L1348.7 429.3L1364.3 452.6L1348.7 448.7L1321.6 431.3L1313.8 413.8ZM1618.3 598.3L1637.7 592.4L1661 615.7L1664.9 650.7L1624.1 650.7ZM1410.9 582.7L1424.5 592.4L1424.5 621.6L1420.6 639L1412.8 623.5L1408.9 602.1Z" fill="#ddff00" stroke="#ddff00" stroke-width="4"/>
<path d="M1308 31.7L1323.5 31.7L1331.3 49.1L1337.1 64.7L1331.3 84.1L1335.1 105.4L1337.1 111.3L1321.6 113.2L1313.8 103.5L1306 84.1L1304.1 58.8ZM1333.2 136.5L1352.6 140.4L1372 155.9L1364.3 175.3L1364.3 194.8L1372 220L1364.3 233.6L1351.7 243.3L1339 233.6L1325.4 218.1L1335.1 190.9L1337.1 167.6L1331.3 146.2ZM1341 322L1364 322L1374 340L1368 352L1353 361L1337 350L1325 340ZM1351.7 384.7L1375.9 404.1L1393.4 437.1L1401.2 460.4L1414.8 475.9L1426.4 495.3L1422.5 508.9L1401.2 518.6L1391.5 526.4L1407 534.2L1420.6 553.6L1418.6 582.7L1401.2 559.4L1387.6 543.9L1375.9 495.3L1375.9 466.2L1364.3 452.6L1344.9 427.4L1325.4 404.1ZM1539 31.7L1560.4 31.7L1562.3 58.8L1558.4 76.3L1548.7 80.2L1537.1 64.7L1535.1 47.2ZM1482.7 75.3L1498.3 89.9L1500.2 107.4L1492.4 128.7L1484.7 144.3L1473 132.6L1463.3 111.3L1467.2 91.8ZM1483.3 195L1493.7 207.5L1502 226L1510 246.7L1522.6 271.5L1528.8 288L1533 300L1518.4 302L1502 284L1481 263L1473 246.7L1473 207.5ZM1504 356L1522.6 345.8L1539 362L1549.4 376.7L1547.3 397.4L1555.6 428.3L1555.6 459.3L1551.5 477.9L1543.2 469.6L1532.9 438.6L1518.4 407.7L1510.2 378.8ZM1546.8 541.9L1558.4 555.5L1550.7 573L1535.1 557.5ZM1641.6 611.8L1651.3 617.7L1653.2 650.7L1639.6 650.7L1637.7 627.4ZM1674.6 119L1699.8 109.3L1715.3 111.3L1727 124.9L1719.2 155.9L1711.5 167.6L1694 173.4L1686.2 190.9L1676.5 198.6L1668.7 185L1670.7 146.2ZM1637.7 241.4L1680.4 237.5L1688.2 262.7L1692 301.6L1695.9 322.9L1676.5 315.1L1668.7 280.2L1651.3 262.7Z" fill="#ffdd00" stroke="#ffdd00" stroke-width="12"/>
<path d="M1709.5 429.3L1744.5 448.7L1779.4 456.5L1781.4 468.2L1744.5 466.2L1715.3 441Z" fill="#ffdd00" stroke="#ffdd00" stroke-width="9"/>
<path d="M1351.7 247.2L1364.3 272.4L1366.2 301.6L1364.3 322.9L1341 322.9L1333.2 301.6L1339 272.4ZM1414.8 582.7L1422.5 592.4L1420.6 621.6L1414.8 623.5L1410.9 602.1ZM1516 300L1531 300L1540 346L1522 348L1510 330ZM1903.7 479.8L1909.5 479.8L1909.5 505L1904.7 503.1Z" fill="#ffdd00" stroke="#ffdd00" stroke-width="5"/>
<path d="M1684.3 435.1L1711.5 413.8L1734.8 425.4L1773.6 427.4L1789.1 448.7L1798.8 479.8L1773.6 475.9L1744.5 475.9L1725 456.5L1699.8 441ZM1478.8 144.3L1492.4 144.3L1511.8 181.2L1508 190.9L1484.7 194.8L1475 187ZM1744.5 88L1753.2 95.7L1744.5 104.5L1735.7 95.7ZM1680.4 450.7L1690.1 460.4L1684.3 472L1675.5 467.2L1673.6 456.5ZM1810.5 365.2L1818.3 371.1L1810.5 376.9L1802.7 371.1ZM1899.8 466.2L1909.5 464.3L1909.5 514.8L1901.7 507ZM1251.7 582.7L1260.4 592.4L1259.4 611.8L1251.7 615.7ZM1313.8 398.3L1325.4 396.3L1348.7 429.3L1364.3 452.6L1348.7 448.7L1321.6 431.3L1313.8 413.8ZM1618.3 598.3L1637.7 592.4L1661 615.7L1664.9 650.7L1624.1 650.7ZM1410.9 582.7L1424.5 592.4L1424.5 621.6L1420.6 639L1412.8 623.5L1408.9 602.1Z" fill="#ffdd00"/>
<path d="M1308 31.7L1323.5 31.7L1331.3 49.1L1337.1 64.7L1331.3 84.1L1335.1 105.4L1337.1 111.3L1321.6 113.2L1313.8 103.5L1306 84.1L1304.1 58.8ZM1333.2 136.5L1352.6 140.4L1372 155.9L1364.3 175.3L1364.3 194.8L1372 220L1364.3 233.6L1351.7 243.3L1339 233.6L1325.4 218.1L1335.1 190.9L1337.1 167.6L1331.3 146.2ZM1341 322L1364 322L1374 340L1368 352L1353 361L1337 350L1325 340ZM1351.7 384.7L1375.9 404.1L1393.4 437.1L1401.2 460.4L1414.8 475.9L1426.4 495.3L1422.5 508.9L1401.2 518.6L1391.5 526.4L1407 534.2L1420.6 553.6L1418.6 582.7L1401.2 559.4L1387.6 543.9L1375.9 495.3L1375.9 466.2L1364.3 452.6L1344.9 427.4L1325.4 404.1ZM1539 31.7L1560.4 31.7L1562.3 58.8L1558.4 76.3L1548.7 80.2L1537.1 64.7L1535.1 47.2ZM1482.7 75.3L1498.3 89.9L1500.2 107.4L1492.4 128.7L1484.7 144.3L1473 132.6L1463.3 111.3L1467.2 91.8ZM1483.3 195L1493.7 207.5L1502 226L1510 246.7L1522.6 271.5L1528.8 288L1533 300L1518.4 302L1502 284L1481 263L1473 246.7L1473 207.5ZM1504 356L1522.6 345.8L1539 362L1549.4 376.7L1547.3 397.4L1555.6 428.3L1555.6 459.3L1551.5 477.9L1543.2 469.6L1532.9 438.6L1518.4 407.7L1510.2 378.8ZM1546.8 541.9L1558.4 555.5L1550.7 573L1535.1 557.5ZM1641.6 611.8L1651.3 617.7L1653.2 650.7L1639.6 650.7L1637.7 627.4ZM1674.6 119L1699.8 109.3L1715.3 111.3L1727 124.9L1719.2 155.9L1711.5 167.6L1694 173.4L1686.2 190.9L1676.5 198.6L1668.7 185L1670.7 146.2ZM1637.7 241.4L1680.4 237.5L1688.2 262.7L1692 301.6L1695.9 322.9L1676.5 315.1L1668.7 280.2L1651.3 262.7Z" fill="#ff9900" stroke="#ff9900" stroke-width="7.5"/>
<path d="M1709.5 429.3L1744.5 448.7L1779.4 456.5L1781.4 468.2L1744.5 466.2L1715.3 441Z" fill="#ff9900" stroke="#ff9900" stroke-width="4.5"/>
<path d="M1351.7 247.2L1364.3 272.4L1366.2 301.6L1364.3 322.9L1341 322.9L1333.2 301.6L1339 272.4ZM1414.8 582.7L1422.5 592.4L1420.6 621.6L1414.8 623.5L1410.9 602.1ZM1516 300L1531 300L1540 346L1522 348L1510 330ZM1903.7 479.8L1909.5 479.8L1909.5 505L1904.7 503.1Z" fill="#ff9900"/>
<path d="M1308 31.7L1323.5 31.7L1331.3 49.1L1337.1 64.7L1331.3 84.1L1335.1 105.4L1337.1 111.3L1321.6 113.2L1313.8 103.5L1306 84.1L1304.1 58.8ZM1333.2 136.5L1352.6 140.4L1372 155.9L1364.3 175.3L1364.3 194.8L1372 220L1364.3 233.6L1351.7 243.3L1339 233.6L1325.4 218.1L1335.1 190.9L1337.1 167.6L1331.3 146.2ZM1341 322L1364 322L1374 340L1368 352L1353 361L1337 350L1325 340ZM1351.7 384.7L1375.9 404.1L1393.4 437.1L1401.2 460.4L1414.8 475.9L1426.4 495.3L1422.5 508.9L1401.2 518.6L1391.5 526.4L1407 534.2L1420.6 553.6L1418.6 582.7L1401.2 559.4L1387.6 543.9L1375.9 495.3L1375.9 466.2L1364.3 452.6L1344.9 427.4L1325.4 404.1ZM1539 31.7L1560.4 31.7L1562.3 58.8L1558.4 76.3L1548.7 80.2L1537.1 64.7L1535.1 47.2ZM1482.7 75.3L1498.3 89.9L1500.2 107.4L1492.4 128.7L1484.7 144.3L1473 132.6L1463.3 111.3L1467.2 91.8ZM1483.3 195L1493.7 207.5L1502 226L1510 246.7L1522.6 271.5L1528.8 288L1533 300L1518.4 302L1502 284L1481 263L1473 246.7L1473 207.5ZM1504 356L1522.6 345.8L1539 362L1549.4 376.7L1547.3 397.4L1555.6 428.3L1555.6 459.3L1551.5 477.9L1543.2 469.6L1532.9 438.6L1518.4 407.7L1510.2 378.8ZM1546.8 541.9L1558.4 555.5L1550.7 573L1535.1 557.5ZM1641.6 611.8L1651.3 617.7L1653.2 650.7L1639.6 650.7L1637.7 627.4ZM1674.6 119L1699.8 109.3L1715.3 111.3L1727 124.9L1719.2 155.9L1711.5 167.6L1694 173.4L1686.2 190.9L1676.5 198.6L1668.7 185L1670.7 146.2ZM1637.7 241.4L1680.4 237.5L1688.2 262.7L1692 301.6L1695.9 322.9L1676.5 315.1L1668.7 280.2L1651.3 262.7Z" fill="#ff4400" stroke="#ff4400" stroke-width="3.5"/>
<path d="M1709.5 429.3L1744.5 448.7L1779.4 456.5L1781.4 468.2L1744.5 466.2L1715.3 441Z" fill="#ff4400"/>
<path d="M1308 31.7L1323.5 31.7L1331.3 49.1L1337.1 64.7L1331.3 84.1L1335.1 105.4L1337.1 111.3L1321.6 113.2L1313.8 103.5L1306 84.1L1304.1 58.8ZM1333.2 136.5L1352.6 140.4L1372 155.9L1364.3 175.3L1364.3 194.8L1372 220L1364.3 233.6L1351.7 243.3L1339 233.6L1325.4 218.1L1335.1 190.9L1337.1 167.6L1331.3 146.2ZM1341 322L1364 322L1374 340L1368 352L1353 361L1337 350L1325 340ZM1351.7 384.7L1375.9 404.1L1393.4 437.1L1401.2 460.4L1414.8 475.9L1426.4 495.3L1422.5 508.9L1401.2 518.6L1391.5 526.4L1407 534.2L1420.6 553.6L1418.6 582.7L1401.2 559.4L1387.6 543.9L1375.9 495.3L1375.9 466.2L1364.3 452.6L1344.9 427.4L1325.4 404.1ZM1539 31.7L1560.4 31.7L1562.3 58.8L1558.4 76.3L1548.7 80.2L1537.1 64.7L1535.1 47.2ZM1482.7 75.3L1498.3 89.9L1500.2 107.4L1492.4 128.7L1484.7 144.3L1473 132.6L1463.3 111.3L1467.2 91.8ZM1483.3 195L1493.7 207.5L1502 226L1510 246.7L1522.6 271.5L1528.8 288L1533 300L1518.4 302L1502 284L1481 263L1473 246.7L1473 207.5ZM1504 356L1522.6 345.8L1539 362L1549.4 376.7L1547.3 397.4L1555.6 428.3L1555.6 459.3L1551.5 477.9L1543.2 469.6L1532.9 438.6L1518.4 407.7L1510.2 378.8ZM1546.8 541.9L1558.4 555.5L1550.7 573L1535.1 557.5ZM1641.6 611.8L1651.3 617.7L1653.2 650.7L1639.6 650.7L1637.7 627.4ZM1674.6 119L1699.8 109.3L1715.3 111.3L1727 124.9L1719.2 155.9L1711.5 167.6L1694 173.4L1686.2 190.9L1676.5 198.6L1668.7 185L1670.7 146.2ZM1637.7 241.4L1680.4 237.5L1688.2 262.7L1692 301.6L1695.9 322.9L1676.5 315.1L1668.7 280.2L1651.3 262.7Z" fill="#ff0000"/>
<path d="M1318.6 56.9L1323.5 66.6L1319.6 84.1L1315.7 66.6ZM1350.7 204.5L1354.6 216.1L1350.7 223.9L1346.8 214.2Z" fill="#cc0000"/>
</g></g>
<path d="M1256 99.6h11M1256 176.7h11M1256 253.8h11M1256 330.9h11M1256 408h11M1256 485.1h11M1256 562.2h11M1256 639.3h11M1285 648v-11M1447.5 648v-11M1610 648v-11M1775 648v-11" stroke="#000" stroke-width="4" fill="none"/>
<path d="M1256 61h6M1256 138.1h6M1256 215.2h6M1256 292.4h6M1256 369.4h6M1256 446.5h6M1256 523.6h6M1256 600.8h6M1256 677.9h6M1366 648v-6M1528 648v-6M1692 648v-6M1856 648v-6" stroke="#000" stroke-width="3.5" fill="none"/>
<rect x="1253.4" y="32.4" width="655.8" height="617.8" fill="none" stroke="#000" stroke-width="5.2"/>
<circle cx="1351" cy="302.5" r="12.5" fill="#fff" stroke="#222" stroke-width="2"/>
<circle cx="1385" cy="302.5" r="12.5" fill="#fff" stroke="#222" stroke-width="2"/>
<circle cx="1421" cy="302.5" r="12.5" fill="#fff" stroke="#222" stroke-width="2"/>
<circle cx="1454" cy="302.5" r="12.5" fill="#fff" stroke="#222" stroke-width="2"/>
<circle cx="1490" cy="302.5" r="12.5" fill="#fff" stroke="#222" stroke-width="2"/>
<circle cx="1524" cy="302.5" r="12.5" fill="#fff" stroke="#222" stroke-width="2"/>
<text x="1289" y="316" font-family='"Liberation Sans",sans-serif' font-size="38" font-weight="bold" fill="#000" textLength="46" lengthAdjust="spacingAndGlyphs">#1</text>
<text x="1362.5" y="346" font-family='"Liberation Sans",sans-serif' font-size="38" font-weight="bold" fill="#000" textLength="45" lengthAdjust="spacingAndGlyphs">#2</text>
<text x="1396" y="282.5" font-family='"Liberation Sans",sans-serif' font-size="38" font-weight="bold" fill="#ffd690" textLength="44" lengthAdjust="spacingAndGlyphs">#3</text>
<text x="1432.5" y="346" font-family='"Liberation Sans",sans-serif' font-size="38" font-weight="bold" fill="#ffd690" textLength="47.5" lengthAdjust="spacingAndGlyphs">#4</text>
<text x="1465" y="282.5" font-family='"Liberation Sans",sans-serif' font-size="38" font-weight="bold" fill="#000" textLength="47.5" lengthAdjust="spacingAndGlyphs">#5</text>
<text x="1542.5" y="317.5" font-family='"Liberation Sans",sans-serif' font-size="38" font-weight="bold" fill="#000" textLength="45" lengthAdjust="spacingAndGlyphs">#6</text>
<text x="1170" y="114.8" font-family='"Liberation Sans",sans-serif' font-size="42" font-weight="bold" fill="#000" textLength="71" lengthAdjust="spacingAndGlyphs">200</text>
<text x="1170" y="191.9" font-family='"Liberation Sans",sans-serif' font-size="42" font-weight="bold" fill="#000" textLength="71" lengthAdjust="spacingAndGlyphs">205</text>
<text x="1170" y="269" font-family='"Liberation Sans",sans-serif' font-size="42" font-weight="bold" fill="#000" textLength="71" lengthAdjust="spacingAndGlyphs">210</text>
<text x="1170" y="346.1" font-family='"Liberation Sans",sans-serif' font-size="42" font-weight="bold" fill="#000" textLength="71" lengthAdjust="spacingAndGlyphs">215</text>
<text x="1170" y="423.2" font-family='"Liberation Sans",sans-serif' font-size="42" font-weight="bold" fill="#000" textLength="71" lengthAdjust="spacingAndGlyphs">220</text>
<text x="1170" y="500.3" font-family='"Liberation Sans",sans-serif' font-size="42" font-weight="bold" fill="#000" textLength="71" lengthAdjust="spacingAndGlyphs">225</text>
<text x="1170" y="577.4" font-family='"Liberation Sans",sans-serif' font-size="42" font-weight="bold" fill="#000" textLength="71" lengthAdjust="spacingAndGlyphs">230</text>
<text x="1170" y="654.5" font-family='"Liberation Sans",sans-serif' font-size="42" font-weight="bold" fill="#000" textLength="71" lengthAdjust="spacingAndGlyphs">235</text>
<text x="1247.5" y="696.5" font-family='"Liberation Sans",sans-serif' font-size="42" font-weight="bold" fill="#000" textLength="70.5" lengthAdjust="spacingAndGlyphs">460</text>
<text x="1413" y="696.5" font-family='"Liberation Sans",sans-serif' font-size="42" font-weight="bold" fill="#000" textLength="70.5" lengthAdjust="spacingAndGlyphs">440</text>
<text x="1575" y="696.5" font-family='"Liberation Sans",sans-serif' font-size="42" font-weight="bold" fill="#000" textLength="70.5" lengthAdjust="spacingAndGlyphs">420</text>
<text x="1739" y="696.5" font-family='"Liberation Sans",sans-serif' font-size="42" font-weight="bold" fill="#000" textLength="70.5" lengthAdjust="spacingAndGlyphs">400</text>
<text x="1251" y="759.5" font-family='"Liberation Sans",sans-serif' font-size="38" font-weight="bold" fill="#000" textLength="665" lengthAdjust="spacingAndGlyphs">X-axis Position Coordinate (µm)</text>
<text transform="translate(1141 377) rotate(-90)" x="-320" y="0" font-family='"Liberation Sans",sans-serif' font-size="37" font-weight="bold" textLength="640" lengthAdjust="spacingAndGlyphs">Y-axis Position Coordinate (µm)</text>
<text x="1004" y="114" font-family='"Liberation Sans",sans-serif' font-size="80" font-weight="bold" fill="#000" textLength="94.5" lengthAdjust="spacingAndGlyphs">(b)</text>
<rect x="1928.4" y="182" width="47.6" height="16.2" fill="#800070"/><rect x="1928.4" y="197.9" width="47.6" height="16.2" fill="#9900c0"/><rect x="1928.4" y="213.7" width="47.6" height="16.2" fill="#6600ff"/><rect x="1928.4" y="229.6" width="47.6" height="16.2" fill="#0033ff"/><rect x="1928.4" y="245.5" width="47.6" height="16.2" fill="#0099ff"/><rect x="1928.4" y="261.3" width="47.6" height="16.2" fill="#00ffff"/><rect x="1928.4" y="277.2" width="47.6" height="16.2" fill="#00ff00"/><rect x="1928.4" y="293.1" width="47.6" height="16.2" fill="#00ff00"/><rect x="1928.4" y="308.9" width="47.6" height="16.2" fill="#66ff00"/><rect x="1928.4" y="324.8" width="47.6" height="16.2" fill="#ddff00"/><rect x="1928.4" y="340.6" width="47.6" height="16.2" fill="#ffdd00"/><rect x="1928.4" y="356.5" width="47.6" height="16.2" fill="#ff9900"/><rect x="1928.4" y="372.4" width="47.6" height="16.2" fill="#ff4400"/><rect x="1928.4" y="388.2" width="47.6" height="16.2" fill="#ff0000"/><rect x="1928.4" y="404.1" width="47.6" height="16.2" fill="#ff0000"/><rect x="1928.4" y="420" width="47.6" height="16.2" fill="#ff0000"/><rect x="1928.4" y="435.8" width="47.6" height="16.2" fill="#ff0000"/><rect x="1928.4" y="451.7" width="47.6" height="16.2" fill="#cc0000"/><rect x="1928.4" y="467.6" width="47.6" height="16.2" fill="#990000"/><rect x="1928.4" y="483.4" width="47.6" height="16.2" fill="#730000"/><rect x="1972" y="182" width="4" height="317.3" fill="#fff" opacity="0.45"/>
<text x="1977.5" y="197.5" font-family='"Liberation Sans",sans-serif' font-size="39" font-weight="bold" fill="#000" textLength="45" lengthAdjust="spacingAndGlyphs">9k</text>
<text x="1977.5" y="261.4" font-family='"Liberation Sans",sans-serif' font-size="39" font-weight="bold" fill="#000" textLength="68.5" lengthAdjust="spacingAndGlyphs">10k</text>
<text x="1977.5" y="325.3" font-family='"Liberation Sans",sans-serif' font-size="39" font-weight="bold" fill="#000" textLength="68.5" lengthAdjust="spacingAndGlyphs">11k</text>
<text x="1977.5" y="389.2" font-family='"Liberation Sans",sans-serif' font-size="39" font-weight="bold" fill="#000" textLength="68.5" lengthAdjust="spacingAndGlyphs">12k</text>
<text x="1977.5" y="453.1" font-family='"Liberation Sans",sans-serif' font-size="39" font-weight="bold" fill="#000" textLength="68.5" lengthAdjust="spacingAndGlyphs">13k</text>
<text x="1977.5" y="517" font-family='"Liberation Sans",sans-serif' font-size="39" font-weight="bold" fill="#000" textLength="68.5" lengthAdjust="spacingAndGlyphs">14k</text>
<g clip-path="url(#cp1)">
<rect x="201" y="820.9" width="465.7" height="383.2" fill="url(#hg1)"/>
<rect x="201" y="820.9" width="465.7" height="383.2" filter="url(#grain2)" opacity="0.45" style="mix-blend-mode:soft-light"/>
<circle cx="429.6" cy="1069.4" r="170.4" fill="none" stroke="url(#rg1)" stroke-width="1.7"/>
<path d="M263 1104.8A170.4 170.4 0 0 1 263 1033.9" fill="none" stroke="#1a1014" stroke-opacity="0.45" stroke-width="1.8" stroke-linecap="round" filter="url(#bl05)"/>
<path d="M580.1 1149.3A170.4 170.4 0 0 1 509.6 1219.8" fill="none" stroke="#1a1014" stroke-opacity="0.4" stroke-width="1.8" stroke-linecap="round" filter="url(#bl05)"/>
<path d="M406.4 1074.4L201 1091.2L201 1150.2Z" fill="#ff6a72" fill-opacity="0.48"/>
<path d="M427.3 1092.9L358.8 1215.6" stroke="#fff" stroke-width="13.5" stroke-linecap="butt" filter="url(#bl3)"/>
<circle cx="430.3" cy="1088.9" r="24.6" fill="url(#bg1)"/>
<ellipse cx="430.3" cy="1059" rx="3.2" ry="1.3" fill="#333" opacity="0.8"/>
<rect x="201" y="967.3" width="465.7" height="15.2" fill="#000"/>
</g>
<rect x="406.4" y="1044.1" width="45.8" height="48.1" fill="none" stroke="#ff2a7c" stroke-width="3.2"/>
<text x="398.7" y="1115.8" font-family='"Liberation Serif",serif' font-size="22" font-weight="bold" fill="#000" textLength="68" lengthAdjust="spacingAndGlyphs" stroke="#000" stroke-width="0.6">SAXS</text>
<text x="526.9" y="1084.5" font-family='"Liberation Serif",serif' font-size="40" font-weight="bold" fill="#000" textLength="65.7" lengthAdjust="spacingAndGlyphs" stroke="#000" stroke-width="0.6">210</text>
<text x="217.2" y="880.8" font-family='"Liberation Serif",serif' font-size="54" font-weight="bold" fill="#000" textLength="52.2" lengthAdjust="spacingAndGlyphs" stroke="#000" stroke-width="0.6">#1</text>
<text x="368.7" y="872.4" font-family='"Liberation Serif",serif' font-size="50" font-weight="normal" fill="#000" textLength="127.9" lengthAdjust="spacingAndGlyphs" stroke="#000" stroke-width="1.0">Ridge</text>
<text x="46.7" y="1042.7" font-family='"Liberation Serif",serif' font-size="55" font-weight="normal" fill="#000" textLength="138.9" lengthAdjust="spacingAndGlyphs" stroke="#000" stroke-width="1.7">SAXS</text>
<rect x="37.1" y="1049" width="149.8" height="162" fill="#ff0a6c"/>
<g clip-path="url(#ci1)">
<rect x="37.1" y="1049" width="149.8" height="162" fill="url(#ig1)"/>
<rect x="37.1" y="1049" width="149.8" height="162" filter="url(#grain)" opacity="0.3"/>
<path d="M60 1192A64 64 0 0 1 188 1192V1231H60Z" fill="#fff" filter="url(#bl4)"/>
<ellipse cx="117.5" cy="1117" rx="12.2" ry="6" fill="#444" opacity="0.5" filter="url(#bl2)"/>
<ellipse cx="117.5" cy="1112" rx="13.5" ry="2.5" fill="#161616" opacity="0.9" filter="url(#bl1)"/>
</g>
<path d="M158.9 1072.8L136.3 1093.9" stroke="#ece400" stroke-width="2.4"/>
<path d="M126.8 1102.8L132.2 1089.5L140.4 1098.3Z" fill="#f4ec00"/>
<g clip-path="url(#cp2)">
<rect x="877" y="820.9" width="459.6" height="383.2" fill="url(#hg2)"/>
<rect x="877" y="820.9" width="459.6" height="383.2" filter="url(#grain2)" opacity="0.45" style="mix-blend-mode:soft-light"/>
<circle cx="1102.9" cy="1069.4" r="168" fill="none" stroke="url(#rg2)" stroke-width="1.7"/>
<path d="M978 1181.8A168 168 0 0 1 943.1 1121.3" fill="none" stroke="#1a1014" stroke-opacity="0.5" stroke-width="2" stroke-linecap="round" filter="url(#bl05)"/>
<path d="M1269.3 1092.7A168 168 0 0 1 1231.6 1177.4" fill="none" stroke="#1a1014" stroke-opacity="0.5" stroke-width="2" stroke-linecap="round" filter="url(#bl05)"/>
<path d="M1075.6 1078.8L877 1096.3L877 1153.5Z" fill="#ff6a72" fill-opacity="0.48"/>
<path d="M1101.9 1090.2L1032 1215.8" stroke="#fff" stroke-width="13.5" stroke-linecap="butt" filter="url(#bl3)"/>
<circle cx="1104.9" cy="1086.2" r="23.8" fill="url(#bg2)"/>
<ellipse cx="1104.9" cy="1057" rx="3.2" ry="1.3" fill="#333" opacity="0.8"/>
<rect x="877" y="966.7" width="459.6" height="15.8" fill="#000"/>
</g>
<rect x="1075.6" y="1044.1" width="54.9" height="61.6" fill="none" stroke="#ff2a7c" stroke-width="2"/>
<text x="1069.6" y="1129.3" font-family='"Liberation Serif",serif' font-size="22" font-weight="bold" fill="#000" textLength="68" lengthAdjust="spacingAndGlyphs" stroke="#000" stroke-width="0.6">SAXS</text>
<text x="1196.8" y="1100.7" font-family='"Liberation Serif",serif' font-size="40" font-weight="bold" fill="#000" textLength="67.3" lengthAdjust="spacingAndGlyphs" stroke="#000" stroke-width="0.6">210</text>
<text x="900.5" y="880.8" font-family='"Liberation Serif",serif' font-size="54" font-weight="bold" fill="#000" textLength="53.9" lengthAdjust="spacingAndGlyphs" stroke="#000" stroke-width="0.6">#2</text>
<text x="1038.6" y="872.4" font-family='"Liberation Serif",serif' font-size="50" font-weight="normal" fill="#000" textLength="128.6" lengthAdjust="spacingAndGlyphs" stroke="#000" stroke-width="1.0">Ridge</text>
<text x="714.7" y="1038.7" font-family='"Liberation Serif",serif' font-size="55" font-weight="normal" fill="#000" textLength="140.2" lengthAdjust="spacingAndGlyphs" stroke="#000" stroke-width="1.7">SAXS</text>
<rect x="711" y="1049" width="151.6" height="160" fill="#ff0808"/>
<g clip-path="url(#ci2)">
<rect x="711" y="1049" width="151.6" height="160" fill="url(#ig2)"/>
<rect x="711" y="1049" width="151.6" height="160" filter="url(#grain)" opacity="0.3"/>
<path d="M730.8 1178.8A60 60 0 0 1 850.8 1178.8V1229H730.8Z" fill="#fff" filter="url(#bl4)"/>
<ellipse cx="782" cy="1107.8" rx="5.9" ry="6" fill="#444" opacity="0.5" filter="url(#bl2)"/>
<ellipse cx="782" cy="1102.8" rx="6.5" ry="2" fill="#161616" opacity="0.9" filter="url(#bl1)"/>
</g>
<path d="M828 1064L804.3 1086" stroke="#ece400" stroke-width="2.4"/>
<path d="M794.8 1094.8L800.2 1081.6L808.4 1090.4Z" fill="#f4ec00"/>
<g clip-path="url(#cp3)">
<rect x="1562.5" y="819.5" width="471.4" height="384.5" fill="url(#hg3)"/>
<rect x="1562.5" y="819.5" width="471.4" height="384.5" filter="url(#grain2)" opacity="0.45" style="mix-blend-mode:soft-light"/>
<circle cx="1795.8" cy="1067" r="172.7" fill="none" stroke="url(#rg3)" stroke-width="1.7"/>
<path d="M1689.5 1203.1A172.7 172.7 0 0 1 1631.6 1120.4" fill="none" stroke="#1a1014" stroke-opacity="0.6" stroke-width="2.2" stroke-linecap="round" filter="url(#bl05)"/>
<path d="M1958.1 1007.9A172.7 172.7 0 0 1 1937.3 1166.1" fill="none" stroke="#1a1014" stroke-opacity="0.45" stroke-width="2" stroke-linecap="round" filter="url(#bl05)"/>
<path d="M1760.5 1077.8L1562.5 1113.1L1562.5 1175.4Z" fill="#ff6a72" fill-opacity="0.48"/>
<path d="M1793.5 1091.9L1722.4 1215.7" stroke="#fff" stroke-width="15.6" stroke-linecap="butt" filter="url(#bl3)"/>
<circle cx="1796.5" cy="1087.9" r="25.8" fill="url(#bg3)"/>
<rect x="1562.5" y="965.7" width="471.4" height="16.2" fill="#000"/>
</g>
<rect x="1760.5" y="1036.7" width="75.4" height="79.1" fill="none" stroke="#ff2a7c" stroke-width="2"/>
<text x="1762.5" y="1140.7" font-family='"Liberation Serif",serif' font-size="22" font-weight="bold" fill="#000" textLength="68" lengthAdjust="spacingAndGlyphs" stroke="#000" stroke-width="0.6">SAXS</text>
<text x="1884.1" y="1034" font-family='"Liberation Serif",serif' font-size="40" font-weight="bold" fill="#000" textLength="67.3" lengthAdjust="spacingAndGlyphs" stroke="#000" stroke-width="0.6">210</text>
<text x="1766.2" y="934.7" font-family='"Liberation Serif",serif' font-size="43" font-weight="bold" fill="#ff0000" textLength="68" lengthAdjust="spacingAndGlyphs" stroke="#ff0000" stroke-width="0.6">020</text>
<text x="1577.7" y="880.1" font-family='"Liberation Serif",serif' font-size="54" font-weight="bold" fill="#000" textLength="52.2" lengthAdjust="spacingAndGlyphs" stroke="#000" stroke-width="0.6">#3</text>
<text x="1734.2" y="871.4" font-family='"Liberation Serif",serif' font-size="50" font-weight="normal" fill="#000" textLength="134.7" lengthAdjust="spacingAndGlyphs" stroke="#000" stroke-width="1.0">Valley</text>
<text x="1409.7" y="1022.2" font-family='"Liberation Serif",serif' font-size="55" font-weight="normal" fill="#000" textLength="136.8" lengthAdjust="spacingAndGlyphs" stroke="#000" stroke-width="1.7">SAXS</text>
<rect x="1400.5" y="1025.4" width="151.5" height="184" fill="#ff0a6c"/>
<g clip-path="url(#ci3)">
<rect x="1400.5" y="1025.4" width="151.5" height="184" fill="url(#ig3)"/>
<rect x="1400.5" y="1025.4" width="151.5" height="184" filter="url(#grain)" opacity="0.3"/>
<g filter="url(#bl4)"><circle cx="1471.5" cy="1133" r="42" fill="#fff"/><path d="M1471.5 1133L1432 1222" stroke="#fff" stroke-width="34"/></g>
</g>
<g clip-path="url(#cp4)">
<rect x="199.3" y="1233.3" width="467.3" height="382.8" fill="url(#hg4)"/>
<rect x="199.3" y="1233.3" width="467.3" height="382.8" filter="url(#grain2)" opacity="0.45" style="mix-blend-mode:soft-light"/>
<circle cx="429.3" cy="1479" r="171.7" fill="none" stroke="url(#rg4)" stroke-width="1.7"/>
<path d="M288.6 1380.6A171.7 171.7 0 0 1 405.4 1309" fill="none" stroke="#1a1014" stroke-opacity="0.5" stroke-width="2" stroke-linecap="round" filter="url(#bl05)"/>
<path d="M343.4 1627.8A171.7 171.7 0 0 1 260.2 1508.9" fill="none" stroke="#1a1014" stroke-opacity="0.55" stroke-width="2.2" stroke-linecap="round" filter="url(#bl05)"/>
<path d="M578 1393.2A171.7 171.7 0 0 1 560.8 1589.4" fill="none" stroke="#1a1014" stroke-opacity="0.5" stroke-width="2" stroke-linecap="round" filter="url(#bl05)"/>
<path d="M405.4 1309A171.7 171.7 0 0 1 473.7 1313.2" fill="none" stroke="#1a1014" stroke-opacity="0.6" stroke-width="2.4" stroke-linecap="round" filter="url(#bl05)"/>
<path d="M395.6 1490.8L199.3 1511L199.3 1564.9Z" fill="#ff6a72" fill-opacity="0.48"/>
<path d="M428 1501.6L358.8 1627.9" stroke="#fff" stroke-width="13.5" stroke-linecap="butt" filter="url(#bl3)"/>
<circle cx="431" cy="1497.6" r="25.8" fill="url(#bg4)"/>
<rect x="199.3" y="1379" width="467.3" height="15.8" fill="#000"/>
</g>
<rect x="395.6" y="1449.4" width="75.8" height="79.5" fill="none" stroke="#ff2a7c" stroke-width="2.2"/>
<text x="399.3" y="1551.4" font-family='"Liberation Serif",serif' font-size="22" font-weight="bold" fill="#000" textLength="68" lengthAdjust="spacingAndGlyphs" stroke="#000" stroke-width="0.6">SAXS</text>
<text x="523.6" y="1510.4" font-family='"Liberation Serif",serif' font-size="40" font-weight="bold" fill="#000" textLength="67.3" lengthAdjust="spacingAndGlyphs" stroke="#000" stroke-width="0.6">210</text>
<text x="410.8" y="1345.4" font-family='"Liberation Serif",serif' font-size="43" font-weight="bold" fill="#ff0000" textLength="66.7" lengthAdjust="spacingAndGlyphs" stroke="#ff0000" stroke-width="0.6">020</text>
<text x="217.2" y="1292.2" font-family='"Liberation Serif",serif' font-size="54" font-weight="bold" fill="#000" textLength="53.2" lengthAdjust="spacingAndGlyphs" stroke="#000" stroke-width="0.6">#4</text>
<text x="377.1" y="1292.2" font-family='"Liberation Serif",serif' font-size="50" font-weight="normal" fill="#000" textLength="134" lengthAdjust="spacingAndGlyphs" stroke="#000" stroke-width="1.0">Valley</text>
<text x="46" y="1429.5" font-family='"Liberation Serif",serif' font-size="55" font-weight="normal" fill="#000" textLength="137.5" lengthAdjust="spacingAndGlyphs" stroke="#000" stroke-width="1.7">SAXS</text>
<rect x="41.4" y="1436.9" width="147.6" height="181" fill="#ff0a6c"/>
<g clip-path="url(#ci4)">
<rect x="41.4" y="1436.9" width="147.6" height="181" fill="url(#ig4)"/>
<rect x="41.4" y="1436.9" width="147.6" height="181" filter="url(#grain)" opacity="0.3"/>
<g filter="url(#bl4)"><circle cx="111" cy="1541.3" r="44" fill="#fff"/><path d="M111 1541.3L72 1630" stroke="#fff" stroke-width="34"/></g>
</g>
<g clip-path="url(#cp5)">
<rect x="877" y="1233.3" width="467" height="382.8" fill="url(#hg5)"/>
<rect x="877" y="1233.3" width="467" height="382.8" filter="url(#grain2)" opacity="0.45" style="mix-blend-mode:soft-light"/>
<circle cx="1106.3" cy="1480.4" r="171.4" fill="none" stroke="url(#rg5)" stroke-width="1.7"/>
<path d="M1276 1456.5A171.4 171.4 0 0 1 1272.6 1521.9" fill="none" stroke="#1a1014" stroke-opacity="0.75" stroke-width="2.6" stroke-linecap="round" filter="url(#bl05)"/>
<path d="M1020.6 1628.8A171.4 171.4 0 0 1 957.8 1566.1" fill="none" stroke="#1a1014" stroke-opacity="0.4" stroke-width="1.8" stroke-linecap="round" filter="url(#bl05)"/>
<path d="M1079 1493.5L877 1512.7L877 1568.3Z" fill="#ff6a72" fill-opacity="0.48"/>
<path d="M1101.9 1503.2L1034.5 1627.8" stroke="#fff" stroke-width="14.5" stroke-linecap="butt" filter="url(#bl3)"/>
<circle cx="1104.9" cy="1499.2" r="24.6" fill="url(#bg5)"/>
<ellipse cx="1104.9" cy="1469.4" rx="3.2" ry="1.3" fill="#333" opacity="0.8"/>
<rect x="877" y="1379" width="467" height="15.8" fill="#000"/>
</g>
<rect x="1079" y="1456.1" width="51.5" height="50.8" fill="none" stroke="#ff2a7c" stroke-width="2.4"/>
<text x="1073.6" y="1530.6" font-family='"Liberation Serif",serif' font-size="22" font-weight="bold" fill="#000" textLength="68" lengthAdjust="spacingAndGlyphs" stroke="#000" stroke-width="0.6">SAXS</text>
<text x="1196.8" y="1492.5" font-family='"Liberation Serif",serif' font-size="40" font-weight="bold" fill="#000" textLength="67.3" lengthAdjust="spacingAndGlyphs" stroke="#000" stroke-width="0.6">210</text>
<text x="900.5" y="1292.2" font-family='"Liberation Serif",serif' font-size="54" font-weight="bold" fill="#000" textLength="55.6" lengthAdjust="spacingAndGlyphs" stroke="#000" stroke-width="0.6">#5</text>
<text x="1057.1" y="1292.2" font-family='"Liberation Serif",serif' font-size="50" font-weight="normal" fill="#000" textLength="129" lengthAdjust="spacingAndGlyphs" stroke="#000" stroke-width="1.0">Ridge</text>
<text x="724.4" y="1435.4" font-family='"Liberation Serif",serif' font-size="55" font-weight="normal" fill="#000" textLength="136.1" lengthAdjust="spacingAndGlyphs" stroke="#000" stroke-width="1.7">SAXS</text>
<rect x="721" y="1450.7" width="147.6" height="160.9" fill="#ff0808"/>
<g clip-path="url(#ci5)">
<rect x="721" y="1450.7" width="147.6" height="160.9" fill="url(#ig5)"/>
<rect x="721" y="1450.7" width="147.6" height="160.9" filter="url(#grain)" opacity="0.3"/>
<path d="M740 1586.5A61 61 0 0 1 862 1586.5V1631.6H740Z" fill="#fff" filter="url(#bl4)"/>
<ellipse cx="793" cy="1515.8" rx="9" ry="6" fill="#444" opacity="0.5" filter="url(#bl2)"/>
<ellipse cx="793" cy="1510.8" rx="10" ry="2.5" fill="#161616" opacity="0.9" filter="url(#bl1)"/>
</g>
<path d="M833 1471.4L808.9 1491.6" stroke="#ece400" stroke-width="2.4"/>
<path d="M799 1500L805.1 1487L812.8 1496.2Z" fill="#f4ec00"/>
<g clip-path="url(#cp6)">
<rect x="1568.6" y="1234.3" width="468.7" height="381.8" fill="url(#hg6)"/>
<rect x="1568.6" y="1234.3" width="468.7" height="381.8" fill="#fff" opacity="0.3"/>
<rect x="1568.6" y="1234.3" width="468.7" height="381.8" filter="url(#grain2)" opacity="0.45" style="mix-blend-mode:soft-light"/>
<circle cx="1799.7" cy="1479" r="170.9" fill="none" stroke="url(#rg6)" stroke-width="1.7"/>
<path d="M1628.8 1479A170.9 170.9 0 0 1 1646.1 1404.1" fill="none" stroke="#1a1014" stroke-opacity="0.7" stroke-width="2.2" stroke-linecap="round" filter="url(#bl05)"/>
<path d="M1969.9 1464.2A170.9 170.9 0 0 1 1947.7 1564.5" fill="none" stroke="#1a1014" stroke-opacity="0.8" stroke-width="2.4" stroke-linecap="round" filter="url(#bl05)"/>
<path d="M1776.3 1490.8L1568.6 1512.7L1568.6 1570Z" fill="#ff6a72" fill-opacity="0.48"/>
<path d="M1797.5 1504.9L1728.3 1627.6" stroke="#fff" stroke-width="14.5" stroke-linecap="butt" filter="url(#bl3)"/>
<circle cx="1800.5" cy="1500.9" r="24.6" fill="url(#bg6)"/>
<ellipse cx="1800.5" cy="1471.1" rx="3.2" ry="1.3" fill="#333" opacity="0.8"/>
<rect x="1568.6" y="1379" width="468.7" height="15.8" fill="#000"/>
</g>
<rect x="1776.3" y="1459.9" width="50.5" height="56.2" fill="none" stroke="#ff2a7c" stroke-width="2"/>
<text x="1769.2" y="1539.6" font-family='"Liberation Serif",serif' font-size="22" font-weight="bold" fill="#000" textLength="68" lengthAdjust="spacingAndGlyphs" stroke="#000" stroke-width="0.6">SAXS</text>
<text x="1890.8" y="1519.4" font-family='"Liberation Serif",serif' font-size="40" font-weight="bold" fill="#000" textLength="66.7" lengthAdjust="spacingAndGlyphs" stroke="#000" stroke-width="0.6">210</text>
<text x="1577.7" y="1292.2" font-family='"Liberation Serif",serif' font-size="54" font-weight="bold" fill="#000" textLength="53.2" lengthAdjust="spacingAndGlyphs" stroke="#000" stroke-width="0.6">#6</text>
<text x="1752.7" y="1292.2" font-family='"Liberation Serif",serif' font-size="50" font-weight="normal" fill="#000" textLength="129" lengthAdjust="spacingAndGlyphs" stroke="#000" stroke-width="1.0">Ridge</text>
<text x="1405.7" y="1450" font-family='"Liberation Serif",serif' font-size="55" font-weight="normal" fill="#000" textLength="136.8" lengthAdjust="spacingAndGlyphs" stroke="#000" stroke-width="1.7">SAXS</text>
<rect x="1396.3" y="1458.7" width="157.6" height="162.3" fill="#ff0808"/>
<g clip-path="url(#ci6)">
<rect x="1396.3" y="1458.7" width="157.6" height="162.3" fill="url(#ig6)"/>
<rect x="1396.3" y="1458.7" width="157.6" height="162.3" filter="url(#grain)" opacity="0.3"/>
<path d="M1408.8 1587.8A67 67 0 0 1 1542.8 1587.8V1641H1408.8Z" fill="#fff" filter="url(#bl4)"/>
<ellipse cx="1473" cy="1510.5" rx="12.2" ry="6" fill="#444" opacity="0.5" filter="url(#bl2)"/>
<ellipse cx="1473" cy="1505.5" rx="13.5" ry="2.5" fill="#161616" opacity="0.9" filter="url(#bl1)"/>
</g>
<path d="M1523.9 1464.7L1496.3 1488.9" stroke="#ece400" stroke-width="2.4"/>
<path d="M1486.5 1497.5L1492.3 1484.4L1500.2 1493.4Z" fill="#f4ec00"/>
<text x="83" y="889" font-family='"Liberation Serif",serif' font-size="82" font-weight="bold" fill="#000" textLength="94" lengthAdjust="spacingAndGlyphs" stroke="#000" stroke-width="0.6">(c)</text>
</svg>
</body></html>
